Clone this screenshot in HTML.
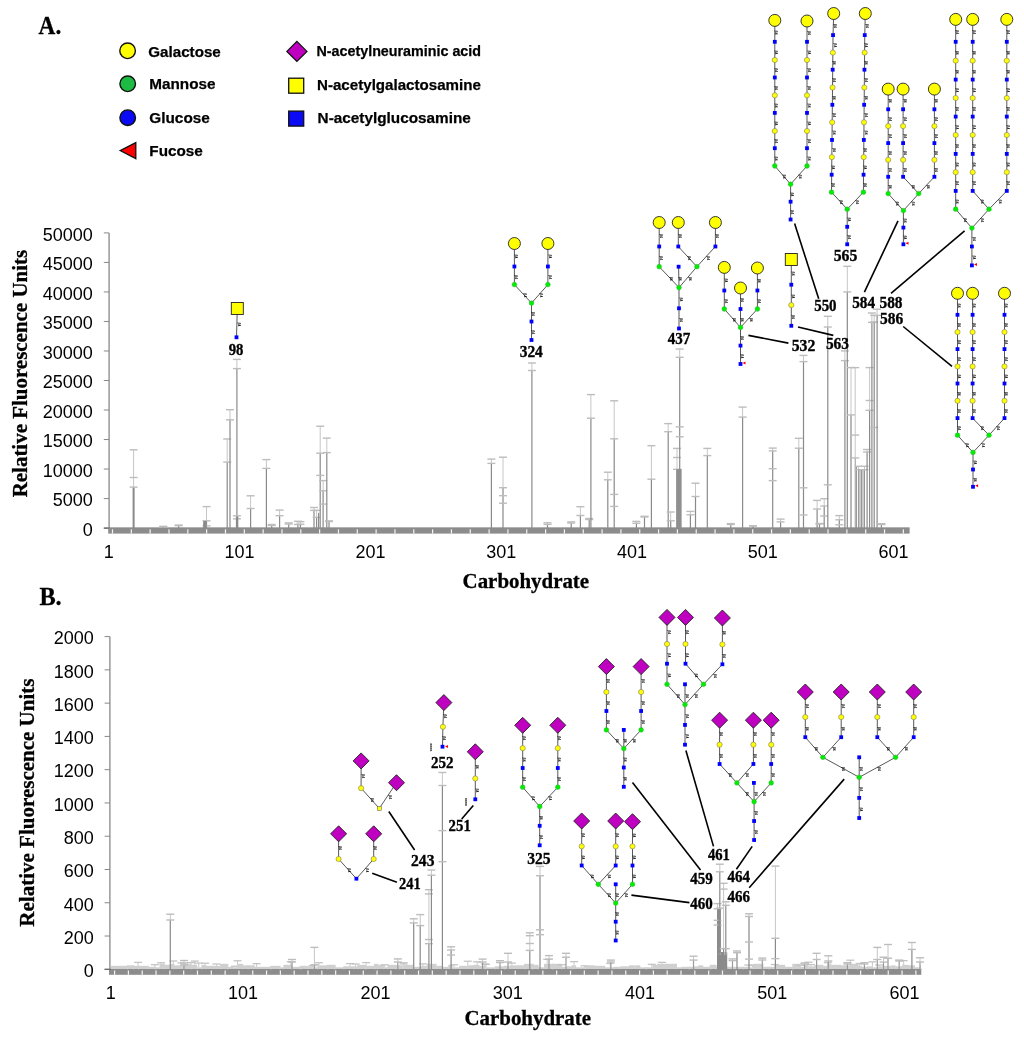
<!DOCTYPE html>
<html><head><meta charset="utf-8"><style>
html,body{margin:0;padding:0;background:#fff;}
body{width:1024px;height:1037px;overflow:hidden;}
svg{display:block;will-change:transform;}
</style></head><body>
<svg width="1024" height="1037" viewBox="0 0 1024 1037">
<rect width="1024" height="1037" fill="#fff"/>
<text x="38.6" y="33.8" font-size="25" font-family='"Liberation Serif", serif' font-weight="bold" text-anchor="start" fill="#000" textLength="22.6" lengthAdjust="spacingAndGlyphs" stroke="#000" stroke-width="0.3">A.</text>
<text x="39.4" y="605.4" font-size="25" font-family='"Liberation Serif", serif' font-weight="bold" text-anchor="start" fill="#000" textLength="22.3" lengthAdjust="spacingAndGlyphs" stroke="#000" stroke-width="0.3">B.</text>
<circle cx="127.6" cy="50.8" r="7.8" fill="#ffff00" stroke="#111" stroke-width="1.4"/>
<circle cx="127.7" cy="83.8" r="7.8" fill="#1dbb44" stroke="#111" stroke-width="1.4"/>
<circle cx="127.7" cy="117.7" r="7.8" fill="#0a0af5" stroke="#111" stroke-width="1.4"/>
<polygon points="120.2,150.6 135.8,142.6 135.8,158.6" fill="#ff0000" stroke="#111" stroke-width="1.3"/>
<polygon points="296.9,41.4 306.9,51.4 296.9,61.4 286.9,51.4" fill="#c000c0" stroke="#111" stroke-width="1.3"/>
<rect x="288.7" y="78.2" width="15" height="15" fill="#ffff00" stroke="#111" stroke-width="1.3"/>
<rect x="288.7" y="111.1" width="15" height="15" fill="#0a0af5" stroke="#111" stroke-width="1.3"/>
<text x="148.3" y="56.6" font-size="15" font-family='"Liberation Sans", sans-serif' font-weight="bold" text-anchor="start" fill="#000" textLength="72.5" lengthAdjust="spacingAndGlyphs" stroke="#000" stroke-width="0.25">Galactose</text>
<text x="149.3" y="89" font-size="15" font-family='"Liberation Sans", sans-serif' font-weight="bold" text-anchor="start" fill="#000" textLength="66.2" lengthAdjust="spacingAndGlyphs" stroke="#000" stroke-width="0.25">Mannose</text>
<text x="149.3" y="122.5" font-size="15" font-family='"Liberation Sans", sans-serif' font-weight="bold" text-anchor="start" fill="#000" textLength="60.5" lengthAdjust="spacingAndGlyphs" stroke="#000" stroke-width="0.25">Glucose</text>
<text x="149.3" y="155.8" font-size="15" font-family='"Liberation Sans", sans-serif' font-weight="bold" text-anchor="start" fill="#000" textLength="53.5" lengthAdjust="spacingAndGlyphs" stroke="#000" stroke-width="0.25">Fucose</text>
<text x="316.5" y="56.3" font-size="15" font-family='"Liberation Sans", sans-serif' font-weight="bold" text-anchor="start" fill="#000" textLength="164.5" lengthAdjust="spacingAndGlyphs" stroke="#000" stroke-width="0.25">N-acetylneuraminic acid</text>
<text x="317" y="89.6" font-size="15" font-family='"Liberation Sans", sans-serif' font-weight="bold" text-anchor="start" fill="#000" textLength="163.9" lengthAdjust="spacingAndGlyphs" stroke="#000" stroke-width="0.25">N-acetylgalactosamine</text>
<text x="317.6" y="123" font-size="15" font-family='"Liberation Sans", sans-serif' font-weight="bold" text-anchor="start" fill="#000" textLength="153.2" lengthAdjust="spacingAndGlyphs" stroke="#000" stroke-width="0.25">N-acetylglucosamine</text>
<line x1="109.1" y1="232.9" x2="109.1" y2="528.1" stroke="#888" stroke-width="1.3"/>
<line x1="103.8" y1="232.9" x2="109.1" y2="232.9" stroke="#888" stroke-width="1"/>
<text x="92.85" y="240.7" font-size="18" font-family='"Liberation Sans", sans-serif' font-weight="normal" text-anchor="end" fill="#000">50000</text>
<line x1="103.8" y1="262.42" x2="109.1" y2="262.42" stroke="#888" stroke-width="1"/>
<text x="92.85" y="270.22" font-size="18" font-family='"Liberation Sans", sans-serif' font-weight="normal" text-anchor="end" fill="#000">45000</text>
<line x1="103.8" y1="291.94" x2="109.1" y2="291.94" stroke="#888" stroke-width="1"/>
<text x="92.85" y="299.74" font-size="18" font-family='"Liberation Sans", sans-serif' font-weight="normal" text-anchor="end" fill="#000">40000</text>
<line x1="103.8" y1="321.46" x2="109.1" y2="321.46" stroke="#888" stroke-width="1"/>
<text x="92.85" y="329.26" font-size="18" font-family='"Liberation Sans", sans-serif' font-weight="normal" text-anchor="end" fill="#000">35000</text>
<line x1="103.8" y1="350.98" x2="109.1" y2="350.98" stroke="#888" stroke-width="1"/>
<text x="92.85" y="358.78" font-size="18" font-family='"Liberation Sans", sans-serif' font-weight="normal" text-anchor="end" fill="#000">30000</text>
<line x1="103.8" y1="380.5" x2="109.1" y2="380.5" stroke="#888" stroke-width="1"/>
<text x="92.85" y="388.3" font-size="18" font-family='"Liberation Sans", sans-serif' font-weight="normal" text-anchor="end" fill="#000">25000</text>
<line x1="103.8" y1="410.02" x2="109.1" y2="410.02" stroke="#888" stroke-width="1"/>
<text x="92.85" y="417.82" font-size="18" font-family='"Liberation Sans", sans-serif' font-weight="normal" text-anchor="end" fill="#000">20000</text>
<line x1="103.8" y1="439.54" x2="109.1" y2="439.54" stroke="#888" stroke-width="1"/>
<text x="92.85" y="447.34" font-size="18" font-family='"Liberation Sans", sans-serif' font-weight="normal" text-anchor="end" fill="#000">15000</text>
<line x1="103.8" y1="469.06" x2="109.1" y2="469.06" stroke="#888" stroke-width="1"/>
<text x="92.85" y="476.86" font-size="18" font-family='"Liberation Sans", sans-serif' font-weight="normal" text-anchor="end" fill="#000">10000</text>
<line x1="103.8" y1="498.58" x2="109.1" y2="498.58" stroke="#888" stroke-width="1"/>
<text x="92.85" y="506.38" font-size="18" font-family='"Liberation Sans", sans-serif' font-weight="normal" text-anchor="end" fill="#000">5000</text>
<line x1="103.8" y1="528.1" x2="109.1" y2="528.1" stroke="#888" stroke-width="1"/>
<text x="92.85" y="535.9" font-size="18" font-family='"Liberation Sans", sans-serif' font-weight="normal" text-anchor="end" fill="#000">0</text>
<line x1="103.8" y1="528.1" x2="909.6" y2="528.1" stroke="#666" stroke-width="1.2"/>
<rect x="108.2" y="528.6" width="801.4" height="5" fill="#8c8c8c"/>
<rect x="111.9" y="529.3" width="1.2" height="4.3" fill="#f4f4f4"/>
<rect x="130.73" y="529.3" width="1.2" height="4.3" fill="#f4f4f4"/>
<rect x="149.56" y="529.3" width="1.2" height="4.3" fill="#f4f4f4"/>
<rect x="168.39" y="529.3" width="1.2" height="4.3" fill="#f4f4f4"/>
<rect x="187.22" y="529.3" width="1.2" height="4.3" fill="#f4f4f4"/>
<rect x="206.05" y="529.3" width="1.2" height="4.3" fill="#f4f4f4"/>
<rect x="224.88" y="529.3" width="1.2" height="4.3" fill="#f4f4f4"/>
<rect x="243.71" y="529.3" width="1.2" height="4.3" fill="#f4f4f4"/>
<rect x="262.54" y="529.3" width="1.2" height="4.3" fill="#f4f4f4"/>
<rect x="281.37" y="529.3" width="1.2" height="4.3" fill="#f4f4f4"/>
<rect x="300.2" y="529.3" width="1.2" height="4.3" fill="#f4f4f4"/>
<rect x="319.03" y="529.3" width="1.2" height="4.3" fill="#f4f4f4"/>
<rect x="337.86" y="529.3" width="1.2" height="4.3" fill="#f4f4f4"/>
<rect x="356.69" y="529.3" width="1.2" height="4.3" fill="#f4f4f4"/>
<rect x="375.52" y="529.3" width="1.2" height="4.3" fill="#f4f4f4"/>
<rect x="394.35" y="529.3" width="1.2" height="4.3" fill="#f4f4f4"/>
<rect x="413.18" y="529.3" width="1.2" height="4.3" fill="#f4f4f4"/>
<rect x="432.01" y="529.3" width="1.2" height="4.3" fill="#f4f4f4"/>
<rect x="450.84" y="529.3" width="1.2" height="4.3" fill="#f4f4f4"/>
<rect x="469.67" y="529.3" width="1.2" height="4.3" fill="#f4f4f4"/>
<rect x="488.5" y="529.3" width="1.2" height="4.3" fill="#f4f4f4"/>
<rect x="507.33" y="529.3" width="1.2" height="4.3" fill="#f4f4f4"/>
<rect x="526.16" y="529.3" width="1.2" height="4.3" fill="#f4f4f4"/>
<rect x="544.99" y="529.3" width="1.2" height="4.3" fill="#f4f4f4"/>
<rect x="563.82" y="529.3" width="1.2" height="4.3" fill="#f4f4f4"/>
<rect x="582.65" y="529.3" width="1.2" height="4.3" fill="#f4f4f4"/>
<rect x="601.48" y="529.3" width="1.2" height="4.3" fill="#f4f4f4"/>
<rect x="620.31" y="529.3" width="1.2" height="4.3" fill="#f4f4f4"/>
<rect x="639.14" y="529.3" width="1.2" height="4.3" fill="#f4f4f4"/>
<rect x="657.97" y="529.3" width="1.2" height="4.3" fill="#f4f4f4"/>
<rect x="676.8" y="529.3" width="1.2" height="4.3" fill="#f4f4f4"/>
<rect x="695.63" y="529.3" width="1.2" height="4.3" fill="#f4f4f4"/>
<rect x="714.46" y="529.3" width="1.2" height="4.3" fill="#f4f4f4"/>
<rect x="733.29" y="529.3" width="1.2" height="4.3" fill="#f4f4f4"/>
<rect x="752.12" y="529.3" width="1.2" height="4.3" fill="#f4f4f4"/>
<rect x="770.95" y="529.3" width="1.2" height="4.3" fill="#f4f4f4"/>
<rect x="789.78" y="529.3" width="1.2" height="4.3" fill="#f4f4f4"/>
<rect x="808.61" y="529.3" width="1.2" height="4.3" fill="#f4f4f4"/>
<rect x="827.44" y="529.3" width="1.2" height="4.3" fill="#f4f4f4"/>
<rect x="846.27" y="529.3" width="1.2" height="4.3" fill="#f4f4f4"/>
<rect x="865.1" y="529.3" width="1.2" height="4.3" fill="#f4f4f4"/>
<rect x="883.93" y="529.3" width="1.2" height="4.3" fill="#f4f4f4"/>
<rect x="902.76" y="529.3" width="1.2" height="4.3" fill="#f4f4f4"/>
<text x="108.8" y="557.6" font-size="18" font-family='"Liberation Sans", sans-serif' font-weight="normal" text-anchor="middle" fill="#000">1</text>
<text x="239.6" y="557.6" font-size="18" font-family='"Liberation Sans", sans-serif' font-weight="normal" text-anchor="middle" fill="#000">101</text>
<text x="370.4" y="557.6" font-size="18" font-family='"Liberation Sans", sans-serif' font-weight="normal" text-anchor="middle" fill="#000">201</text>
<text x="501.2" y="557.6" font-size="18" font-family='"Liberation Sans", sans-serif' font-weight="normal" text-anchor="middle" fill="#000">301</text>
<text x="632" y="557.6" font-size="18" font-family='"Liberation Sans", sans-serif' font-weight="normal" text-anchor="middle" fill="#000">401</text>
<text x="762.8" y="557.6" font-size="18" font-family='"Liberation Sans", sans-serif' font-weight="normal" text-anchor="middle" fill="#000">501</text>
<text x="893.6" y="557.6" font-size="18" font-family='"Liberation Sans", sans-serif' font-weight="normal" text-anchor="middle" fill="#000">601</text>
<text transform="translate(27,373.6) rotate(-90)" font-size="21" font-family='"Liberation Serif", serif' font-weight="bold" text-anchor="middle" textLength="247.5" lengthAdjust="spacingAndGlyphs" stroke="#000" stroke-width="0.3">Relative Fluorescence Units</text>
<text x="462.6" y="587.9" font-size="21" font-family='"Liberation Serif", serif' font-weight="bold" text-anchor="start" fill="#000" textLength="126.5" lengthAdjust="spacingAndGlyphs" stroke="#000" stroke-width="0.3">Carbohydrate</text>
<line x1="109.9" y1="636.6" x2="109.9" y2="969.3" stroke="#888" stroke-width="1.3"/>
<line x1="104.6" y1="636.6" x2="109.9" y2="636.6" stroke="#888" stroke-width="1"/>
<text x="93.75" y="644.4" font-size="18" font-family='"Liberation Sans", sans-serif' font-weight="normal" text-anchor="end" fill="#000">2000</text>
<line x1="104.6" y1="669.87" x2="109.9" y2="669.87" stroke="#888" stroke-width="1"/>
<text x="93.75" y="677.67" font-size="18" font-family='"Liberation Sans", sans-serif' font-weight="normal" text-anchor="end" fill="#000">1800</text>
<line x1="104.6" y1="703.14" x2="109.9" y2="703.14" stroke="#888" stroke-width="1"/>
<text x="93.75" y="710.94" font-size="18" font-family='"Liberation Sans", sans-serif' font-weight="normal" text-anchor="end" fill="#000">1600</text>
<line x1="104.6" y1="736.41" x2="109.9" y2="736.41" stroke="#888" stroke-width="1"/>
<text x="93.75" y="744.21" font-size="18" font-family='"Liberation Sans", sans-serif' font-weight="normal" text-anchor="end" fill="#000">1400</text>
<line x1="104.6" y1="769.68" x2="109.9" y2="769.68" stroke="#888" stroke-width="1"/>
<text x="93.75" y="777.48" font-size="18" font-family='"Liberation Sans", sans-serif' font-weight="normal" text-anchor="end" fill="#000">1200</text>
<line x1="104.6" y1="802.95" x2="109.9" y2="802.95" stroke="#888" stroke-width="1"/>
<text x="93.75" y="810.75" font-size="18" font-family='"Liberation Sans", sans-serif' font-weight="normal" text-anchor="end" fill="#000">1000</text>
<line x1="104.6" y1="836.22" x2="109.9" y2="836.22" stroke="#888" stroke-width="1"/>
<text x="93.75" y="844.02" font-size="18" font-family='"Liberation Sans", sans-serif' font-weight="normal" text-anchor="end" fill="#000">800</text>
<line x1="104.6" y1="869.49" x2="109.9" y2="869.49" stroke="#888" stroke-width="1"/>
<text x="93.75" y="877.29" font-size="18" font-family='"Liberation Sans", sans-serif' font-weight="normal" text-anchor="end" fill="#000">600</text>
<line x1="104.6" y1="902.76" x2="109.9" y2="902.76" stroke="#888" stroke-width="1"/>
<text x="93.75" y="910.56" font-size="18" font-family='"Liberation Sans", sans-serif' font-weight="normal" text-anchor="end" fill="#000">400</text>
<line x1="104.6" y1="936.03" x2="109.9" y2="936.03" stroke="#888" stroke-width="1"/>
<text x="93.75" y="943.83" font-size="18" font-family='"Liberation Sans", sans-serif' font-weight="normal" text-anchor="end" fill="#000">200</text>
<line x1="104.6" y1="969.3" x2="109.9" y2="969.3" stroke="#888" stroke-width="1"/>
<text x="93.75" y="977.1" font-size="18" font-family='"Liberation Sans", sans-serif' font-weight="normal" text-anchor="end" fill="#000">0</text>
<line x1="104.6" y1="969.3" x2="921.3" y2="969.3" stroke="#666" stroke-width="1.2"/>
<rect x="109" y="969.8" width="812.3" height="5" fill="#8c8c8c"/>
<rect x="114" y="970.5" width="1.2" height="4.3" fill="#f4f4f4"/>
<rect x="127.81" y="970.5" width="1.2" height="4.3" fill="#f4f4f4"/>
<rect x="141.63" y="970.5" width="1.2" height="4.3" fill="#f4f4f4"/>
<rect x="155.44" y="970.5" width="1.2" height="4.3" fill="#f4f4f4"/>
<rect x="169.26" y="970.5" width="1.2" height="4.3" fill="#f4f4f4"/>
<rect x="183.07" y="970.5" width="1.2" height="4.3" fill="#f4f4f4"/>
<rect x="196.89" y="970.5" width="1.2" height="4.3" fill="#f4f4f4"/>
<rect x="210.7" y="970.5" width="1.2" height="4.3" fill="#f4f4f4"/>
<rect x="224.52" y="970.5" width="1.2" height="4.3" fill="#f4f4f4"/>
<rect x="238.33" y="970.5" width="1.2" height="4.3" fill="#f4f4f4"/>
<rect x="252.15" y="970.5" width="1.2" height="4.3" fill="#f4f4f4"/>
<rect x="265.96" y="970.5" width="1.2" height="4.3" fill="#f4f4f4"/>
<rect x="279.78" y="970.5" width="1.2" height="4.3" fill="#f4f4f4"/>
<rect x="293.59" y="970.5" width="1.2" height="4.3" fill="#f4f4f4"/>
<rect x="307.41" y="970.5" width="1.2" height="4.3" fill="#f4f4f4"/>
<rect x="321.22" y="970.5" width="1.2" height="4.3" fill="#f4f4f4"/>
<rect x="335.04" y="970.5" width="1.2" height="4.3" fill="#f4f4f4"/>
<rect x="348.85" y="970.5" width="1.2" height="4.3" fill="#f4f4f4"/>
<rect x="362.67" y="970.5" width="1.2" height="4.3" fill="#f4f4f4"/>
<rect x="376.48" y="970.5" width="1.2" height="4.3" fill="#f4f4f4"/>
<rect x="390.3" y="970.5" width="1.2" height="4.3" fill="#f4f4f4"/>
<rect x="404.11" y="970.5" width="1.2" height="4.3" fill="#f4f4f4"/>
<rect x="417.93" y="970.5" width="1.2" height="4.3" fill="#f4f4f4"/>
<rect x="431.74" y="970.5" width="1.2" height="4.3" fill="#f4f4f4"/>
<rect x="445.56" y="970.5" width="1.2" height="4.3" fill="#f4f4f4"/>
<rect x="459.37" y="970.5" width="1.2" height="4.3" fill="#f4f4f4"/>
<rect x="473.19" y="970.5" width="1.2" height="4.3" fill="#f4f4f4"/>
<rect x="487" y="970.5" width="1.2" height="4.3" fill="#f4f4f4"/>
<rect x="500.82" y="970.5" width="1.2" height="4.3" fill="#f4f4f4"/>
<rect x="514.63" y="970.5" width="1.2" height="4.3" fill="#f4f4f4"/>
<rect x="528.45" y="970.5" width="1.2" height="4.3" fill="#f4f4f4"/>
<rect x="542.27" y="970.5" width="1.2" height="4.3" fill="#f4f4f4"/>
<rect x="556.08" y="970.5" width="1.2" height="4.3" fill="#f4f4f4"/>
<rect x="569.9" y="970.5" width="1.2" height="4.3" fill="#f4f4f4"/>
<rect x="583.71" y="970.5" width="1.2" height="4.3" fill="#f4f4f4"/>
<rect x="597.53" y="970.5" width="1.2" height="4.3" fill="#f4f4f4"/>
<rect x="611.34" y="970.5" width="1.2" height="4.3" fill="#f4f4f4"/>
<rect x="625.16" y="970.5" width="1.2" height="4.3" fill="#f4f4f4"/>
<rect x="638.97" y="970.5" width="1.2" height="4.3" fill="#f4f4f4"/>
<rect x="652.79" y="970.5" width="1.2" height="4.3" fill="#f4f4f4"/>
<rect x="666.6" y="970.5" width="1.2" height="4.3" fill="#f4f4f4"/>
<rect x="680.42" y="970.5" width="1.2" height="4.3" fill="#f4f4f4"/>
<rect x="694.23" y="970.5" width="1.2" height="4.3" fill="#f4f4f4"/>
<rect x="708.05" y="970.5" width="1.2" height="4.3" fill="#f4f4f4"/>
<rect x="721.86" y="970.5" width="1.2" height="4.3" fill="#f4f4f4"/>
<rect x="735.68" y="970.5" width="1.2" height="4.3" fill="#f4f4f4"/>
<rect x="749.49" y="970.5" width="1.2" height="4.3" fill="#f4f4f4"/>
<rect x="763.31" y="970.5" width="1.2" height="4.3" fill="#f4f4f4"/>
<rect x="777.12" y="970.5" width="1.2" height="4.3" fill="#f4f4f4"/>
<rect x="790.94" y="970.5" width="1.2" height="4.3" fill="#f4f4f4"/>
<rect x="804.75" y="970.5" width="1.2" height="4.3" fill="#f4f4f4"/>
<rect x="818.57" y="970.5" width="1.2" height="4.3" fill="#f4f4f4"/>
<rect x="832.38" y="970.5" width="1.2" height="4.3" fill="#f4f4f4"/>
<rect x="846.2" y="970.5" width="1.2" height="4.3" fill="#f4f4f4"/>
<rect x="860.01" y="970.5" width="1.2" height="4.3" fill="#f4f4f4"/>
<rect x="873.83" y="970.5" width="1.2" height="4.3" fill="#f4f4f4"/>
<rect x="887.64" y="970.5" width="1.2" height="4.3" fill="#f4f4f4"/>
<rect x="901.46" y="970.5" width="1.2" height="4.3" fill="#f4f4f4"/>
<rect x="915.27" y="970.5" width="1.2" height="4.3" fill="#f4f4f4"/>
<text x="110.8" y="999" font-size="18" font-family='"Liberation Sans", sans-serif' font-weight="normal" text-anchor="middle" fill="#000">1</text>
<text x="243.1" y="999" font-size="18" font-family='"Liberation Sans", sans-serif' font-weight="normal" text-anchor="middle" fill="#000">101</text>
<text x="375.4" y="999" font-size="18" font-family='"Liberation Sans", sans-serif' font-weight="normal" text-anchor="middle" fill="#000">201</text>
<text x="507.7" y="999" font-size="18" font-family='"Liberation Sans", sans-serif' font-weight="normal" text-anchor="middle" fill="#000">301</text>
<text x="640" y="999" font-size="18" font-family='"Liberation Sans", sans-serif' font-weight="normal" text-anchor="middle" fill="#000">401</text>
<text x="772.3" y="999" font-size="18" font-family='"Liberation Sans", sans-serif' font-weight="normal" text-anchor="middle" fill="#000">501</text>
<text x="904.6" y="999" font-size="18" font-family='"Liberation Sans", sans-serif' font-weight="normal" text-anchor="middle" fill="#000">601</text>
<text transform="translate(33.6,802.6) rotate(-90)" font-size="21" font-family='"Liberation Serif", serif' font-weight="bold" text-anchor="middle" textLength="248.2" lengthAdjust="spacingAndGlyphs" stroke="#000" stroke-width="0.3">Relative Fluorescence Units</text>
<text x="464.5" y="1025.1" font-size="21" font-family='"Liberation Serif", serif' font-weight="bold" text-anchor="start" fill="#000" textLength="126.5" lengthAdjust="spacingAndGlyphs" stroke="#000" stroke-width="0.3">Carbohydrate</text>
<line x1="133.6" y1="449.8" x2="133.6" y2="487.1" stroke="#c6c6c6" stroke-width="1"/>
<rect x="132.6" y="487.1" width="2" height="41" fill="#8a8a8a"/>
<line x1="129.6" y1="449.8" x2="137.6" y2="449.8" stroke="#bdbdbd" stroke-width="1.4"/>
<line x1="129.6" y1="477.5" x2="137.6" y2="477.5" stroke="#bdbdbd" stroke-width="1.4"/>
<line x1="129.6" y1="487.1" x2="137.6" y2="487.1" stroke="#bdbdbd" stroke-width="1.4"/>
<line x1="163.3" y1="526.3" x2="163.3" y2="526.8" stroke="#c6c6c6" stroke-width="1"/>
<rect x="162.7" y="526.8" width="1.2" height="1.3" fill="#8a8a8a"/>
<line x1="159.3" y1="526.3" x2="167.3" y2="526.3" stroke="#bdbdbd" stroke-width="1.4"/>
<line x1="159.3" y1="526.8" x2="167.3" y2="526.8" stroke="#bdbdbd" stroke-width="1.4"/>
<line x1="178.7" y1="525.1" x2="178.7" y2="525.6" stroke="#c6c6c6" stroke-width="1"/>
<rect x="178.1" y="525.6" width="1.2" height="2.5" fill="#8a8a8a"/>
<line x1="174.7" y1="525.1" x2="182.7" y2="525.1" stroke="#bdbdbd" stroke-width="1.4"/>
<line x1="174.7" y1="525.6" x2="182.7" y2="525.6" stroke="#bdbdbd" stroke-width="1.4"/>
<rect x="203.4" y="523.5" width="1.2" height="4.6" fill="#8a8a8a"/>
<line x1="206.5" y1="506.6" x2="206.5" y2="520.8" stroke="#c6c6c6" stroke-width="1"/>
<rect x="205.9" y="520.8" width="1.2" height="7.3" fill="#8a8a8a"/>
<line x1="202.5" y1="506.6" x2="210.5" y2="506.6" stroke="#bdbdbd" stroke-width="1.4"/>
<line x1="202.5" y1="525.9" x2="210.5" y2="525.9" stroke="#bdbdbd" stroke-width="1.4"/>
<line x1="202.5" y1="520.8" x2="210.5" y2="520.8" stroke="#bdbdbd" stroke-width="1.4"/>
<line x1="227.2" y1="439" x2="227.2" y2="462.1" stroke="#c6c6c6" stroke-width="1"/>
<rect x="226.6" y="462.1" width="1.2" height="66" fill="#8a8a8a"/>
<line x1="223.2" y1="439" x2="231.2" y2="439" stroke="#bdbdbd" stroke-width="1.4"/>
<line x1="223.2" y1="462.1" x2="231.2" y2="462.1" stroke="#bdbdbd" stroke-width="1.4"/>
<line x1="230" y1="409.7" x2="230" y2="419.8" stroke="#c6c6c6" stroke-width="1"/>
<rect x="229.4" y="419.8" width="1.2" height="108.3" fill="#8a8a8a"/>
<line x1="226" y1="409.7" x2="234" y2="409.7" stroke="#bdbdbd" stroke-width="1.4"/>
<line x1="226" y1="419.8" x2="234" y2="419.8" stroke="#bdbdbd" stroke-width="1.4"/>
<line x1="236.9" y1="359.4" x2="236.9" y2="368.6" stroke="#c6c6c6" stroke-width="1"/>
<rect x="236.3" y="368.6" width="1.2" height="159.5" fill="#8a8a8a"/>
<line x1="232.9" y1="359.4" x2="240.9" y2="359.4" stroke="#bdbdbd" stroke-width="1.4"/>
<line x1="232.9" y1="515.8" x2="240.9" y2="515.8" stroke="#bdbdbd" stroke-width="1.4"/>
<line x1="232.9" y1="518.9" x2="240.9" y2="518.9" stroke="#bdbdbd" stroke-width="1.4"/>
<line x1="232.9" y1="368.6" x2="240.9" y2="368.6" stroke="#bdbdbd" stroke-width="1.4"/>
<line x1="250.6" y1="495.8" x2="250.6" y2="508.5" stroke="#c6c6c6" stroke-width="1"/>
<rect x="250" y="508.5" width="1.2" height="19.6" fill="#8a8a8a"/>
<line x1="246.6" y1="495.8" x2="254.6" y2="495.8" stroke="#bdbdbd" stroke-width="1.4"/>
<line x1="246.6" y1="508.5" x2="254.6" y2="508.5" stroke="#bdbdbd" stroke-width="1.4"/>
<line x1="266.4" y1="459.6" x2="266.4" y2="468.4" stroke="#c6c6c6" stroke-width="1"/>
<rect x="265.8" y="468.4" width="1.2" height="59.7" fill="#8a8a8a"/>
<line x1="262.4" y1="459.6" x2="270.4" y2="459.6" stroke="#bdbdbd" stroke-width="1.4"/>
<line x1="262.4" y1="468.4" x2="270.4" y2="468.4" stroke="#bdbdbd" stroke-width="1.4"/>
<line x1="271.7" y1="524.5" x2="271.7" y2="525.5" stroke="#c6c6c6" stroke-width="1"/>
<rect x="271.1" y="525.5" width="1.2" height="2.6" fill="#8a8a8a"/>
<line x1="267.7" y1="524.5" x2="275.7" y2="524.5" stroke="#bdbdbd" stroke-width="1.4"/>
<line x1="267.7" y1="525.5" x2="275.7" y2="525.5" stroke="#bdbdbd" stroke-width="1.4"/>
<line x1="279.6" y1="510.1" x2="279.6" y2="515.7" stroke="#c6c6c6" stroke-width="1"/>
<rect x="279" y="515.7" width="1.2" height="12.4" fill="#8a8a8a"/>
<line x1="275.6" y1="510.1" x2="283.6" y2="510.1" stroke="#bdbdbd" stroke-width="1.4"/>
<line x1="275.6" y1="515.7" x2="283.6" y2="515.7" stroke="#bdbdbd" stroke-width="1.4"/>
<line x1="288.7" y1="522.9" x2="288.7" y2="524" stroke="#c6c6c6" stroke-width="1"/>
<rect x="288.1" y="524" width="1.2" height="4.1" fill="#8a8a8a"/>
<line x1="284.7" y1="522.9" x2="292.7" y2="522.9" stroke="#bdbdbd" stroke-width="1.4"/>
<line x1="284.7" y1="524" x2="292.7" y2="524" stroke="#bdbdbd" stroke-width="1.4"/>
<line x1="297.9" y1="521.3" x2="297.9" y2="524.5" stroke="#c6c6c6" stroke-width="1"/>
<rect x="297.3" y="524.5" width="1.2" height="3.6" fill="#8a8a8a"/>
<line x1="293.9" y1="521.3" x2="301.9" y2="521.3" stroke="#bdbdbd" stroke-width="1.4"/>
<line x1="293.9" y1="524.5" x2="301.9" y2="524.5" stroke="#bdbdbd" stroke-width="1.4"/>
<line x1="300.4" y1="521.7" x2="300.4" y2="524.3" stroke="#c6c6c6" stroke-width="1"/>
<rect x="299.8" y="524.3" width="1.2" height="3.8" fill="#8a8a8a"/>
<line x1="296.4" y1="521.7" x2="304.4" y2="521.7" stroke="#bdbdbd" stroke-width="1.4"/>
<line x1="296.4" y1="524.3" x2="304.4" y2="524.3" stroke="#bdbdbd" stroke-width="1.4"/>
<line x1="314" y1="507.5" x2="314" y2="510.4" stroke="#c6c6c6" stroke-width="1"/>
<rect x="313.4" y="510.4" width="1.2" height="17.7" fill="#8a8a8a"/>
<line x1="310" y1="507.5" x2="318" y2="507.5" stroke="#bdbdbd" stroke-width="1.4"/>
<line x1="310" y1="510.4" x2="318" y2="510.4" stroke="#bdbdbd" stroke-width="1.4"/>
<line x1="316.6" y1="510.4" x2="316.6" y2="517.4" stroke="#c6c6c6" stroke-width="1"/>
<rect x="316" y="517.4" width="1.2" height="10.7" fill="#8a8a8a"/>
<line x1="312.6" y1="510.4" x2="320.6" y2="510.4" stroke="#bdbdbd" stroke-width="1.4"/>
<line x1="312.6" y1="517.4" x2="320.6" y2="517.4" stroke="#bdbdbd" stroke-width="1.4"/>
<rect x="318" y="512.8" width="1.2" height="15.3" fill="#8a8a8a"/>
<line x1="320.2" y1="426.2" x2="320.2" y2="453.2" stroke="#c6c6c6" stroke-width="1"/>
<rect x="319.6" y="453.2" width="1.2" height="74.9" fill="#8a8a8a"/>
<line x1="316.2" y1="426.2" x2="324.2" y2="426.2" stroke="#bdbdbd" stroke-width="1.4"/>
<line x1="316.2" y1="475.4" x2="324.2" y2="475.4" stroke="#bdbdbd" stroke-width="1.4"/>
<line x1="316.2" y1="453.2" x2="324.2" y2="453.2" stroke="#bdbdbd" stroke-width="1.4"/>
<line x1="323.1" y1="480.6" x2="323.1" y2="490.8" stroke="#c6c6c6" stroke-width="1"/>
<rect x="322.5" y="490.8" width="1.2" height="37.3" fill="#8a8a8a"/>
<line x1="319.1" y1="480.6" x2="327.1" y2="480.6" stroke="#bdbdbd" stroke-width="1.4"/>
<line x1="319.1" y1="504.1" x2="327.1" y2="504.1" stroke="#bdbdbd" stroke-width="1.4"/>
<line x1="319.1" y1="490.8" x2="327.1" y2="490.8" stroke="#bdbdbd" stroke-width="1.4"/>
<line x1="326.8" y1="438.1" x2="326.8" y2="452.6" stroke="#c6c6c6" stroke-width="1"/>
<rect x="326.2" y="452.6" width="1.2" height="75.5" fill="#8a8a8a"/>
<line x1="322.8" y1="438.1" x2="330.8" y2="438.1" stroke="#bdbdbd" stroke-width="1.4"/>
<line x1="322.8" y1="452.6" x2="330.8" y2="452.6" stroke="#bdbdbd" stroke-width="1.4"/>
<line x1="329" y1="520.9" x2="329" y2="521.5" stroke="#c6c6c6" stroke-width="1"/>
<rect x="328.4" y="521.5" width="1.2" height="6.6" fill="#8a8a8a"/>
<line x1="325" y1="520.9" x2="333" y2="520.9" stroke="#bdbdbd" stroke-width="1.4"/>
<line x1="325" y1="521.5" x2="333" y2="521.5" stroke="#bdbdbd" stroke-width="1.4"/>
<line x1="491.4" y1="459.1" x2="491.4" y2="463.4" stroke="#c6c6c6" stroke-width="1"/>
<rect x="490.8" y="463.4" width="1.2" height="64.7" fill="#8a8a8a"/>
<line x1="487.4" y1="459.1" x2="495.4" y2="459.1" stroke="#bdbdbd" stroke-width="1.4"/>
<line x1="487.4" y1="463.4" x2="495.4" y2="463.4" stroke="#bdbdbd" stroke-width="1.4"/>
<line x1="503" y1="457.2" x2="503" y2="487.7" stroke="#c6c6c6" stroke-width="1"/>
<rect x="502.4" y="487.7" width="1.2" height="40.4" fill="#8a8a8a"/>
<line x1="499" y1="457.2" x2="507" y2="457.2" stroke="#bdbdbd" stroke-width="1.4"/>
<line x1="499" y1="495.7" x2="507" y2="495.7" stroke="#bdbdbd" stroke-width="1.4"/>
<line x1="499" y1="503.2" x2="507" y2="503.2" stroke="#bdbdbd" stroke-width="1.4"/>
<line x1="499" y1="487.7" x2="507" y2="487.7" stroke="#bdbdbd" stroke-width="1.4"/>
<line x1="531.9" y1="363" x2="531.9" y2="370.5" stroke="#c6c6c6" stroke-width="1"/>
<rect x="531.3" y="370.5" width="1.2" height="157.6" fill="#8a8a8a"/>
<line x1="527.9" y1="363" x2="535.9" y2="363" stroke="#bdbdbd" stroke-width="1.4"/>
<line x1="527.9" y1="370.5" x2="535.9" y2="370.5" stroke="#bdbdbd" stroke-width="1.4"/>
<line x1="547.5" y1="522.8" x2="547.5" y2="524.4" stroke="#c6c6c6" stroke-width="1"/>
<rect x="546.9" y="524.4" width="1.2" height="3.7" fill="#8a8a8a"/>
<line x1="543.5" y1="522.8" x2="551.5" y2="522.8" stroke="#bdbdbd" stroke-width="1.4"/>
<line x1="543.5" y1="524.4" x2="551.5" y2="524.4" stroke="#bdbdbd" stroke-width="1.4"/>
<line x1="571.2" y1="521.9" x2="571.2" y2="523" stroke="#c6c6c6" stroke-width="1"/>
<rect x="570.6" y="523" width="1.2" height="5.1" fill="#8a8a8a"/>
<line x1="567.2" y1="521.9" x2="575.2" y2="521.9" stroke="#bdbdbd" stroke-width="1.4"/>
<line x1="567.2" y1="523" x2="575.2" y2="523" stroke="#bdbdbd" stroke-width="1.4"/>
<line x1="580.4" y1="506.7" x2="580.4" y2="515.5" stroke="#c6c6c6" stroke-width="1"/>
<rect x="579.8" y="515.5" width="1.2" height="12.6" fill="#8a8a8a"/>
<line x1="576.4" y1="506.7" x2="584.4" y2="506.7" stroke="#bdbdbd" stroke-width="1.4"/>
<line x1="576.4" y1="515.5" x2="584.4" y2="515.5" stroke="#bdbdbd" stroke-width="1.4"/>
<line x1="589.2" y1="518.5" x2="589.2" y2="519.5" stroke="#c6c6c6" stroke-width="1"/>
<rect x="588.6" y="519.5" width="1.2" height="8.6" fill="#8a8a8a"/>
<line x1="585.2" y1="518.5" x2="593.2" y2="518.5" stroke="#bdbdbd" stroke-width="1.4"/>
<line x1="585.2" y1="519.5" x2="593.2" y2="519.5" stroke="#bdbdbd" stroke-width="1.4"/>
<line x1="590.9" y1="394.6" x2="590.9" y2="418.2" stroke="#c6c6c6" stroke-width="1"/>
<rect x="590.3" y="418.2" width="1.2" height="109.9" fill="#8a8a8a"/>
<line x1="586.9" y1="394.6" x2="594.9" y2="394.6" stroke="#bdbdbd" stroke-width="1.4"/>
<line x1="586.9" y1="418.2" x2="594.9" y2="418.2" stroke="#bdbdbd" stroke-width="1.4"/>
<line x1="607.8" y1="472.2" x2="607.8" y2="479.8" stroke="#c6c6c6" stroke-width="1"/>
<rect x="607.2" y="479.8" width="1.2" height="48.3" fill="#8a8a8a"/>
<line x1="603.8" y1="472.2" x2="611.8" y2="472.2" stroke="#bdbdbd" stroke-width="1.4"/>
<line x1="603.8" y1="479.8" x2="611.8" y2="479.8" stroke="#bdbdbd" stroke-width="1.4"/>
<line x1="614.2" y1="400.8" x2="614.2" y2="438.8" stroke="#c6c6c6" stroke-width="1"/>
<rect x="613.6" y="438.8" width="1.2" height="89.3" fill="#8a8a8a"/>
<line x1="610.2" y1="400.8" x2="618.2" y2="400.8" stroke="#bdbdbd" stroke-width="1.4"/>
<line x1="610.2" y1="494.4" x2="618.2" y2="494.4" stroke="#bdbdbd" stroke-width="1.4"/>
<line x1="610.2" y1="506.4" x2="618.2" y2="506.4" stroke="#bdbdbd" stroke-width="1.4"/>
<line x1="610.2" y1="438.8" x2="618.2" y2="438.8" stroke="#bdbdbd" stroke-width="1.4"/>
<line x1="636.4" y1="521.4" x2="636.4" y2="523.3" stroke="#c6c6c6" stroke-width="1"/>
<rect x="635.8" y="523.3" width="1.2" height="4.8" fill="#8a8a8a"/>
<line x1="632.4" y1="521.4" x2="640.4" y2="521.4" stroke="#bdbdbd" stroke-width="1.4"/>
<line x1="632.4" y1="523.3" x2="640.4" y2="523.3" stroke="#bdbdbd" stroke-width="1.4"/>
<line x1="644.5" y1="516.3" x2="644.5" y2="517" stroke="#c6c6c6" stroke-width="1"/>
<rect x="643.9" y="517" width="1.2" height="11.1" fill="#8a8a8a"/>
<line x1="640.5" y1="516.3" x2="648.5" y2="516.3" stroke="#bdbdbd" stroke-width="1.4"/>
<line x1="640.5" y1="517" x2="648.5" y2="517" stroke="#bdbdbd" stroke-width="1.4"/>
<line x1="651.4" y1="445.7" x2="651.4" y2="479.2" stroke="#c6c6c6" stroke-width="1"/>
<rect x="650.8" y="479.2" width="1.2" height="48.9" fill="#8a8a8a"/>
<line x1="647.4" y1="445.7" x2="655.4" y2="445.7" stroke="#bdbdbd" stroke-width="1.4"/>
<line x1="647.4" y1="479.2" x2="655.4" y2="479.2" stroke="#bdbdbd" stroke-width="1.4"/>
<line x1="668.2" y1="423.6" x2="668.2" y2="431.7" stroke="#c6c6c6" stroke-width="1"/>
<rect x="667.6" y="431.7" width="1.2" height="96.4" fill="#8a8a8a"/>
<line x1="664.2" y1="423.6" x2="672.2" y2="423.6" stroke="#bdbdbd" stroke-width="1.4"/>
<line x1="664.2" y1="431.7" x2="672.2" y2="431.7" stroke="#bdbdbd" stroke-width="1.4"/>
<line x1="670.7" y1="512" x2="670.7" y2="520.8" stroke="#c6c6c6" stroke-width="1"/>
<rect x="670.1" y="520.8" width="1.2" height="7.3" fill="#8a8a8a"/>
<line x1="666.7" y1="512" x2="674.7" y2="512" stroke="#bdbdbd" stroke-width="1.4"/>
<line x1="666.7" y1="520.8" x2="674.7" y2="520.8" stroke="#bdbdbd" stroke-width="1.4"/>
<line x1="677" y1="448.4" x2="677" y2="469.3" stroke="#c6c6c6" stroke-width="1"/>
<rect x="676.4" y="469.3" width="1.2" height="58.8" fill="#8a8a8a"/>
<line x1="673" y1="448.4" x2="681" y2="448.4" stroke="#bdbdbd" stroke-width="1.4"/>
<line x1="673" y1="457.5" x2="681" y2="457.5" stroke="#bdbdbd" stroke-width="1.4"/>
<line x1="673" y1="469.3" x2="681" y2="469.3" stroke="#bdbdbd" stroke-width="1.4"/>
<rect x="677.7" y="469" width="1.2" height="59.1" fill="#8a8a8a"/>
<line x1="679.7" y1="349" x2="679.7" y2="357.3" stroke="#c6c6c6" stroke-width="1"/>
<rect x="679.1" y="357.3" width="1.2" height="170.8" fill="#8a8a8a"/>
<line x1="675.7" y1="349" x2="683.7" y2="349" stroke="#bdbdbd" stroke-width="1.4"/>
<line x1="675.7" y1="426.8" x2="683.7" y2="426.8" stroke="#bdbdbd" stroke-width="1.4"/>
<line x1="675.7" y1="436.8" x2="683.7" y2="436.8" stroke="#bdbdbd" stroke-width="1.4"/>
<line x1="675.7" y1="357.3" x2="683.7" y2="357.3" stroke="#bdbdbd" stroke-width="1.4"/>
<rect x="680.4" y="469" width="1.2" height="59.1" fill="#8a8a8a"/>
<line x1="690.4" y1="511.4" x2="690.4" y2="514.8" stroke="#c6c6c6" stroke-width="1"/>
<rect x="689.8" y="514.8" width="1.2" height="13.3" fill="#8a8a8a"/>
<line x1="686.4" y1="511.4" x2="694.4" y2="511.4" stroke="#bdbdbd" stroke-width="1.4"/>
<line x1="686.4" y1="514.8" x2="694.4" y2="514.8" stroke="#bdbdbd" stroke-width="1.4"/>
<line x1="695.5" y1="483.2" x2="695.5" y2="496.5" stroke="#c6c6c6" stroke-width="1"/>
<rect x="694.9" y="496.5" width="1.2" height="31.6" fill="#8a8a8a"/>
<line x1="691.5" y1="483.2" x2="699.5" y2="483.2" stroke="#bdbdbd" stroke-width="1.4"/>
<line x1="691.5" y1="496.5" x2="699.5" y2="496.5" stroke="#bdbdbd" stroke-width="1.4"/>
<line x1="707.3" y1="448.4" x2="707.3" y2="455.6" stroke="#c6c6c6" stroke-width="1"/>
<rect x="706.7" y="455.6" width="1.2" height="72.5" fill="#8a8a8a"/>
<line x1="703.3" y1="448.4" x2="711.3" y2="448.4" stroke="#bdbdbd" stroke-width="1.4"/>
<line x1="703.3" y1="455.6" x2="711.3" y2="455.6" stroke="#bdbdbd" stroke-width="1.4"/>
<line x1="730.8" y1="523.6" x2="730.8" y2="524.5" stroke="#c6c6c6" stroke-width="1"/>
<rect x="730.2" y="524.5" width="1.2" height="3.6" fill="#8a8a8a"/>
<line x1="726.8" y1="523.6" x2="734.8" y2="523.6" stroke="#bdbdbd" stroke-width="1.4"/>
<line x1="726.8" y1="524.5" x2="734.8" y2="524.5" stroke="#bdbdbd" stroke-width="1.4"/>
<line x1="742.6" y1="407.1" x2="742.6" y2="417.1" stroke="#c6c6c6" stroke-width="1"/>
<rect x="742" y="417.1" width="1.2" height="111" fill="#8a8a8a"/>
<line x1="738.6" y1="407.1" x2="746.6" y2="407.1" stroke="#bdbdbd" stroke-width="1.4"/>
<line x1="738.6" y1="417.1" x2="746.6" y2="417.1" stroke="#bdbdbd" stroke-width="1.4"/>
<line x1="753" y1="525.7" x2="753" y2="526" stroke="#c6c6c6" stroke-width="1"/>
<rect x="752.4" y="526" width="1.2" height="2.1" fill="#8a8a8a"/>
<line x1="749" y1="525.7" x2="757" y2="525.7" stroke="#bdbdbd" stroke-width="1.4"/>
<line x1="749" y1="526" x2="757" y2="526" stroke="#bdbdbd" stroke-width="1.4"/>
<line x1="772.7" y1="448.1" x2="772.7" y2="450.9" stroke="#c6c6c6" stroke-width="1"/>
<rect x="772.1" y="450.9" width="1.2" height="77.2" fill="#8a8a8a"/>
<line x1="768.7" y1="448.1" x2="776.7" y2="448.1" stroke="#bdbdbd" stroke-width="1.4"/>
<line x1="768.7" y1="468.7" x2="776.7" y2="468.7" stroke="#bdbdbd" stroke-width="1.4"/>
<line x1="768.7" y1="480.6" x2="776.7" y2="480.6" stroke="#bdbdbd" stroke-width="1.4"/>
<line x1="768.7" y1="450.9" x2="776.7" y2="450.9" stroke="#bdbdbd" stroke-width="1.4"/>
<line x1="780.6" y1="519.1" x2="780.6" y2="521.9" stroke="#c6c6c6" stroke-width="1"/>
<rect x="780" y="521.9" width="1.2" height="6.2" fill="#8a8a8a"/>
<line x1="776.6" y1="519.1" x2="784.6" y2="519.1" stroke="#bdbdbd" stroke-width="1.4"/>
<line x1="776.6" y1="521.9" x2="784.6" y2="521.9" stroke="#bdbdbd" stroke-width="1.4"/>
<line x1="798.8" y1="438.3" x2="798.8" y2="448.2" stroke="#c6c6c6" stroke-width="1"/>
<rect x="798.2" y="448.2" width="1.2" height="79.9" fill="#8a8a8a"/>
<line x1="794.8" y1="438.3" x2="802.8" y2="438.3" stroke="#bdbdbd" stroke-width="1.4"/>
<line x1="794.8" y1="448.2" x2="802.8" y2="448.2" stroke="#bdbdbd" stroke-width="1.4"/>
<line x1="803.5" y1="355.4" x2="803.5" y2="361.6" stroke="#c6c6c6" stroke-width="1"/>
<rect x="802.9" y="361.6" width="1.2" height="166.5" fill="#8a8a8a"/>
<line x1="799.5" y1="355.4" x2="807.5" y2="355.4" stroke="#bdbdbd" stroke-width="1.4"/>
<line x1="799.5" y1="487.8" x2="807.5" y2="487.8" stroke="#bdbdbd" stroke-width="1.4"/>
<line x1="799.5" y1="515" x2="807.5" y2="515" stroke="#bdbdbd" stroke-width="1.4"/>
<line x1="799.5" y1="361.6" x2="807.5" y2="361.6" stroke="#bdbdbd" stroke-width="1.4"/>
<line x1="817.1" y1="500.4" x2="817.1" y2="509" stroke="#c6c6c6" stroke-width="1"/>
<rect x="816.5" y="509" width="1.2" height="19.1" fill="#8a8a8a"/>
<line x1="813.1" y1="500.4" x2="821.1" y2="500.4" stroke="#bdbdbd" stroke-width="1.4"/>
<line x1="813.1" y1="509" x2="821.1" y2="509" stroke="#bdbdbd" stroke-width="1.4"/>
<line x1="819.5" y1="523.5" x2="819.5" y2="524" stroke="#c6c6c6" stroke-width="1"/>
<rect x="818.9" y="524" width="1.2" height="4.1" fill="#8a8a8a"/>
<line x1="815.5" y1="523.5" x2="823.5" y2="523.5" stroke="#bdbdbd" stroke-width="1.4"/>
<line x1="815.5" y1="524" x2="823.5" y2="524" stroke="#bdbdbd" stroke-width="1.4"/>
<line x1="824.2" y1="498.7" x2="824.2" y2="506" stroke="#c6c6c6" stroke-width="1"/>
<rect x="823.6" y="506" width="1.2" height="22.1" fill="#8a8a8a"/>
<line x1="820.2" y1="498.7" x2="828.2" y2="498.7" stroke="#bdbdbd" stroke-width="1.4"/>
<line x1="820.2" y1="516" x2="828.2" y2="516" stroke="#bdbdbd" stroke-width="1.4"/>
<line x1="820.2" y1="506" x2="828.2" y2="506" stroke="#bdbdbd" stroke-width="1.4"/>
<line x1="827.8" y1="316.3" x2="827.8" y2="327" stroke="#c6c6c6" stroke-width="1"/>
<rect x="827.2" y="327" width="1.2" height="201.1" fill="#8a8a8a"/>
<line x1="823.8" y1="316.3" x2="831.8" y2="316.3" stroke="#bdbdbd" stroke-width="1.4"/>
<line x1="823.8" y1="484.8" x2="831.8" y2="484.8" stroke="#bdbdbd" stroke-width="1.4"/>
<line x1="823.8" y1="327" x2="831.8" y2="327" stroke="#bdbdbd" stroke-width="1.4"/>
<line x1="839.3" y1="515.6" x2="839.3" y2="519.8" stroke="#c6c6c6" stroke-width="1"/>
<rect x="838.7" y="519.8" width="1.2" height="8.3" fill="#8a8a8a"/>
<line x1="835.3" y1="515.6" x2="843.3" y2="515.6" stroke="#bdbdbd" stroke-width="1.4"/>
<line x1="835.3" y1="524.8" x2="843.3" y2="524.8" stroke="#bdbdbd" stroke-width="1.4"/>
<line x1="835.3" y1="519.8" x2="843.3" y2="519.8" stroke="#bdbdbd" stroke-width="1.4"/>
<line x1="844.9" y1="350.9" x2="844.9" y2="360.6" stroke="#c6c6c6" stroke-width="1"/>
<rect x="844.3" y="360.6" width="1.2" height="167.5" fill="#8a8a8a"/>
<line x1="840.9" y1="350.9" x2="848.9" y2="350.9" stroke="#bdbdbd" stroke-width="1.4"/>
<line x1="840.9" y1="360.6" x2="848.9" y2="360.6" stroke="#bdbdbd" stroke-width="1.4"/>
<line x1="847.3" y1="266.3" x2="847.3" y2="291.9" stroke="#c6c6c6" stroke-width="1"/>
<rect x="846.7" y="291.9" width="1.2" height="236.2" fill="#8a8a8a"/>
<line x1="843.3" y1="266.3" x2="851.3" y2="266.3" stroke="#bdbdbd" stroke-width="1.4"/>
<line x1="843.3" y1="291.9" x2="851.3" y2="291.9" stroke="#bdbdbd" stroke-width="1.4"/>
<line x1="851" y1="367.6" x2="851" y2="414.9" stroke="#c6c6c6" stroke-width="1"/>
<rect x="850.4" y="414.9" width="1.2" height="113.2" fill="#8a8a8a"/>
<line x1="847" y1="367.6" x2="855" y2="367.6" stroke="#bdbdbd" stroke-width="1.4"/>
<line x1="847" y1="414.9" x2="855" y2="414.9" stroke="#bdbdbd" stroke-width="1.4"/>
<line x1="855.2" y1="367.6" x2="855.2" y2="457.9" stroke="#c6c6c6" stroke-width="1"/>
<rect x="854.75" y="457.9" width="0.9" height="70.2" fill="#8a8a8a"/>
<line x1="851.2" y1="367.6" x2="859.2" y2="367.6" stroke="#bdbdbd" stroke-width="1.4"/>
<line x1="851.2" y1="435.1" x2="859.2" y2="435.1" stroke="#bdbdbd" stroke-width="1.4"/>
<line x1="851.2" y1="457.9" x2="859.2" y2="457.9" stroke="#bdbdbd" stroke-width="1.4"/>
<rect x="856.15" y="466" width="0.9" height="62.1" fill="#8a8a8a"/>
<line x1="858.6" y1="466.3" x2="858.6" y2="469.7" stroke="#c6c6c6" stroke-width="1"/>
<rect x="858.15" y="469.7" width="0.9" height="58.4" fill="#8a8a8a"/>
<line x1="854.6" y1="466.3" x2="862.6" y2="466.3" stroke="#bdbdbd" stroke-width="1.4"/>
<line x1="854.6" y1="469.7" x2="862.6" y2="469.7" stroke="#bdbdbd" stroke-width="1.4"/>
<rect x="859.55" y="469.7" width="0.9" height="58.4" fill="#8a8a8a"/>
<rect x="861.05" y="469.7" width="0.9" height="58.4" fill="#8a8a8a"/>
<rect x="862.55" y="469.7" width="0.9" height="58.4" fill="#8a8a8a"/>
<line x1="864.5" y1="466.3" x2="864.5" y2="469.7" stroke="#c6c6c6" stroke-width="1"/>
<rect x="864.05" y="469.7" width="0.9" height="58.4" fill="#8a8a8a"/>
<line x1="860.5" y1="466.3" x2="868.5" y2="466.3" stroke="#bdbdbd" stroke-width="1.4"/>
<line x1="860.5" y1="469.7" x2="868.5" y2="469.7" stroke="#bdbdbd" stroke-width="1.4"/>
<line x1="867.1" y1="449.5" x2="867.1" y2="452" stroke="#c6c6c6" stroke-width="1"/>
<rect x="866.5" y="452" width="1.2" height="76.1" fill="#8a8a8a"/>
<line x1="863.1" y1="449.5" x2="871.1" y2="449.5" stroke="#bdbdbd" stroke-width="1.4"/>
<line x1="863.1" y1="452" x2="871.1" y2="452" stroke="#bdbdbd" stroke-width="1.4"/>
<line x1="869.6" y1="367.6" x2="869.6" y2="410.3" stroke="#c6c6c6" stroke-width="1"/>
<rect x="869" y="410.3" width="1.2" height="117.8" fill="#8a8a8a"/>
<line x1="865.6" y1="367.6" x2="873.6" y2="367.6" stroke="#bdbdbd" stroke-width="1.4"/>
<line x1="865.6" y1="400.5" x2="873.6" y2="400.5" stroke="#bdbdbd" stroke-width="1.4"/>
<line x1="865.6" y1="410.3" x2="873.6" y2="410.3" stroke="#bdbdbd" stroke-width="1.4"/>
<line x1="871.9" y1="313" x2="871.9" y2="322.4" stroke="#c6c6c6" stroke-width="1"/>
<rect x="871.3" y="322.4" width="1.2" height="205.7" fill="#8a8a8a"/>
<line x1="867.9" y1="313" x2="875.9" y2="313" stroke="#bdbdbd" stroke-width="1.4"/>
<line x1="867.9" y1="322.4" x2="875.9" y2="322.4" stroke="#bdbdbd" stroke-width="1.4"/>
<line x1="874.2" y1="315.4" x2="874.2" y2="322" stroke="#c6c6c6" stroke-width="1"/>
<rect x="873.6" y="322" width="1.2" height="206.1" fill="#8a8a8a"/>
<line x1="870.2" y1="315.4" x2="878.2" y2="315.4" stroke="#bdbdbd" stroke-width="1.4"/>
<line x1="870.2" y1="427.5" x2="878.2" y2="427.5" stroke="#bdbdbd" stroke-width="1.4"/>
<line x1="870.2" y1="322" x2="878.2" y2="322" stroke="#bdbdbd" stroke-width="1.4"/>
<line x1="877.1" y1="309.2" x2="877.1" y2="315.4" stroke="#c6c6c6" stroke-width="1"/>
<rect x="876.5" y="315.4" width="1.2" height="212.7" fill="#8a8a8a"/>
<line x1="873.1" y1="309.2" x2="881.1" y2="309.2" stroke="#bdbdbd" stroke-width="1.4"/>
<line x1="873.1" y1="315.4" x2="881.1" y2="315.4" stroke="#bdbdbd" stroke-width="1.4"/>
<line x1="881.4" y1="523.7" x2="881.4" y2="524.5" stroke="#c6c6c6" stroke-width="1"/>
<rect x="880.8" y="524.5" width="1.2" height="3.6" fill="#8a8a8a"/>
<line x1="877.4" y1="523.7" x2="885.4" y2="523.7" stroke="#bdbdbd" stroke-width="1.4"/>
<line x1="877.4" y1="524.5" x2="885.4" y2="524.5" stroke="#bdbdbd" stroke-width="1.4"/>
<rect x="203.2" y="521" width="3.3" height="7.1" fill="#8a8a8a"/>
<rect x="235.9" y="516.5" width="2.4" height="11.6" fill="#8a8a8a"/>
<rect x="676.3" y="469.3" width="4.7" height="58.8" fill="#8f8f8f"/>
<rect x="111" y="965.8" width="10.06" height="3.5" fill="#d0d0d0"/>
<rect x="120.62" y="965.8" width="7.55" height="3.5" fill="#d0d0d0"/>
<rect x="126.94" y="965.3" width="7.33" height="4" fill="#d0d0d0"/>
<rect x="133.08" y="965.8" width="6.12" height="3.5" fill="#d0d0d0"/>
<line x1="138.04" y1="962.37" x2="138.04" y2="965.8" stroke="#c8c8c8" stroke-width="1"/>
<line x1="134.04" y1="962.37" x2="142.04" y2="962.37" stroke="#c4c4c4" stroke-width="1.3"/>
<rect x="138.03" y="965.8" width="10.75" height="3.5" fill="#d0d0d0"/>
<rect x="147.96" y="966.8" width="8.36" height="2.5" fill="#d0d0d0"/>
<rect x="154.75" y="967.3" width="5.33" height="2" fill="#d0d0d0"/>
<line x1="154.91" y1="964.68" x2="154.91" y2="967.3" stroke="#c8c8c8" stroke-width="1"/>
<line x1="150.91" y1="964.68" x2="158.91" y2="964.68" stroke="#c4c4c4" stroke-width="1.3"/>
<rect x="159.49" y="963.8" width="5.37" height="5.5" fill="#d0d0d0"/>
<line x1="161.07" y1="962.78" x2="161.07" y2="963.8" stroke="#c8c8c8" stroke-width="1"/>
<line x1="157.07" y1="962.78" x2="165.07" y2="962.78" stroke="#c4c4c4" stroke-width="1.3"/>
<rect x="163.87" y="964.8" width="5.95" height="4.5" fill="#d0d0d0"/>
<rect x="169.81" y="963.8" width="4.58" height="5.5" fill="#d0d0d0"/>
<line x1="173.29" y1="961" x2="173.29" y2="963.8" stroke="#c8c8c8" stroke-width="1"/>
<line x1="169.29" y1="961" x2="177.29" y2="961" stroke="#c4c4c4" stroke-width="1.3"/>
<rect x="173.51" y="965.3" width="9.36" height="4" fill="#d0d0d0"/>
<line x1="181.43" y1="962.95" x2="181.43" y2="965.3" stroke="#c8c8c8" stroke-width="1"/>
<line x1="177.43" y1="962.95" x2="185.43" y2="962.95" stroke="#c4c4c4" stroke-width="1.3"/>
<rect x="182.79" y="963.8" width="8.79" height="5.5" fill="#d0d0d0"/>
<line x1="190.95" y1="962.62" x2="190.95" y2="963.8" stroke="#c8c8c8" stroke-width="1"/>
<line x1="186.95" y1="962.62" x2="194.95" y2="962.62" stroke="#c4c4c4" stroke-width="1.3"/>
<rect x="190.49" y="964.8" width="6.78" height="4.5" fill="#d0d0d0"/>
<line x1="194.76" y1="961.08" x2="194.76" y2="964.8" stroke="#c8c8c8" stroke-width="1"/>
<line x1="190.76" y1="961.08" x2="198.76" y2="961.08" stroke="#c4c4c4" stroke-width="1.3"/>
<rect x="196.28" y="967.3" width="6.18" height="2" fill="#d0d0d0"/>
<line x1="198.81" y1="963.07" x2="198.81" y2="967.3" stroke="#c8c8c8" stroke-width="1"/>
<line x1="194.81" y1="963.07" x2="202.81" y2="963.07" stroke="#c4c4c4" stroke-width="1.3"/>
<rect x="201.39" y="964.8" width="4.71" height="4.5" fill="#d0d0d0"/>
<line x1="205.14" y1="963.18" x2="205.14" y2="964.8" stroke="#c8c8c8" stroke-width="1"/>
<line x1="201.14" y1="963.18" x2="209.14" y2="963.18" stroke="#c4c4c4" stroke-width="1.3"/>
<rect x="205.68" y="965.8" width="7.56" height="3.5" fill="#d0d0d0"/>
<rect x="212.9" y="965.8" width="8.51" height="3.5" fill="#d0d0d0"/>
<line x1="216.47" y1="964.05" x2="216.47" y2="965.8" stroke="#c8c8c8" stroke-width="1"/>
<line x1="212.47" y1="964.05" x2="220.47" y2="964.05" stroke="#c4c4c4" stroke-width="1.3"/>
<rect x="220.16" y="963.8" width="8.15" height="5.5" fill="#d0d0d0"/>
<rect x="226.71" y="966.8" width="6.76" height="2.5" fill="#d0d0d0"/>
<rect x="232.99" y="967.3" width="4.29" height="2" fill="#d0d0d0"/>
<line x1="234.88" y1="966.27" x2="234.88" y2="967.3" stroke="#c8c8c8" stroke-width="1"/>
<line x1="230.88" y1="966.27" x2="238.88" y2="966.27" stroke="#c4c4c4" stroke-width="1.3"/>
<rect x="236.95" y="963.8" width="6.07" height="5.5" fill="#d0d0d0"/>
<line x1="237.49" y1="960.76" x2="237.49" y2="963.8" stroke="#c8c8c8" stroke-width="1"/>
<line x1="233.49" y1="960.76" x2="241.49" y2="960.76" stroke="#c4c4c4" stroke-width="1.3"/>
<rect x="242.1" y="965.3" width="6.58" height="4" fill="#d0d0d0"/>
<rect x="247.53" y="965.3" width="7.39" height="4" fill="#d0d0d0"/>
<rect x="254.72" y="966.8" width="8.39" height="2.5" fill="#d0d0d0"/>
<line x1="256.64" y1="963.66" x2="256.64" y2="966.8" stroke="#c8c8c8" stroke-width="1"/>
<line x1="252.64" y1="963.66" x2="260.64" y2="963.66" stroke="#c4c4c4" stroke-width="1.3"/>
<rect x="262.65" y="966.8" width="9.18" height="2.5" fill="#d0d0d0"/>
<rect x="270.35" y="965.8" width="10.18" height="3.5" fill="#d0d0d0"/>
<rect x="279.35" y="967.3" width="4.76" height="2" fill="#d0d0d0"/>
<rect x="283.4" y="964.8" width="8.93" height="4.5" fill="#d0d0d0"/>
<line x1="290.76" y1="961.71" x2="290.76" y2="964.8" stroke="#c8c8c8" stroke-width="1"/>
<line x1="286.76" y1="961.71" x2="294.76" y2="961.71" stroke="#c4c4c4" stroke-width="1.3"/>
<rect x="291.07" y="966.8" width="10.5" height="2.5" fill="#d0d0d0"/>
<rect x="299.74" y="965.8" width="7.92" height="3.5" fill="#d0d0d0"/>
<rect x="307.05" y="966.3" width="5.49" height="3" fill="#d0d0d0"/>
<rect x="312.26" y="967.3" width="5.88" height="2" fill="#d0d0d0"/>
<line x1="312.62" y1="965.68" x2="312.62" y2="967.3" stroke="#c8c8c8" stroke-width="1"/>
<line x1="308.62" y1="965.68" x2="316.62" y2="965.68" stroke="#c4c4c4" stroke-width="1.3"/>
<rect x="317.4" y="965.3" width="10.81" height="4" fill="#d0d0d0"/>
<line x1="318.9" y1="962.72" x2="318.9" y2="965.3" stroke="#c8c8c8" stroke-width="1"/>
<line x1="314.9" y1="962.72" x2="322.9" y2="962.72" stroke="#c4c4c4" stroke-width="1.3"/>
<rect x="326.77" y="964.8" width="8.84" height="4.5" fill="#d0d0d0"/>
<rect x="334.09" y="967.3" width="10.47" height="2" fill="#d0d0d0"/>
<rect x="343.21" y="966.3" width="10.74" height="3" fill="#d0d0d0"/>
<line x1="350.04" y1="963.61" x2="350.04" y2="966.3" stroke="#c8c8c8" stroke-width="1"/>
<line x1="346.04" y1="963.61" x2="354.04" y2="963.61" stroke="#c4c4c4" stroke-width="1.3"/>
<rect x="353.37" y="966.3" width="4.96" height="3" fill="#d0d0d0"/>
<line x1="355.61" y1="964.01" x2="355.61" y2="966.3" stroke="#c8c8c8" stroke-width="1"/>
<line x1="351.61" y1="964.01" x2="359.61" y2="964.01" stroke="#c4c4c4" stroke-width="1.3"/>
<rect x="357.38" y="964.8" width="9.16" height="4.5" fill="#d0d0d0"/>
<line x1="366.2" y1="962.6" x2="366.2" y2="964.8" stroke="#c8c8c8" stroke-width="1"/>
<line x1="362.2" y1="962.6" x2="370.2" y2="962.6" stroke="#c4c4c4" stroke-width="1.3"/>
<rect x="364.86" y="965.8" width="10.31" height="3.5" fill="#d0d0d0"/>
<rect x="373.96" y="963.8" width="4.21" height="5.5" fill="#d0d0d0"/>
<rect x="377.35" y="964.8" width="6.68" height="4.5" fill="#d0d0d0"/>
<rect x="383.5" y="967.3" width="4.63" height="2" fill="#d0d0d0"/>
<line x1="384.69" y1="964.84" x2="384.69" y2="967.3" stroke="#c8c8c8" stroke-width="1"/>
<line x1="380.69" y1="964.84" x2="388.69" y2="964.84" stroke="#c4c4c4" stroke-width="1.3"/>
<rect x="387.51" y="964.8" width="8.86" height="4.5" fill="#d0d0d0"/>
<rect x="395.42" y="965.3" width="4.59" height="4" fill="#d0d0d0"/>
<rect x="399.12" y="965.3" width="4.61" height="4" fill="#d0d0d0"/>
<line x1="403.53" y1="963.9" x2="403.53" y2="965.3" stroke="#c8c8c8" stroke-width="1"/>
<line x1="399.53" y1="963.9" x2="407.53" y2="963.9" stroke="#c4c4c4" stroke-width="1.3"/>
<rect x="403.53" y="964.8" width="10.44" height="4.5" fill="#d0d0d0"/>
<line x1="403.65" y1="962.75" x2="403.65" y2="964.8" stroke="#c8c8c8" stroke-width="1"/>
<line x1="399.65" y1="962.75" x2="407.65" y2="962.75" stroke="#c4c4c4" stroke-width="1.3"/>
<rect x="413.3" y="966.8" width="7.63" height="2.5" fill="#d0d0d0"/>
<rect x="419.92" y="965.8" width="7.49" height="3.5" fill="#d0d0d0"/>
<line x1="422.95" y1="963.92" x2="422.95" y2="965.8" stroke="#c8c8c8" stroke-width="1"/>
<line x1="418.95" y1="963.92" x2="426.95" y2="963.92" stroke="#c4c4c4" stroke-width="1.3"/>
<rect x="426.86" y="963.8" width="9.64" height="5.5" fill="#d0d0d0"/>
<rect x="436.28" y="965.8" width="5.54" height="3.5" fill="#d0d0d0"/>
<rect x="440.94" y="966.8" width="7.48" height="2.5" fill="#d0d0d0"/>
<rect x="448.19" y="964.8" width="4.45" height="4.5" fill="#d0d0d0"/>
<rect x="452.48" y="967.3" width="7.15" height="2" fill="#d0d0d0"/>
<line x1="454.01" y1="964.85" x2="454.01" y2="967.3" stroke="#c8c8c8" stroke-width="1"/>
<line x1="450.01" y1="964.85" x2="458.01" y2="964.85" stroke="#c4c4c4" stroke-width="1.3"/>
<rect x="459.1" y="965.8" width="8.71" height="3.5" fill="#d0d0d0"/>
<rect x="467.53" y="965.3" width="7.17" height="4" fill="#d0d0d0"/>
<line x1="467.75" y1="961.25" x2="467.75" y2="965.3" stroke="#c8c8c8" stroke-width="1"/>
<line x1="463.75" y1="961.25" x2="471.75" y2="961.25" stroke="#c4c4c4" stroke-width="1.3"/>
<rect x="473.32" y="964.8" width="5.97" height="4.5" fill="#d0d0d0"/>
<line x1="477.19" y1="961.83" x2="477.19" y2="964.8" stroke="#c8c8c8" stroke-width="1"/>
<line x1="473.19" y1="961.83" x2="481.19" y2="961.83" stroke="#c4c4c4" stroke-width="1.3"/>
<rect x="478.86" y="965.8" width="7.18" height="3.5" fill="#d0d0d0"/>
<line x1="484.82" y1="963.97" x2="484.82" y2="965.8" stroke="#c8c8c8" stroke-width="1"/>
<line x1="480.82" y1="963.97" x2="488.82" y2="963.97" stroke="#c4c4c4" stroke-width="1.3"/>
<rect x="484.81" y="967.3" width="10.89" height="2" fill="#d0d0d0"/>
<line x1="485.99" y1="964.43" x2="485.99" y2="967.3" stroke="#c8c8c8" stroke-width="1"/>
<line x1="481.99" y1="964.43" x2="489.99" y2="964.43" stroke="#c4c4c4" stroke-width="1.3"/>
<rect x="494.91" y="966.3" width="10.71" height="3" fill="#d0d0d0"/>
<rect x="503.91" y="965.8" width="5.79" height="3.5" fill="#d0d0d0"/>
<rect x="509.41" y="965.3" width="9" height="4" fill="#d0d0d0"/>
<line x1="511.87" y1="963.09" x2="511.87" y2="965.3" stroke="#c8c8c8" stroke-width="1"/>
<line x1="507.87" y1="963.09" x2="515.87" y2="963.09" stroke="#c4c4c4" stroke-width="1.3"/>
<rect x="517.87" y="965.3" width="7.5" height="4" fill="#d0d0d0"/>
<rect x="524.11" y="963.8" width="9.54" height="5.5" fill="#d0d0d0"/>
<rect x="531.91" y="964.8" width="6.72" height="4.5" fill="#d0d0d0"/>
<rect x="537.55" y="967.3" width="6.64" height="2" fill="#d0d0d0"/>
<rect x="544.03" y="963.8" width="9.74" height="5.5" fill="#d0d0d0"/>
<line x1="547.2" y1="959.36" x2="547.2" y2="963.8" stroke="#c8c8c8" stroke-width="1"/>
<line x1="543.2" y1="959.36" x2="551.2" y2="959.36" stroke="#c4c4c4" stroke-width="1.3"/>
<rect x="552.01" y="963.8" width="9.73" height="5.5" fill="#d0d0d0"/>
<rect x="561.19" y="966.8" width="5.7" height="2.5" fill="#d0d0d0"/>
<line x1="561.69" y1="964.72" x2="561.69" y2="966.8" stroke="#c8c8c8" stroke-width="1"/>
<line x1="557.69" y1="964.72" x2="565.69" y2="964.72" stroke="#c4c4c4" stroke-width="1.3"/>
<rect x="566.86" y="966.3" width="5.83" height="3" fill="#d0d0d0"/>
<rect x="571.54" y="965.3" width="4.58" height="4" fill="#d0d0d0"/>
<line x1="574.06" y1="961.61" x2="574.06" y2="965.3" stroke="#c8c8c8" stroke-width="1"/>
<line x1="570.06" y1="961.61" x2="578.06" y2="961.61" stroke="#c4c4c4" stroke-width="1.3"/>
<rect x="575.65" y="967.3" width="5.53" height="2" fill="#d0d0d0"/>
<rect x="580.55" y="967.3" width="5.21" height="2" fill="#d0d0d0"/>
<line x1="584.65" y1="965.81" x2="584.65" y2="967.3" stroke="#c8c8c8" stroke-width="1"/>
<line x1="580.65" y1="965.81" x2="588.65" y2="965.81" stroke="#c4c4c4" stroke-width="1.3"/>
<rect x="584.87" y="965.3" width="10.3" height="4" fill="#d0d0d0"/>
<rect x="594.51" y="965.8" width="10.62" height="3.5" fill="#d0d0d0"/>
<rect x="605.02" y="967.3" width="9.3" height="2" fill="#d0d0d0"/>
<line x1="610.22" y1="963.39" x2="610.22" y2="967.3" stroke="#c8c8c8" stroke-width="1"/>
<line x1="606.22" y1="963.39" x2="614.22" y2="963.39" stroke="#c4c4c4" stroke-width="1.3"/>
<rect x="613.51" y="966.8" width="7.66" height="2.5" fill="#d0d0d0"/>
<rect x="620.5" y="966.3" width="8.7" height="3" fill="#d0d0d0"/>
<rect x="628.97" y="965.3" width="5.46" height="4" fill="#d0d0d0"/>
<rect x="634.39" y="965.3" width="5.91" height="4" fill="#d0d0d0"/>
<rect x="639.61" y="967.3" width="7.52" height="2" fill="#d0d0d0"/>
<rect x="645.67" y="967.3" width="7.61" height="2" fill="#d0d0d0"/>
<line x1="651.77" y1="964.33" x2="651.77" y2="967.3" stroke="#c8c8c8" stroke-width="1"/>
<line x1="647.77" y1="964.33" x2="655.77" y2="964.33" stroke="#c4c4c4" stroke-width="1.3"/>
<rect x="652.5" y="964.8" width="5.17" height="4.5" fill="#d0d0d0"/>
<rect x="657.11" y="963.8" width="10.46" height="5.5" fill="#d0d0d0"/>
<line x1="662.06" y1="962.36" x2="662.06" y2="963.8" stroke="#c8c8c8" stroke-width="1"/>
<line x1="658.06" y1="962.36" x2="666.06" y2="962.36" stroke="#c4c4c4" stroke-width="1.3"/>
<rect x="666.39" y="963.8" width="10.55" height="5.5" fill="#d0d0d0"/>
<rect x="675.94" y="967.3" width="5.34" height="2" fill="#d0d0d0"/>
<rect x="681.2" y="966.8" width="8.91" height="2.5" fill="#d0d0d0"/>
<rect x="688.4" y="966.8" width="5.59" height="2.5" fill="#d0d0d0"/>
<rect x="693.23" y="966.3" width="5.71" height="3" fill="#d0d0d0"/>
<rect x="698.37" y="965.3" width="4.86" height="4" fill="#d0d0d0"/>
<rect x="702.5" y="966.8" width="8.91" height="2.5" fill="#d0d0d0"/>
<rect x="709.67" y="964.8" width="6.89" height="4.5" fill="#d0d0d0"/>
<rect x="715.4" y="966.8" width="10.05" height="2.5" fill="#d0d0d0"/>
<rect x="723.88" y="966.8" width="9.96" height="2.5" fill="#d0d0d0"/>
<rect x="733.55" y="966.8" width="10.4" height="2.5" fill="#d0d0d0"/>
<rect x="742.6" y="966.8" width="6.21" height="2.5" fill="#d0d0d0"/>
<line x1="748.33" y1="965.04" x2="748.33" y2="966.8" stroke="#c8c8c8" stroke-width="1"/>
<line x1="744.33" y1="965.04" x2="752.33" y2="965.04" stroke="#c4c4c4" stroke-width="1.3"/>
<rect x="748.81" y="967.3" width="4.94" height="2" fill="#d0d0d0"/>
<line x1="752.4" y1="965.39" x2="752.4" y2="967.3" stroke="#c8c8c8" stroke-width="1"/>
<line x1="748.4" y1="965.39" x2="756.4" y2="965.39" stroke="#c4c4c4" stroke-width="1.3"/>
<rect x="752.85" y="963.8" width="10.59" height="5.5" fill="#d0d0d0"/>
<rect x="762.82" y="966.8" width="6.82" height="2.5" fill="#d0d0d0"/>
<rect x="768.3" y="966.8" width="7.99" height="2.5" fill="#d0d0d0"/>
<line x1="774.86" y1="964.54" x2="774.86" y2="966.8" stroke="#c8c8c8" stroke-width="1"/>
<line x1="770.86" y1="964.54" x2="778.86" y2="964.54" stroke="#c4c4c4" stroke-width="1.3"/>
<rect x="775.81" y="964.8" width="9.31" height="4.5" fill="#d0d0d0"/>
<rect x="784.54" y="966.8" width="9.62" height="2.5" fill="#d0d0d0"/>
<rect x="792.28" y="963.8" width="7.86" height="5.5" fill="#d0d0d0"/>
<rect x="799.46" y="966.8" width="5.33" height="2.5" fill="#d0d0d0"/>
<line x1="800.38" y1="965.25" x2="800.38" y2="966.8" stroke="#c8c8c8" stroke-width="1"/>
<line x1="796.38" y1="965.25" x2="804.38" y2="965.25" stroke="#c4c4c4" stroke-width="1.3"/>
<rect x="804.03" y="964.8" width="4.67" height="4.5" fill="#d0d0d0"/>
<line x1="808.47" y1="962.18" x2="808.47" y2="964.8" stroke="#c8c8c8" stroke-width="1"/>
<line x1="804.47" y1="962.18" x2="812.47" y2="962.18" stroke="#c4c4c4" stroke-width="1.3"/>
<rect x="808.47" y="966.3" width="6.74" height="3" fill="#d0d0d0"/>
<line x1="810.86" y1="964.56" x2="810.86" y2="966.3" stroke="#c8c8c8" stroke-width="1"/>
<line x1="806.86" y1="964.56" x2="814.86" y2="964.56" stroke="#c4c4c4" stroke-width="1.3"/>
<rect x="814.36" y="964.8" width="8.91" height="4.5" fill="#d0d0d0"/>
<rect x="821.81" y="965.8" width="6.52" height="3.5" fill="#d0d0d0"/>
<line x1="827.82" y1="962.68" x2="827.82" y2="965.8" stroke="#c8c8c8" stroke-width="1"/>
<line x1="823.82" y1="962.68" x2="831.82" y2="962.68" stroke="#c4c4c4" stroke-width="1.3"/>
<rect x="827.15" y="963.8" width="4.11" height="5.5" fill="#d0d0d0"/>
<rect x="831.1" y="964.8" width="10.13" height="4.5" fill="#d0d0d0"/>
<rect x="841.1" y="965.3" width="8.2" height="4" fill="#d0d0d0"/>
<rect x="849.27" y="963.8" width="9.34" height="5.5" fill="#d0d0d0"/>
<line x1="850.36" y1="960.2" x2="850.36" y2="963.8" stroke="#c8c8c8" stroke-width="1"/>
<line x1="846.36" y1="960.2" x2="854.36" y2="960.2" stroke="#c4c4c4" stroke-width="1.3"/>
<rect x="857.04" y="965.8" width="4.93" height="3.5" fill="#d0d0d0"/>
<line x1="859.7" y1="963.51" x2="859.7" y2="965.8" stroke="#c8c8c8" stroke-width="1"/>
<line x1="855.7" y1="963.51" x2="863.7" y2="963.51" stroke="#c4c4c4" stroke-width="1.3"/>
<rect x="861.41" y="966.8" width="6.84" height="2.5" fill="#d0d0d0"/>
<rect x="866.98" y="966.3" width="6.11" height="3" fill="#d0d0d0"/>
<line x1="872.41" y1="961.83" x2="872.41" y2="966.3" stroke="#c8c8c8" stroke-width="1"/>
<line x1="868.41" y1="961.83" x2="876.41" y2="961.83" stroke="#c4c4c4" stroke-width="1.3"/>
<rect x="872.97" y="967.3" width="5.62" height="2" fill="#d0d0d0"/>
<rect x="878.22" y="966.3" width="5.51" height="3" fill="#d0d0d0"/>
<line x1="879.23" y1="965.03" x2="879.23" y2="966.3" stroke="#c8c8c8" stroke-width="1"/>
<line x1="875.23" y1="965.03" x2="883.23" y2="965.03" stroke="#c4c4c4" stroke-width="1.3"/>
<rect x="883.2" y="965.8" width="8.5" height="3.5" fill="#d0d0d0"/>
<rect x="891.29" y="965.3" width="4.16" height="4" fill="#d0d0d0"/>
<rect x="895.23" y="966.3" width="7.11" height="3" fill="#d0d0d0"/>
<rect x="902" y="964.8" width="6.63" height="4.5" fill="#d0d0d0"/>
<line x1="903.66" y1="960.63" x2="903.66" y2="964.8" stroke="#c8c8c8" stroke-width="1"/>
<line x1="899.66" y1="960.63" x2="907.66" y2="960.63" stroke="#c4c4c4" stroke-width="1.3"/>
<rect x="908.03" y="965.3" width="6.91" height="4" fill="#d0d0d0"/>
<rect x="914.73" y="967.3" width="6.27" height="2" fill="#d0d0d0"/>
<rect x="919.84" y="965.3" width="1.16" height="4" fill="#d0d0d0"/>
<rect x="717" y="908.8" width="4" height="60.5" fill="#939393"/>
<rect x="717" y="952.5" width="10.2" height="16.8" fill="#8a8a8a"/>
<rect x="717" y="952.5" width="10.2" height="2.6" fill="#bdbdbd"/>
<line x1="170.3" y1="914.2" x2="170.3" y2="920" stroke="#c6c6c6" stroke-width="1"/>
<rect x="169.7" y="920" width="1.2" height="49.3" fill="#8a8a8a"/>
<line x1="166.3" y1="914.2" x2="174.3" y2="914.2" stroke="#bdbdbd" stroke-width="1.4"/>
<line x1="166.3" y1="920" x2="174.3" y2="920" stroke="#bdbdbd" stroke-width="1.4"/>
<line x1="184" y1="960.5" x2="184" y2="965" stroke="#c6c6c6" stroke-width="1"/>
<rect x="183.4" y="965" width="1.2" height="4.3" fill="#999"/>
<line x1="180" y1="960.5" x2="188" y2="960.5" stroke="#bdbdbd" stroke-width="1.4"/>
<line x1="180" y1="963" x2="188" y2="963" stroke="#bdbdbd" stroke-width="1.4"/>
<line x1="180" y1="965" x2="188" y2="965" stroke="#bdbdbd" stroke-width="1.4"/>
<line x1="292" y1="959.5" x2="292" y2="962" stroke="#c6c6c6" stroke-width="1"/>
<rect x="291.4" y="962" width="1.2" height="7.3" fill="#999"/>
<line x1="288" y1="959.5" x2="296" y2="959.5" stroke="#bdbdbd" stroke-width="1.4"/>
<line x1="288" y1="962" x2="296" y2="962" stroke="#bdbdbd" stroke-width="1.4"/>
<line x1="314.4" y1="947.4" x2="314.4" y2="964.8" stroke="#c6c6c6" stroke-width="1"/>
<rect x="313.8" y="964.8" width="1.2" height="4.5" fill="#999"/>
<line x1="310.4" y1="947.4" x2="318.4" y2="947.4" stroke="#bdbdbd" stroke-width="1.4"/>
<line x1="310.4" y1="964.8" x2="318.4" y2="964.8" stroke="#bdbdbd" stroke-width="1.4"/>
<line x1="397.8" y1="958.9" x2="397.8" y2="962" stroke="#c6c6c6" stroke-width="1"/>
<rect x="397.2" y="962" width="1.2" height="7.3" fill="#999"/>
<line x1="393.8" y1="958.9" x2="401.8" y2="958.9" stroke="#bdbdbd" stroke-width="1.4"/>
<line x1="393.8" y1="962" x2="401.8" y2="962" stroke="#bdbdbd" stroke-width="1.4"/>
<line x1="413.7" y1="918.8" x2="413.7" y2="922.9" stroke="#c6c6c6" stroke-width="1"/>
<rect x="413.1" y="922.9" width="1.2" height="46.4" fill="#8a8a8a"/>
<line x1="409.7" y1="918.8" x2="417.7" y2="918.8" stroke="#bdbdbd" stroke-width="1.4"/>
<line x1="409.7" y1="922.9" x2="417.7" y2="922.9" stroke="#bdbdbd" stroke-width="1.4"/>
<line x1="420.2" y1="914.6" x2="420.2" y2="925.6" stroke="#c6c6c6" stroke-width="1"/>
<rect x="419.6" y="925.6" width="1.2" height="43.7" fill="#8a8a8a"/>
<line x1="416.2" y1="914.6" x2="424.2" y2="914.6" stroke="#bdbdbd" stroke-width="1.4"/>
<line x1="416.2" y1="925.6" x2="424.2" y2="925.6" stroke="#bdbdbd" stroke-width="1.4"/>
<line x1="428.9" y1="889.7" x2="428.9" y2="943.7" stroke="#c6c6c6" stroke-width="1"/>
<rect x="428.3" y="943.7" width="1.2" height="25.6" fill="#8a8a8a"/>
<line x1="424.9" y1="889.7" x2="432.9" y2="889.7" stroke="#bdbdbd" stroke-width="1.4"/>
<line x1="424.9" y1="893.9" x2="432.9" y2="893.9" stroke="#bdbdbd" stroke-width="1.4"/>
<line x1="424.9" y1="939.5" x2="432.9" y2="939.5" stroke="#bdbdbd" stroke-width="1.4"/>
<line x1="424.9" y1="943.7" x2="432.9" y2="943.7" stroke="#bdbdbd" stroke-width="1.4"/>
<line x1="431.4" y1="870" x2="431.4" y2="875.2" stroke="#c6c6c6" stroke-width="1"/>
<rect x="430.8" y="875.2" width="1.2" height="94.1" fill="#8a8a8a"/>
<line x1="427.4" y1="870" x2="435.4" y2="870" stroke="#bdbdbd" stroke-width="1.4"/>
<line x1="427.4" y1="875.2" x2="435.4" y2="875.2" stroke="#bdbdbd" stroke-width="1.4"/>
<line x1="442.4" y1="772.5" x2="442.4" y2="785.5" stroke="#c6c6c6" stroke-width="1"/>
<rect x="441.8" y="785.5" width="1.2" height="183.8" fill="#8a8a8a"/>
<line x1="438.4" y1="772.5" x2="446.4" y2="772.5" stroke="#bdbdbd" stroke-width="1.4"/>
<line x1="438.4" y1="830.6" x2="446.4" y2="830.6" stroke="#bdbdbd" stroke-width="1.4"/>
<line x1="438.4" y1="861.7" x2="446.4" y2="861.7" stroke="#bdbdbd" stroke-width="1.4"/>
<line x1="438.4" y1="785.5" x2="446.4" y2="785.5" stroke="#bdbdbd" stroke-width="1.4"/>
<line x1="451.1" y1="946.8" x2="451.1" y2="950" stroke="#c6c6c6" stroke-width="1"/>
<rect x="450.5" y="950" width="1.2" height="19.3" fill="#8a8a8a"/>
<line x1="447.1" y1="946.8" x2="455.1" y2="946.8" stroke="#bdbdbd" stroke-width="1.4"/>
<line x1="447.1" y1="955" x2="455.1" y2="955" stroke="#bdbdbd" stroke-width="1.4"/>
<line x1="447.1" y1="950" x2="455.1" y2="950" stroke="#bdbdbd" stroke-width="1.4"/>
<line x1="482.6" y1="959.1" x2="482.6" y2="962" stroke="#c6c6c6" stroke-width="1"/>
<rect x="482" y="962" width="1.2" height="7.3" fill="#999"/>
<line x1="478.6" y1="959.1" x2="486.6" y2="959.1" stroke="#bdbdbd" stroke-width="1.4"/>
<line x1="478.6" y1="962" x2="486.6" y2="962" stroke="#bdbdbd" stroke-width="1.4"/>
<line x1="500" y1="960.7" x2="500" y2="962.5" stroke="#c6c6c6" stroke-width="1"/>
<rect x="499.4" y="962.5" width="1.2" height="6.8" fill="#999"/>
<line x1="496" y1="960.7" x2="504" y2="960.7" stroke="#bdbdbd" stroke-width="1.4"/>
<line x1="496" y1="962.5" x2="504" y2="962.5" stroke="#bdbdbd" stroke-width="1.4"/>
<line x1="508" y1="953.3" x2="508" y2="962" stroke="#c6c6c6" stroke-width="1"/>
<rect x="507.4" y="962" width="1.2" height="7.3" fill="#999"/>
<line x1="504" y1="953.3" x2="512" y2="953.3" stroke="#bdbdbd" stroke-width="1.4"/>
<line x1="504" y1="962" x2="512" y2="962" stroke="#bdbdbd" stroke-width="1.4"/>
<line x1="529.8" y1="932.8" x2="529.8" y2="950.4" stroke="#c6c6c6" stroke-width="1"/>
<rect x="529.2" y="950.4" width="1.2" height="18.9" fill="#8a8a8a"/>
<line x1="525.8" y1="932.8" x2="533.8" y2="932.8" stroke="#bdbdbd" stroke-width="1.4"/>
<line x1="525.8" y1="935.7" x2="533.8" y2="935.7" stroke="#bdbdbd" stroke-width="1.4"/>
<line x1="525.8" y1="943.5" x2="533.8" y2="943.5" stroke="#bdbdbd" stroke-width="1.4"/>
<line x1="525.8" y1="950.4" x2="533.8" y2="950.4" stroke="#bdbdbd" stroke-width="1.4"/>
<line x1="540" y1="866.4" x2="540" y2="875.7" stroke="#c6c6c6" stroke-width="1"/>
<rect x="539.4" y="875.7" width="1.2" height="93.6" fill="#8a8a8a"/>
<line x1="536" y1="866.4" x2="544" y2="866.4" stroke="#bdbdbd" stroke-width="1.4"/>
<line x1="536" y1="929.8" x2="544" y2="929.8" stroke="#bdbdbd" stroke-width="1.4"/>
<line x1="536" y1="934.7" x2="544" y2="934.7" stroke="#bdbdbd" stroke-width="1.4"/>
<line x1="536" y1="875.7" x2="544" y2="875.7" stroke="#bdbdbd" stroke-width="1.4"/>
<line x1="549" y1="955.6" x2="549" y2="959.1" stroke="#c6c6c6" stroke-width="1"/>
<rect x="548.4" y="959.1" width="1.2" height="10.2" fill="#999"/>
<line x1="545" y1="955.6" x2="553" y2="955.6" stroke="#bdbdbd" stroke-width="1.4"/>
<line x1="545" y1="959.1" x2="553" y2="959.1" stroke="#bdbdbd" stroke-width="1.4"/>
<line x1="566" y1="953.3" x2="566" y2="957.2" stroke="#c6c6c6" stroke-width="1"/>
<rect x="565.4" y="957.2" width="1.2" height="12.1" fill="#999"/>
<line x1="562" y1="953.3" x2="570" y2="953.3" stroke="#bdbdbd" stroke-width="1.4"/>
<line x1="562" y1="957.2" x2="570" y2="957.2" stroke="#bdbdbd" stroke-width="1.4"/>
<line x1="610.9" y1="960.1" x2="610.9" y2="962" stroke="#c6c6c6" stroke-width="1"/>
<rect x="610.3" y="962" width="1.2" height="7.3" fill="#999"/>
<line x1="606.9" y1="960.1" x2="614.9" y2="960.1" stroke="#bdbdbd" stroke-width="1.4"/>
<line x1="606.9" y1="962" x2="614.9" y2="962" stroke="#bdbdbd" stroke-width="1.4"/>
<line x1="693.5" y1="956.2" x2="693.5" y2="960.1" stroke="#c6c6c6" stroke-width="1"/>
<rect x="692.9" y="960.1" width="1.2" height="9.2" fill="#999"/>
<line x1="689.5" y1="956.2" x2="697.5" y2="956.2" stroke="#bdbdbd" stroke-width="1.4"/>
<line x1="689.5" y1="960.1" x2="697.5" y2="960.1" stroke="#bdbdbd" stroke-width="1.4"/>
<line x1="717.6" y1="903.6" x2="717.6" y2="908.8" stroke="#c6c6c6" stroke-width="1"/>
<rect x="717" y="908.8" width="1.2" height="60.5" fill="#8a8a8a"/>
<line x1="713.6" y1="903.6" x2="721.6" y2="903.6" stroke="#bdbdbd" stroke-width="1.4"/>
<line x1="713.6" y1="920.3" x2="721.6" y2="920.3" stroke="#bdbdbd" stroke-width="1.4"/>
<line x1="713.6" y1="925" x2="721.6" y2="925" stroke="#bdbdbd" stroke-width="1.4"/>
<line x1="713.6" y1="908.8" x2="721.6" y2="908.8" stroke="#bdbdbd" stroke-width="1.4"/>
<rect x="718.3" y="908.8" width="1.2" height="60.5" fill="#8a8a8a"/>
<line x1="719.8" y1="864.2" x2="719.8" y2="871.8" stroke="#c6c6c6" stroke-width="1"/>
<rect x="719.2" y="871.8" width="1.2" height="97.5" fill="#8a8a8a"/>
<line x1="715.8" y1="864.2" x2="723.8" y2="864.2" stroke="#bdbdbd" stroke-width="1.4"/>
<line x1="715.8" y1="908.2" x2="723.8" y2="908.2" stroke="#bdbdbd" stroke-width="1.4"/>
<line x1="715.8" y1="871.8" x2="723.8" y2="871.8" stroke="#bdbdbd" stroke-width="1.4"/>
<rect x="720.7" y="952" width="1.2" height="17.3" fill="#8a8a8a"/>
<rect x="722" y="952" width="1.2" height="17.3" fill="#8a8a8a"/>
<line x1="723.6" y1="883.3" x2="723.6" y2="948.6" stroke="#c6c6c6" stroke-width="1"/>
<rect x="723" y="948.6" width="1.2" height="20.7" fill="#8a8a8a"/>
<line x1="719.6" y1="883.3" x2="727.6" y2="883.3" stroke="#bdbdbd" stroke-width="1.4"/>
<line x1="719.6" y1="889.1" x2="727.6" y2="889.1" stroke="#bdbdbd" stroke-width="1.4"/>
<line x1="719.6" y1="948.6" x2="727.6" y2="948.6" stroke="#bdbdbd" stroke-width="1.4"/>
<line x1="725.8" y1="901.8" x2="725.8" y2="905.3" stroke="#c6c6c6" stroke-width="1"/>
<rect x="725.2" y="905.3" width="1.2" height="64" fill="#8a8a8a"/>
<line x1="721.8" y1="901.8" x2="729.8" y2="901.8" stroke="#bdbdbd" stroke-width="1.4"/>
<line x1="721.8" y1="948.6" x2="729.8" y2="948.6" stroke="#bdbdbd" stroke-width="1.4"/>
<line x1="721.8" y1="905.3" x2="729.8" y2="905.3" stroke="#bdbdbd" stroke-width="1.4"/>
<line x1="732.5" y1="958.9" x2="732.5" y2="960.6" stroke="#c6c6c6" stroke-width="1"/>
<rect x="731.9" y="960.6" width="1.2" height="8.7" fill="#999"/>
<line x1="728.5" y1="958.9" x2="736.5" y2="958.9" stroke="#bdbdbd" stroke-width="1.4"/>
<line x1="728.5" y1="960.6" x2="736.5" y2="960.6" stroke="#bdbdbd" stroke-width="1.4"/>
<line x1="737" y1="951" x2="737" y2="952.7" stroke="#c6c6c6" stroke-width="1"/>
<rect x="736.4" y="952.7" width="1.2" height="16.6" fill="#8a8a8a"/>
<line x1="733" y1="951" x2="741" y2="951" stroke="#bdbdbd" stroke-width="1.4"/>
<line x1="733" y1="952.7" x2="741" y2="952.7" stroke="#bdbdbd" stroke-width="1.4"/>
<line x1="749" y1="913.8" x2="749" y2="916.5" stroke="#c6c6c6" stroke-width="1"/>
<rect x="748.4" y="916.5" width="1.2" height="52.8" fill="#8a8a8a"/>
<line x1="745" y1="913.8" x2="753" y2="913.8" stroke="#bdbdbd" stroke-width="1.4"/>
<line x1="745" y1="942" x2="753" y2="942" stroke="#bdbdbd" stroke-width="1.4"/>
<line x1="745" y1="959.1" x2="753" y2="959.1" stroke="#bdbdbd" stroke-width="1.4"/>
<line x1="745" y1="916.5" x2="753" y2="916.5" stroke="#bdbdbd" stroke-width="1.4"/>
<line x1="762.3" y1="958.1" x2="762.3" y2="960" stroke="#c6c6c6" stroke-width="1"/>
<rect x="761.7" y="960" width="1.2" height="9.3" fill="#999"/>
<line x1="758.3" y1="958.1" x2="766.3" y2="958.1" stroke="#bdbdbd" stroke-width="1.4"/>
<line x1="758.3" y1="960" x2="766.3" y2="960" stroke="#bdbdbd" stroke-width="1.4"/>
<line x1="775.4" y1="866.1" x2="775.4" y2="938.3" stroke="#c6c6c6" stroke-width="1"/>
<rect x="774.8" y="938.3" width="1.2" height="31" fill="#8a8a8a"/>
<line x1="771.4" y1="866.1" x2="779.4" y2="866.1" stroke="#bdbdbd" stroke-width="1.4"/>
<line x1="771.4" y1="958.6" x2="779.4" y2="958.6" stroke="#bdbdbd" stroke-width="1.4"/>
<line x1="771.4" y1="938.3" x2="779.4" y2="938.3" stroke="#bdbdbd" stroke-width="1.4"/>
<line x1="804.5" y1="963" x2="804.5" y2="964" stroke="#c6c6c6" stroke-width="1"/>
<rect x="803.9" y="964" width="1.2" height="5.3" fill="#999"/>
<line x1="800.5" y1="963" x2="808.5" y2="963" stroke="#bdbdbd" stroke-width="1.4"/>
<line x1="800.5" y1="964" x2="808.5" y2="964" stroke="#bdbdbd" stroke-width="1.4"/>
<line x1="816.6" y1="953.3" x2="816.6" y2="959.5" stroke="#c6c6c6" stroke-width="1"/>
<rect x="816" y="959.5" width="1.2" height="9.8" fill="#999"/>
<line x1="812.6" y1="953.3" x2="820.6" y2="953.3" stroke="#bdbdbd" stroke-width="1.4"/>
<line x1="812.6" y1="959.5" x2="820.6" y2="959.5" stroke="#bdbdbd" stroke-width="1.4"/>
<line x1="828.3" y1="955.8" x2="828.3" y2="961" stroke="#c6c6c6" stroke-width="1"/>
<rect x="827.7" y="961" width="1.2" height="8.3" fill="#999"/>
<line x1="824.3" y1="955.8" x2="832.3" y2="955.8" stroke="#bdbdbd" stroke-width="1.4"/>
<line x1="824.3" y1="961" x2="832.3" y2="961" stroke="#bdbdbd" stroke-width="1.4"/>
<line x1="847.4" y1="962.7" x2="847.4" y2="964" stroke="#c6c6c6" stroke-width="1"/>
<rect x="846.8" y="964" width="1.2" height="5.3" fill="#999"/>
<line x1="843.4" y1="962.7" x2="851.4" y2="962.7" stroke="#bdbdbd" stroke-width="1.4"/>
<line x1="843.4" y1="964" x2="851.4" y2="964" stroke="#bdbdbd" stroke-width="1.4"/>
<line x1="864.4" y1="962.7" x2="864.4" y2="964" stroke="#c6c6c6" stroke-width="1"/>
<rect x="863.8" y="964" width="1.2" height="5.3" fill="#999"/>
<line x1="860.4" y1="962.7" x2="868.4" y2="962.7" stroke="#bdbdbd" stroke-width="1.4"/>
<line x1="860.4" y1="964" x2="868.4" y2="964" stroke="#bdbdbd" stroke-width="1.4"/>
<line x1="877.3" y1="947.4" x2="877.3" y2="959.5" stroke="#c6c6c6" stroke-width="1"/>
<rect x="876.7" y="959.5" width="1.2" height="9.8" fill="#999"/>
<line x1="873.3" y1="947.4" x2="881.3" y2="947.4" stroke="#bdbdbd" stroke-width="1.4"/>
<line x1="873.3" y1="959.5" x2="881.3" y2="959.5" stroke="#bdbdbd" stroke-width="1.4"/>
<line x1="883.5" y1="957.2" x2="883.5" y2="962.1" stroke="#c6c6c6" stroke-width="1"/>
<rect x="882.9" y="962.1" width="1.2" height="7.2" fill="#999"/>
<line x1="879.5" y1="957.2" x2="887.5" y2="957.2" stroke="#bdbdbd" stroke-width="1.4"/>
<line x1="879.5" y1="962.1" x2="887.5" y2="962.1" stroke="#bdbdbd" stroke-width="1.4"/>
<line x1="888" y1="944.5" x2="888" y2="958.2" stroke="#c6c6c6" stroke-width="1"/>
<rect x="887.4" y="958.2" width="1.2" height="11.1" fill="#999"/>
<line x1="884" y1="944.5" x2="892" y2="944.5" stroke="#bdbdbd" stroke-width="1.4"/>
<line x1="884" y1="958.2" x2="892" y2="958.2" stroke="#bdbdbd" stroke-width="1.4"/>
<line x1="899.2" y1="960.1" x2="899.2" y2="961" stroke="#c6c6c6" stroke-width="1"/>
<rect x="898.6" y="961" width="1.2" height="8.3" fill="#999"/>
<line x1="895.2" y1="960.1" x2="903.2" y2="960.1" stroke="#bdbdbd" stroke-width="1.4"/>
<line x1="895.2" y1="961" x2="903.2" y2="961" stroke="#bdbdbd" stroke-width="1.4"/>
<line x1="911.9" y1="942.5" x2="911.9" y2="949.4" stroke="#c6c6c6" stroke-width="1"/>
<rect x="911.3" y="949.4" width="1.2" height="19.9" fill="#8a8a8a"/>
<line x1="907.9" y1="942.5" x2="915.9" y2="942.5" stroke="#bdbdbd" stroke-width="1.4"/>
<line x1="907.9" y1="949.4" x2="915.9" y2="949.4" stroke="#bdbdbd" stroke-width="1.4"/>
<line x1="920" y1="957.8" x2="920" y2="962" stroke="#c6c6c6" stroke-width="1"/>
<rect x="919.4" y="962" width="1.2" height="7.3" fill="#999"/>
<line x1="916" y1="957.8" x2="924" y2="957.8" stroke="#bdbdbd" stroke-width="1.4"/>
<line x1="916" y1="962" x2="924" y2="962" stroke="#bdbdbd" stroke-width="1.4"/>
<line x1="237.3" y1="308.5" x2="236.5" y2="337.3" stroke="#3a3a3a" stroke-width="0.85"/>
<text transform="translate(237.5,324.4) rotate(90)" font-size="4.4" font-family='"Liberation Sans", sans-serif' font-weight="bold" fill="#111" text-anchor="middle" textLength="4" lengthAdjust="spacingAndGlyphs">&#946;4</text>
<rect x="231.3" y="302.5" width="12" height="12" fill="#ffff00" stroke="#222" stroke-width="0.9"/>
<rect x="234.6" y="335.4" width="3.8" height="3.8" fill="#0000ff"/>
<line x1="514.4" y1="243.5" x2="514.4" y2="266.5" stroke="#3a3a3a" stroke-width="0.85"/>
<line x1="514.4" y1="266.5" x2="514.4" y2="284.6" stroke="#3a3a3a" stroke-width="0.85"/>
<line x1="547.9" y1="243.5" x2="547.9" y2="266.5" stroke="#3a3a3a" stroke-width="0.85"/>
<line x1="547.9" y1="266.5" x2="547.9" y2="284.6" stroke="#3a3a3a" stroke-width="0.85"/>
<line x1="531.5" y1="303.1" x2="531.5" y2="321.5" stroke="#3a3a3a" stroke-width="0.85"/>
<line x1="531.5" y1="321.5" x2="531.5" y2="340" stroke="#3a3a3a" stroke-width="0.85"/>
<line x1="514.4" y1="284.6" x2="531.5" y2="303.1" stroke="#3a3a3a" stroke-width="0.85"/>
<line x1="547.9" y1="284.6" x2="531.5" y2="303.1" stroke="#3a3a3a" stroke-width="0.85"/>
<text transform="translate(515,256.5) rotate(90)" font-size="4.4" font-family='"Liberation Sans", sans-serif' font-weight="bold" fill="#111" text-anchor="middle" textLength="4" lengthAdjust="spacingAndGlyphs">&#946;4</text>
<text transform="translate(515,277.05) rotate(90)" font-size="4.4" font-family='"Liberation Sans", sans-serif' font-weight="bold" fill="#111" text-anchor="middle" textLength="4" lengthAdjust="spacingAndGlyphs">&#946;4</text>
<text transform="translate(548.5,256.5) rotate(90)" font-size="4.4" font-family='"Liberation Sans", sans-serif' font-weight="bold" fill="#111" text-anchor="middle" textLength="4" lengthAdjust="spacingAndGlyphs">&#946;4</text>
<text transform="translate(548.5,277.05) rotate(90)" font-size="4.4" font-family='"Liberation Sans", sans-serif' font-weight="bold" fill="#111" text-anchor="middle" textLength="4" lengthAdjust="spacingAndGlyphs">&#946;4</text>
<text transform="translate(532.1,313.8) rotate(90)" font-size="4.4" font-family='"Liberation Sans", sans-serif' font-weight="bold" fill="#111" text-anchor="middle" textLength="4" lengthAdjust="spacingAndGlyphs">&#946;4</text>
<text transform="translate(532.1,332.25) rotate(90)" font-size="4.4" font-family='"Liberation Sans", sans-serif' font-weight="bold" fill="#111" text-anchor="middle" textLength="4" lengthAdjust="spacingAndGlyphs">&#946;4</text>
<text transform="translate(523.55,295.35) rotate(90)" font-size="4.4" font-family='"Liberation Sans", sans-serif' font-weight="bold" fill="#111" text-anchor="middle" textLength="4" lengthAdjust="spacingAndGlyphs">&#946;4</text>
<text transform="translate(540.3,295.35) rotate(90)" font-size="4.4" font-family='"Liberation Sans", sans-serif' font-weight="bold" fill="#111" text-anchor="middle" textLength="4" lengthAdjust="spacingAndGlyphs">&#946;4</text>
<circle cx="514.4" cy="243.5" r="6" fill="#ffff00" stroke="#222" stroke-width="0.9"/>
<rect x="512.5" y="264.6" width="3.8" height="3.8" fill="#0000ff"/>
<circle cx="514.4" cy="284.6" r="2.4" fill="#00ee00" stroke="#3a3" stroke-width="0.4"/>
<circle cx="547.9" cy="243.5" r="6" fill="#ffff00" stroke="#222" stroke-width="0.9"/>
<rect x="546" y="264.6" width="3.8" height="3.8" fill="#0000ff"/>
<circle cx="547.9" cy="284.6" r="2.4" fill="#00ee00" stroke="#3a3" stroke-width="0.4"/>
<circle cx="531.5" cy="303.1" r="2.4" fill="#00ee00" stroke="#3a3" stroke-width="0.4"/>
<rect x="529.6" y="319.6" width="3.8" height="3.8" fill="#0000ff"/>
<rect x="529.6" y="338.1" width="3.8" height="3.8" fill="#0000ff"/>
<line x1="659.2" y1="222.5" x2="659.2" y2="246.5" stroke="#3a3a3a" stroke-width="0.85"/>
<line x1="659.2" y1="246.5" x2="659.2" y2="266.7" stroke="#3a3a3a" stroke-width="0.85"/>
<line x1="678.3" y1="222.5" x2="678.3" y2="246.5" stroke="#3a3a3a" stroke-width="0.85"/>
<line x1="715.4" y1="222.5" x2="715.4" y2="246.5" stroke="#3a3a3a" stroke-width="0.85"/>
<line x1="679" y1="287.6" x2="679" y2="308.3" stroke="#3a3a3a" stroke-width="0.85"/>
<line x1="679" y1="308.3" x2="679" y2="328.5" stroke="#3a3a3a" stroke-width="0.85"/>
<line x1="678.3" y1="246.5" x2="696.9" y2="266.7" stroke="#3a3a3a" stroke-width="0.85"/>
<line x1="715.4" y1="246.5" x2="696.9" y2="266.7" stroke="#3a3a3a" stroke-width="0.85"/>
<line x1="659.2" y1="266.7" x2="679" y2="287.6" stroke="#3a3a3a" stroke-width="0.85"/>
<line x1="696.9" y1="266.7" x2="679" y2="287.6" stroke="#3a3a3a" stroke-width="0.85"/>
<line x1="678.6" y1="266.7" x2="679" y2="287.6" stroke="#3a3a3a" stroke-width="0.85"/>
<text transform="translate(659.8,236) rotate(90)" font-size="4.4" font-family='"Liberation Sans", sans-serif' font-weight="bold" fill="#111" text-anchor="middle" textLength="4" lengthAdjust="spacingAndGlyphs">&#946;4</text>
<text transform="translate(659.8,258.1) rotate(90)" font-size="4.4" font-family='"Liberation Sans", sans-serif' font-weight="bold" fill="#111" text-anchor="middle" textLength="4" lengthAdjust="spacingAndGlyphs">&#946;4</text>
<text transform="translate(678.9,236) rotate(90)" font-size="4.4" font-family='"Liberation Sans", sans-serif' font-weight="bold" fill="#111" text-anchor="middle" textLength="4" lengthAdjust="spacingAndGlyphs">&#946;4</text>
<text transform="translate(716,236) rotate(90)" font-size="4.4" font-family='"Liberation Sans", sans-serif' font-weight="bold" fill="#111" text-anchor="middle" textLength="4" lengthAdjust="spacingAndGlyphs">&#946;4</text>
<text transform="translate(679.6,299.45) rotate(90)" font-size="4.4" font-family='"Liberation Sans", sans-serif' font-weight="bold" fill="#111" text-anchor="middle" textLength="4" lengthAdjust="spacingAndGlyphs">&#946;4</text>
<text transform="translate(679.6,319.9) rotate(90)" font-size="4.4" font-family='"Liberation Sans", sans-serif' font-weight="bold" fill="#111" text-anchor="middle" textLength="4" lengthAdjust="spacingAndGlyphs">&#946;4</text>
<text transform="translate(688.2,258.1) rotate(90)" font-size="4.4" font-family='"Liberation Sans", sans-serif' font-weight="bold" fill="#111" text-anchor="middle" textLength="4" lengthAdjust="spacingAndGlyphs">&#946;4</text>
<text transform="translate(706.75,258.1) rotate(90)" font-size="4.4" font-family='"Liberation Sans", sans-serif' font-weight="bold" fill="#111" text-anchor="middle" textLength="4" lengthAdjust="spacingAndGlyphs">&#946;4</text>
<text transform="translate(669.7,278.65) rotate(90)" font-size="4.4" font-family='"Liberation Sans", sans-serif' font-weight="bold" fill="#111" text-anchor="middle" textLength="4" lengthAdjust="spacingAndGlyphs">&#946;4</text>
<text transform="translate(688.55,278.65) rotate(90)" font-size="4.4" font-family='"Liberation Sans", sans-serif' font-weight="bold" fill="#111" text-anchor="middle" textLength="4" lengthAdjust="spacingAndGlyphs">&#946;4</text>
<text transform="translate(679.4,278.65) rotate(90)" font-size="4.4" font-family='"Liberation Sans", sans-serif' font-weight="bold" fill="#111" text-anchor="middle" textLength="4" lengthAdjust="spacingAndGlyphs">&#946;4</text>
<circle cx="659.2" cy="222.5" r="6" fill="#ffff00" stroke="#222" stroke-width="0.9"/>
<rect x="657.3" y="244.6" width="3.8" height="3.8" fill="#0000ff"/>
<circle cx="659.2" cy="266.7" r="2.4" fill="#00ee00" stroke="#3a3" stroke-width="0.4"/>
<circle cx="678.3" cy="222.5" r="6" fill="#ffff00" stroke="#222" stroke-width="0.9"/>
<rect x="676.4" y="244.6" width="3.8" height="3.8" fill="#0000ff"/>
<circle cx="715.4" cy="222.5" r="6" fill="#ffff00" stroke="#222" stroke-width="0.9"/>
<rect x="713.5" y="244.6" width="3.8" height="3.8" fill="#0000ff"/>
<circle cx="696.9" cy="266.7" r="2.4" fill="#00ee00" stroke="#3a3" stroke-width="0.4"/>
<rect x="676.7" y="264.8" width="3.8" height="3.8" fill="#0000ff"/>
<circle cx="679" cy="287.6" r="2.4" fill="#00ee00" stroke="#3a3" stroke-width="0.4"/>
<rect x="677.1" y="306.4" width="3.8" height="3.8" fill="#0000ff"/>
<rect x="677.1" y="326.6" width="3.8" height="3.8" fill="#0000ff"/>
<line x1="724.3" y1="267.4" x2="724.3" y2="290.5" stroke="#3a3a3a" stroke-width="0.85"/>
<line x1="724.3" y1="290.5" x2="724.3" y2="309" stroke="#3a3a3a" stroke-width="0.85"/>
<line x1="757.4" y1="268" x2="757.4" y2="290.5" stroke="#3a3a3a" stroke-width="0.85"/>
<line x1="757.4" y1="290.5" x2="757.4" y2="309" stroke="#3a3a3a" stroke-width="0.85"/>
<line x1="740.5" y1="288" x2="740.5" y2="309" stroke="#3a3a3a" stroke-width="0.85"/>
<line x1="740.5" y1="327.4" x2="740.5" y2="345.6" stroke="#3a3a3a" stroke-width="0.85"/>
<line x1="740.5" y1="345.6" x2="740.5" y2="364" stroke="#3a3a3a" stroke-width="0.85"/>
<line x1="724.3" y1="309" x2="740.5" y2="327.4" stroke="#3a3a3a" stroke-width="0.85"/>
<line x1="757.4" y1="309" x2="740.5" y2="327.4" stroke="#3a3a3a" stroke-width="0.85"/>
<line x1="740.5" y1="309" x2="740.5" y2="327.4" stroke="#3a3a3a" stroke-width="0.85"/>
<text transform="translate(724.9,280.45) rotate(90)" font-size="4.4" font-family='"Liberation Sans", sans-serif' font-weight="bold" fill="#111" text-anchor="middle" textLength="4" lengthAdjust="spacingAndGlyphs">&#946;4</text>
<text transform="translate(724.9,301.25) rotate(90)" font-size="4.4" font-family='"Liberation Sans", sans-serif' font-weight="bold" fill="#111" text-anchor="middle" textLength="4" lengthAdjust="spacingAndGlyphs">&#946;4</text>
<text transform="translate(758,280.75) rotate(90)" font-size="4.4" font-family='"Liberation Sans", sans-serif' font-weight="bold" fill="#111" text-anchor="middle" textLength="4" lengthAdjust="spacingAndGlyphs">&#946;4</text>
<text transform="translate(758,301.25) rotate(90)" font-size="4.4" font-family='"Liberation Sans", sans-serif' font-weight="bold" fill="#111" text-anchor="middle" textLength="4" lengthAdjust="spacingAndGlyphs">&#946;4</text>
<text transform="translate(741.1,300) rotate(90)" font-size="4.4" font-family='"Liberation Sans", sans-serif' font-weight="bold" fill="#111" text-anchor="middle" textLength="4" lengthAdjust="spacingAndGlyphs">&#946;4</text>
<text transform="translate(741.1,338) rotate(90)" font-size="4.4" font-family='"Liberation Sans", sans-serif' font-weight="bold" fill="#111" text-anchor="middle" textLength="4" lengthAdjust="spacingAndGlyphs">&#946;4</text>
<text transform="translate(741.1,356.3) rotate(90)" font-size="4.4" font-family='"Liberation Sans", sans-serif' font-weight="bold" fill="#111" text-anchor="middle" textLength="4" lengthAdjust="spacingAndGlyphs">&#946;4</text>
<text transform="translate(733,319.7) rotate(90)" font-size="4.4" font-family='"Liberation Sans", sans-serif' font-weight="bold" fill="#111" text-anchor="middle" textLength="4" lengthAdjust="spacingAndGlyphs">&#946;4</text>
<text transform="translate(749.55,319.7) rotate(90)" font-size="4.4" font-family='"Liberation Sans", sans-serif' font-weight="bold" fill="#111" text-anchor="middle" textLength="4" lengthAdjust="spacingAndGlyphs">&#946;4</text>
<text transform="translate(741.1,319.7) rotate(90)" font-size="4.4" font-family='"Liberation Sans", sans-serif' font-weight="bold" fill="#111" text-anchor="middle" textLength="4" lengthAdjust="spacingAndGlyphs">&#946;4</text>
<circle cx="724.3" cy="267.4" r="6" fill="#ffff00" stroke="#222" stroke-width="0.9"/>
<rect x="722.4" y="288.6" width="3.8" height="3.8" fill="#0000ff"/>
<circle cx="724.3" cy="309" r="2.4" fill="#00ee00" stroke="#3a3" stroke-width="0.4"/>
<circle cx="757.4" cy="268" r="6" fill="#ffff00" stroke="#222" stroke-width="0.9"/>
<rect x="755.5" y="288.6" width="3.8" height="3.8" fill="#0000ff"/>
<circle cx="757.4" cy="309" r="2.4" fill="#00ee00" stroke="#3a3" stroke-width="0.4"/>
<circle cx="740.5" cy="288" r="6" fill="#ffff00" stroke="#222" stroke-width="0.9"/>
<rect x="738.6" y="307.1" width="3.8" height="3.8" fill="#0000ff"/>
<circle cx="740.5" cy="327.4" r="2.4" fill="#00ee00" stroke="#3a3" stroke-width="0.4"/>
<rect x="738.6" y="343.7" width="3.8" height="3.8" fill="#0000ff"/>
<rect x="738.6" y="362.1" width="3.8" height="3.8" fill="#0000ff"/>
<polygon points="742.5,363 745.5,361.5 745.5,364.5" fill="#ff0000"/>
<line x1="791.3" y1="259.5" x2="791.3" y2="284.7" stroke="#3a3a3a" stroke-width="0.85"/>
<line x1="791.3" y1="284.7" x2="791.3" y2="305.1" stroke="#3a3a3a" stroke-width="0.85"/>
<line x1="791.3" y1="305.1" x2="791.3" y2="325.8" stroke="#3a3a3a" stroke-width="0.85"/>
<text transform="translate(791.9,273.6) rotate(90)" font-size="4.4" font-family='"Liberation Sans", sans-serif' font-weight="bold" fill="#111" text-anchor="middle" textLength="4" lengthAdjust="spacingAndGlyphs">&#946;4</text>
<text transform="translate(791.9,296.4) rotate(90)" font-size="4.4" font-family='"Liberation Sans", sans-serif' font-weight="bold" fill="#111" text-anchor="middle" textLength="4" lengthAdjust="spacingAndGlyphs">&#946;4</text>
<text transform="translate(791.9,316.95) rotate(90)" font-size="4.4" font-family='"Liberation Sans", sans-serif' font-weight="bold" fill="#111" text-anchor="middle" textLength="4" lengthAdjust="spacingAndGlyphs">&#946;4</text>
<rect x="785.3" y="253.5" width="12" height="12" fill="#ffff00" stroke="#222" stroke-width="0.9"/>
<rect x="789.4" y="282.8" width="3.8" height="3.8" fill="#0000ff"/>
<circle cx="791.3" cy="305.1" r="2.6" fill="#ffff00" stroke="#666" stroke-width="0.5"/>
<rect x="789.4" y="323.9" width="3.8" height="3.8" fill="#0000ff"/>
<line x1="774.8" y1="20.4" x2="774.8" y2="41.8" stroke="#3a3a3a" stroke-width="0.85"/>
<line x1="774.8" y1="41.8" x2="774.8" y2="60" stroke="#3a3a3a" stroke-width="0.85"/>
<line x1="774.8" y1="60" x2="774.8" y2="77.5" stroke="#3a3a3a" stroke-width="0.85"/>
<line x1="774.8" y1="77.5" x2="774.8" y2="95.3" stroke="#3a3a3a" stroke-width="0.85"/>
<line x1="774.8" y1="95.3" x2="774.8" y2="112.9" stroke="#3a3a3a" stroke-width="0.85"/>
<line x1="774.8" y1="112.9" x2="774.8" y2="131" stroke="#3a3a3a" stroke-width="0.85"/>
<line x1="774.8" y1="131" x2="774.8" y2="148.2" stroke="#3a3a3a" stroke-width="0.85"/>
<line x1="774.8" y1="148.2" x2="774.8" y2="166" stroke="#3a3a3a" stroke-width="0.85"/>
<line x1="807" y1="21" x2="807" y2="41.8" stroke="#3a3a3a" stroke-width="0.85"/>
<line x1="807" y1="41.8" x2="807" y2="60" stroke="#3a3a3a" stroke-width="0.85"/>
<line x1="807" y1="60" x2="807" y2="77.5" stroke="#3a3a3a" stroke-width="0.85"/>
<line x1="807" y1="77.5" x2="807" y2="95.3" stroke="#3a3a3a" stroke-width="0.85"/>
<line x1="807" y1="95.3" x2="807" y2="112.9" stroke="#3a3a3a" stroke-width="0.85"/>
<line x1="807" y1="112.9" x2="807" y2="131" stroke="#3a3a3a" stroke-width="0.85"/>
<line x1="807" y1="131" x2="807" y2="148.2" stroke="#3a3a3a" stroke-width="0.85"/>
<line x1="807" y1="148.2" x2="807" y2="166" stroke="#3a3a3a" stroke-width="0.85"/>
<line x1="790.6" y1="184.2" x2="790.6" y2="201.7" stroke="#3a3a3a" stroke-width="0.85"/>
<line x1="790.6" y1="201.7" x2="790.6" y2="219.5" stroke="#3a3a3a" stroke-width="0.85"/>
<line x1="774.8" y1="166" x2="790.6" y2="184.2" stroke="#3a3a3a" stroke-width="0.85"/>
<line x1="807" y1="166" x2="790.6" y2="184.2" stroke="#3a3a3a" stroke-width="0.85"/>
<text transform="translate(775.4,32.6) rotate(90)" font-size="4.4" font-family='"Liberation Sans", sans-serif' font-weight="bold" fill="#111" text-anchor="middle" textLength="4" lengthAdjust="spacingAndGlyphs">&#946;4</text>
<text transform="translate(775.4,52.4) rotate(90)" font-size="4.4" font-family='"Liberation Sans", sans-serif' font-weight="bold" fill="#111" text-anchor="middle" textLength="4" lengthAdjust="spacingAndGlyphs">&#946;4</text>
<text transform="translate(775.4,70.25) rotate(90)" font-size="4.4" font-family='"Liberation Sans", sans-serif' font-weight="bold" fill="#111" text-anchor="middle" textLength="4" lengthAdjust="spacingAndGlyphs">&#946;4</text>
<text transform="translate(775.4,87.9) rotate(90)" font-size="4.4" font-family='"Liberation Sans", sans-serif' font-weight="bold" fill="#111" text-anchor="middle" textLength="4" lengthAdjust="spacingAndGlyphs">&#946;4</text>
<text transform="translate(775.4,105.6) rotate(90)" font-size="4.4" font-family='"Liberation Sans", sans-serif' font-weight="bold" fill="#111" text-anchor="middle" textLength="4" lengthAdjust="spacingAndGlyphs">&#946;4</text>
<text transform="translate(775.4,123.45) rotate(90)" font-size="4.4" font-family='"Liberation Sans", sans-serif' font-weight="bold" fill="#111" text-anchor="middle" textLength="4" lengthAdjust="spacingAndGlyphs">&#946;4</text>
<text transform="translate(775.4,141.1) rotate(90)" font-size="4.4" font-family='"Liberation Sans", sans-serif' font-weight="bold" fill="#111" text-anchor="middle" textLength="4" lengthAdjust="spacingAndGlyphs">&#946;4</text>
<text transform="translate(775.4,158.6) rotate(90)" font-size="4.4" font-family='"Liberation Sans", sans-serif' font-weight="bold" fill="#111" text-anchor="middle" textLength="4" lengthAdjust="spacingAndGlyphs">&#946;4</text>
<text transform="translate(807.6,32.9) rotate(90)" font-size="4.4" font-family='"Liberation Sans", sans-serif' font-weight="bold" fill="#111" text-anchor="middle" textLength="4" lengthAdjust="spacingAndGlyphs">&#946;4</text>
<text transform="translate(807.6,52.4) rotate(90)" font-size="4.4" font-family='"Liberation Sans", sans-serif' font-weight="bold" fill="#111" text-anchor="middle" textLength="4" lengthAdjust="spacingAndGlyphs">&#946;4</text>
<text transform="translate(807.6,70.25) rotate(90)" font-size="4.4" font-family='"Liberation Sans", sans-serif' font-weight="bold" fill="#111" text-anchor="middle" textLength="4" lengthAdjust="spacingAndGlyphs">&#946;4</text>
<text transform="translate(807.6,87.9) rotate(90)" font-size="4.4" font-family='"Liberation Sans", sans-serif' font-weight="bold" fill="#111" text-anchor="middle" textLength="4" lengthAdjust="spacingAndGlyphs">&#946;4</text>
<text transform="translate(807.6,105.6) rotate(90)" font-size="4.4" font-family='"Liberation Sans", sans-serif' font-weight="bold" fill="#111" text-anchor="middle" textLength="4" lengthAdjust="spacingAndGlyphs">&#946;4</text>
<text transform="translate(807.6,123.45) rotate(90)" font-size="4.4" font-family='"Liberation Sans", sans-serif' font-weight="bold" fill="#111" text-anchor="middle" textLength="4" lengthAdjust="spacingAndGlyphs">&#946;4</text>
<text transform="translate(807.6,141.1) rotate(90)" font-size="4.4" font-family='"Liberation Sans", sans-serif' font-weight="bold" fill="#111" text-anchor="middle" textLength="4" lengthAdjust="spacingAndGlyphs">&#946;4</text>
<text transform="translate(807.6,158.6) rotate(90)" font-size="4.4" font-family='"Liberation Sans", sans-serif' font-weight="bold" fill="#111" text-anchor="middle" textLength="4" lengthAdjust="spacingAndGlyphs">&#946;4</text>
<text transform="translate(791.2,194.45) rotate(90)" font-size="4.4" font-family='"Liberation Sans", sans-serif' font-weight="bold" fill="#111" text-anchor="middle" textLength="4" lengthAdjust="spacingAndGlyphs">&#946;4</text>
<text transform="translate(791.2,212.1) rotate(90)" font-size="4.4" font-family='"Liberation Sans", sans-serif' font-weight="bold" fill="#111" text-anchor="middle" textLength="4" lengthAdjust="spacingAndGlyphs">&#946;4</text>
<text transform="translate(783.3,176.6) rotate(90)" font-size="4.4" font-family='"Liberation Sans", sans-serif' font-weight="bold" fill="#111" text-anchor="middle" textLength="4" lengthAdjust="spacingAndGlyphs">&#946;4</text>
<text transform="translate(799.4,176.6) rotate(90)" font-size="4.4" font-family='"Liberation Sans", sans-serif' font-weight="bold" fill="#111" text-anchor="middle" textLength="4" lengthAdjust="spacingAndGlyphs">&#946;4</text>
<circle cx="774.8" cy="20.4" r="6" fill="#ffff00" stroke="#222" stroke-width="0.9"/>
<rect x="772.9" y="39.9" width="3.8" height="3.8" fill="#0000ff"/>
<circle cx="774.8" cy="60" r="2.6" fill="#ffff00" stroke="#666" stroke-width="0.5"/>
<rect x="772.9" y="75.6" width="3.8" height="3.8" fill="#0000ff"/>
<circle cx="774.8" cy="95.3" r="2.6" fill="#ffff00" stroke="#666" stroke-width="0.5"/>
<rect x="772.9" y="111" width="3.8" height="3.8" fill="#0000ff"/>
<circle cx="774.8" cy="131" r="2.6" fill="#ffff00" stroke="#666" stroke-width="0.5"/>
<rect x="772.9" y="146.3" width="3.8" height="3.8" fill="#0000ff"/>
<circle cx="774.8" cy="166" r="2.4" fill="#00ee00" stroke="#3a3" stroke-width="0.4"/>
<circle cx="807" cy="21" r="6" fill="#ffff00" stroke="#222" stroke-width="0.9"/>
<rect x="805.1" y="39.9" width="3.8" height="3.8" fill="#0000ff"/>
<circle cx="807" cy="60" r="2.6" fill="#ffff00" stroke="#666" stroke-width="0.5"/>
<rect x="805.1" y="75.6" width="3.8" height="3.8" fill="#0000ff"/>
<circle cx="807" cy="95.3" r="2.6" fill="#ffff00" stroke="#666" stroke-width="0.5"/>
<rect x="805.1" y="111" width="3.8" height="3.8" fill="#0000ff"/>
<circle cx="807" cy="131" r="2.6" fill="#ffff00" stroke="#666" stroke-width="0.5"/>
<rect x="805.1" y="146.3" width="3.8" height="3.8" fill="#0000ff"/>
<circle cx="807" cy="166" r="2.4" fill="#00ee00" stroke="#3a3" stroke-width="0.4"/>
<circle cx="790.6" cy="184.2" r="2.4" fill="#00ee00" stroke="#3a3" stroke-width="0.4"/>
<rect x="788.7" y="199.8" width="3.8" height="3.8" fill="#0000ff"/>
<rect x="788.7" y="217.6" width="3.8" height="3.8" fill="#0000ff"/>
<line x1="833.7" y1="13.5" x2="833.03" y2="35.1" stroke="#3a3a3a" stroke-width="0.85"/>
<line x1="833.03" y1="35.1" x2="832.86" y2="52.6" stroke="#3a3a3a" stroke-width="0.85"/>
<line x1="832.86" y1="52.6" x2="832.69" y2="69.7" stroke="#3a3a3a" stroke-width="0.85"/>
<line x1="832.69" y1="69.7" x2="832.52" y2="87.5" stroke="#3a3a3a" stroke-width="0.85"/>
<line x1="832.52" y1="87.5" x2="832.35" y2="104.8" stroke="#3a3a3a" stroke-width="0.85"/>
<line x1="832.35" y1="104.8" x2="832.18" y2="122.3" stroke="#3a3a3a" stroke-width="0.85"/>
<line x1="832.18" y1="122.3" x2="832.01" y2="139.9" stroke="#3a3a3a" stroke-width="0.85"/>
<line x1="832.01" y1="139.9" x2="831.84" y2="157.1" stroke="#3a3a3a" stroke-width="0.85"/>
<line x1="831.84" y1="157.1" x2="831.67" y2="174.7" stroke="#3a3a3a" stroke-width="0.85"/>
<line x1="831.67" y1="174.7" x2="831.5" y2="192.2" stroke="#3a3a3a" stroke-width="0.85"/>
<line x1="865.3" y1="13.5" x2="864.75" y2="35.1" stroke="#3a3a3a" stroke-width="0.85"/>
<line x1="864.75" y1="35.1" x2="864.6" y2="52.6" stroke="#3a3a3a" stroke-width="0.85"/>
<line x1="864.6" y1="52.6" x2="864.45" y2="69.7" stroke="#3a3a3a" stroke-width="0.85"/>
<line x1="864.45" y1="69.7" x2="864.3" y2="87.5" stroke="#3a3a3a" stroke-width="0.85"/>
<line x1="864.3" y1="87.5" x2="864.15" y2="104.8" stroke="#3a3a3a" stroke-width="0.85"/>
<line x1="864.15" y1="104.8" x2="864" y2="122.3" stroke="#3a3a3a" stroke-width="0.85"/>
<line x1="864" y1="122.3" x2="863.85" y2="139.9" stroke="#3a3a3a" stroke-width="0.85"/>
<line x1="863.85" y1="139.9" x2="863.7" y2="157.1" stroke="#3a3a3a" stroke-width="0.85"/>
<line x1="863.7" y1="157.1" x2="863.55" y2="174.7" stroke="#3a3a3a" stroke-width="0.85"/>
<line x1="863.55" y1="174.7" x2="863.4" y2="192.2" stroke="#3a3a3a" stroke-width="0.85"/>
<line x1="847.2" y1="209.2" x2="847.2" y2="226.8" stroke="#3a3a3a" stroke-width="0.85"/>
<line x1="847.2" y1="226.8" x2="847.2" y2="244.3" stroke="#3a3a3a" stroke-width="0.85"/>
<line x1="831.5" y1="192.2" x2="847.2" y2="209.2" stroke="#3a3a3a" stroke-width="0.85"/>
<line x1="863.4" y1="192.2" x2="847.2" y2="209.2" stroke="#3a3a3a" stroke-width="0.85"/>
<text transform="translate(833.97,25.8) rotate(90)" font-size="4.4" font-family='"Liberation Sans", sans-serif' font-weight="bold" fill="#111" text-anchor="middle" textLength="4" lengthAdjust="spacingAndGlyphs">&#946;4</text>
<text transform="translate(833.55,45.35) rotate(90)" font-size="4.4" font-family='"Liberation Sans", sans-serif' font-weight="bold" fill="#111" text-anchor="middle" textLength="4" lengthAdjust="spacingAndGlyphs">&#946;4</text>
<text transform="translate(833.38,62.65) rotate(90)" font-size="4.4" font-family='"Liberation Sans", sans-serif' font-weight="bold" fill="#111" text-anchor="middle" textLength="4" lengthAdjust="spacingAndGlyphs">&#946;4</text>
<text transform="translate(833.21,80.1) rotate(90)" font-size="4.4" font-family='"Liberation Sans", sans-serif' font-weight="bold" fill="#111" text-anchor="middle" textLength="4" lengthAdjust="spacingAndGlyphs">&#946;4</text>
<text transform="translate(833.04,97.65) rotate(90)" font-size="4.4" font-family='"Liberation Sans", sans-serif' font-weight="bold" fill="#111" text-anchor="middle" textLength="4" lengthAdjust="spacingAndGlyphs">&#946;4</text>
<text transform="translate(832.87,115.05) rotate(90)" font-size="4.4" font-family='"Liberation Sans", sans-serif' font-weight="bold" fill="#111" text-anchor="middle" textLength="4" lengthAdjust="spacingAndGlyphs">&#946;4</text>
<text transform="translate(832.7,132.6) rotate(90)" font-size="4.4" font-family='"Liberation Sans", sans-serif' font-weight="bold" fill="#111" text-anchor="middle" textLength="4" lengthAdjust="spacingAndGlyphs">&#946;4</text>
<text transform="translate(832.52,150) rotate(90)" font-size="4.4" font-family='"Liberation Sans", sans-serif' font-weight="bold" fill="#111" text-anchor="middle" textLength="4" lengthAdjust="spacingAndGlyphs">&#946;4</text>
<text transform="translate(832.36,167.4) rotate(90)" font-size="4.4" font-family='"Liberation Sans", sans-serif' font-weight="bold" fill="#111" text-anchor="middle" textLength="4" lengthAdjust="spacingAndGlyphs">&#946;4</text>
<text transform="translate(832.19,184.95) rotate(90)" font-size="4.4" font-family='"Liberation Sans", sans-serif' font-weight="bold" fill="#111" text-anchor="middle" textLength="4" lengthAdjust="spacingAndGlyphs">&#946;4</text>
<text transform="translate(865.62,25.8) rotate(90)" font-size="4.4" font-family='"Liberation Sans", sans-serif' font-weight="bold" fill="#111" text-anchor="middle" textLength="4" lengthAdjust="spacingAndGlyphs">&#946;4</text>
<text transform="translate(865.27,45.35) rotate(90)" font-size="4.4" font-family='"Liberation Sans", sans-serif' font-weight="bold" fill="#111" text-anchor="middle" textLength="4" lengthAdjust="spacingAndGlyphs">&#946;4</text>
<text transform="translate(865.12,62.65) rotate(90)" font-size="4.4" font-family='"Liberation Sans", sans-serif' font-weight="bold" fill="#111" text-anchor="middle" textLength="4" lengthAdjust="spacingAndGlyphs">&#946;4</text>
<text transform="translate(864.98,80.1) rotate(90)" font-size="4.4" font-family='"Liberation Sans", sans-serif' font-weight="bold" fill="#111" text-anchor="middle" textLength="4" lengthAdjust="spacingAndGlyphs">&#946;4</text>
<text transform="translate(864.82,97.65) rotate(90)" font-size="4.4" font-family='"Liberation Sans", sans-serif' font-weight="bold" fill="#111" text-anchor="middle" textLength="4" lengthAdjust="spacingAndGlyphs">&#946;4</text>
<text transform="translate(864.68,115.05) rotate(90)" font-size="4.4" font-family='"Liberation Sans", sans-serif' font-weight="bold" fill="#111" text-anchor="middle" textLength="4" lengthAdjust="spacingAndGlyphs">&#946;4</text>
<text transform="translate(864.52,132.6) rotate(90)" font-size="4.4" font-family='"Liberation Sans", sans-serif' font-weight="bold" fill="#111" text-anchor="middle" textLength="4" lengthAdjust="spacingAndGlyphs">&#946;4</text>
<text transform="translate(864.38,150) rotate(90)" font-size="4.4" font-family='"Liberation Sans", sans-serif' font-weight="bold" fill="#111" text-anchor="middle" textLength="4" lengthAdjust="spacingAndGlyphs">&#946;4</text>
<text transform="translate(864.23,167.4) rotate(90)" font-size="4.4" font-family='"Liberation Sans", sans-serif' font-weight="bold" fill="#111" text-anchor="middle" textLength="4" lengthAdjust="spacingAndGlyphs">&#946;4</text>
<text transform="translate(864.07,184.95) rotate(90)" font-size="4.4" font-family='"Liberation Sans", sans-serif' font-weight="bold" fill="#111" text-anchor="middle" textLength="4" lengthAdjust="spacingAndGlyphs">&#946;4</text>
<text transform="translate(847.8,219.5) rotate(90)" font-size="4.4" font-family='"Liberation Sans", sans-serif' font-weight="bold" fill="#111" text-anchor="middle" textLength="4" lengthAdjust="spacingAndGlyphs">&#946;4</text>
<text transform="translate(847.8,237.05) rotate(90)" font-size="4.4" font-family='"Liberation Sans", sans-serif' font-weight="bold" fill="#111" text-anchor="middle" textLength="4" lengthAdjust="spacingAndGlyphs">&#946;4</text>
<text transform="translate(839.95,202.2) rotate(90)" font-size="4.4" font-family='"Liberation Sans", sans-serif' font-weight="bold" fill="#111" text-anchor="middle" textLength="4" lengthAdjust="spacingAndGlyphs">&#946;4</text>
<text transform="translate(855.9,202.2) rotate(90)" font-size="4.4" font-family='"Liberation Sans", sans-serif' font-weight="bold" fill="#111" text-anchor="middle" textLength="4" lengthAdjust="spacingAndGlyphs">&#946;4</text>
<circle cx="833.7" cy="13.5" r="6" fill="#ffff00" stroke="#222" stroke-width="0.9"/>
<rect x="831.13" y="33.2" width="3.8" height="3.8" fill="#0000ff"/>
<circle cx="832.86" cy="52.6" r="2.6" fill="#ffff00" stroke="#666" stroke-width="0.5"/>
<rect x="830.79" y="67.8" width="3.8" height="3.8" fill="#0000ff"/>
<circle cx="832.52" cy="87.5" r="2.6" fill="#ffff00" stroke="#666" stroke-width="0.5"/>
<rect x="830.45" y="102.9" width="3.8" height="3.8" fill="#0000ff"/>
<circle cx="832.18" cy="122.3" r="2.6" fill="#ffff00" stroke="#666" stroke-width="0.5"/>
<rect x="830.11" y="138" width="3.8" height="3.8" fill="#0000ff"/>
<circle cx="831.84" cy="157.1" r="2.6" fill="#ffff00" stroke="#666" stroke-width="0.5"/>
<rect x="829.77" y="172.8" width="3.8" height="3.8" fill="#0000ff"/>
<circle cx="831.5" cy="192.2" r="2.4" fill="#00ee00" stroke="#3a3" stroke-width="0.4"/>
<circle cx="865.3" cy="13.5" r="6" fill="#ffff00" stroke="#222" stroke-width="0.9"/>
<rect x="862.85" y="33.2" width="3.8" height="3.8" fill="#0000ff"/>
<circle cx="864.6" cy="52.6" r="2.6" fill="#ffff00" stroke="#666" stroke-width="0.5"/>
<rect x="862.55" y="67.8" width="3.8" height="3.8" fill="#0000ff"/>
<circle cx="864.3" cy="87.5" r="2.6" fill="#ffff00" stroke="#666" stroke-width="0.5"/>
<rect x="862.25" y="102.9" width="3.8" height="3.8" fill="#0000ff"/>
<circle cx="864" cy="122.3" r="2.6" fill="#ffff00" stroke="#666" stroke-width="0.5"/>
<rect x="861.95" y="138" width="3.8" height="3.8" fill="#0000ff"/>
<circle cx="863.7" cy="157.1" r="2.6" fill="#ffff00" stroke="#666" stroke-width="0.5"/>
<rect x="861.65" y="172.8" width="3.8" height="3.8" fill="#0000ff"/>
<circle cx="863.4" cy="192.2" r="2.4" fill="#00ee00" stroke="#3a3" stroke-width="0.4"/>
<circle cx="847.2" cy="209.2" r="2.4" fill="#00ee00" stroke="#3a3" stroke-width="0.4"/>
<rect x="845.3" y="224.9" width="3.8" height="3.8" fill="#0000ff"/>
<rect x="845.3" y="242.4" width="3.8" height="3.8" fill="#0000ff"/>
<line x1="888.2" y1="89.1" x2="888.2" y2="109.3" stroke="#3a3a3a" stroke-width="0.85"/>
<line x1="888.2" y1="109.3" x2="888.2" y2="126.1" stroke="#3a3a3a" stroke-width="0.85"/>
<line x1="888.2" y1="126.1" x2="888.2" y2="143.1" stroke="#3a3a3a" stroke-width="0.85"/>
<line x1="888.2" y1="143.1" x2="888.2" y2="159.8" stroke="#3a3a3a" stroke-width="0.85"/>
<line x1="888.2" y1="159.8" x2="888.2" y2="176.8" stroke="#3a3a3a" stroke-width="0.85"/>
<line x1="888.2" y1="176.8" x2="888.2" y2="193.6" stroke="#3a3a3a" stroke-width="0.85"/>
<line x1="903.1" y1="89.1" x2="903.1" y2="109.3" stroke="#3a3a3a" stroke-width="0.85"/>
<line x1="903.1" y1="109.3" x2="903.1" y2="126.1" stroke="#3a3a3a" stroke-width="0.85"/>
<line x1="903.1" y1="126.1" x2="903.1" y2="143.1" stroke="#3a3a3a" stroke-width="0.85"/>
<line x1="903.1" y1="143.1" x2="903.1" y2="159.8" stroke="#3a3a3a" stroke-width="0.85"/>
<line x1="903.1" y1="159.8" x2="903.1" y2="176.8" stroke="#3a3a3a" stroke-width="0.85"/>
<line x1="934.4" y1="89.1" x2="934.4" y2="109.3" stroke="#3a3a3a" stroke-width="0.85"/>
<line x1="934.4" y1="109.3" x2="934.4" y2="126.1" stroke="#3a3a3a" stroke-width="0.85"/>
<line x1="934.4" y1="126.1" x2="934.4" y2="143.1" stroke="#3a3a3a" stroke-width="0.85"/>
<line x1="934.4" y1="143.1" x2="934.4" y2="159.8" stroke="#3a3a3a" stroke-width="0.85"/>
<line x1="934.4" y1="159.8" x2="934.4" y2="176.8" stroke="#3a3a3a" stroke-width="0.85"/>
<line x1="903.4" y1="210.6" x2="903.4" y2="227.6" stroke="#3a3a3a" stroke-width="0.85"/>
<line x1="903.4" y1="227.6" x2="903.4" y2="244.3" stroke="#3a3a3a" stroke-width="0.85"/>
<line x1="903.1" y1="176.8" x2="918.7" y2="193.6" stroke="#3a3a3a" stroke-width="0.85"/>
<line x1="934.4" y1="176.8" x2="918.7" y2="193.6" stroke="#3a3a3a" stroke-width="0.85"/>
<line x1="888.2" y1="193.6" x2="903.4" y2="210.6" stroke="#3a3a3a" stroke-width="0.85"/>
<line x1="918.7" y1="193.6" x2="903.4" y2="210.6" stroke="#3a3a3a" stroke-width="0.85"/>
<text transform="translate(888.8,100.7) rotate(90)" font-size="4.4" font-family='"Liberation Sans", sans-serif' font-weight="bold" fill="#111" text-anchor="middle" textLength="4" lengthAdjust="spacingAndGlyphs">&#946;4</text>
<text transform="translate(888.8,119.2) rotate(90)" font-size="4.4" font-family='"Liberation Sans", sans-serif' font-weight="bold" fill="#111" text-anchor="middle" textLength="4" lengthAdjust="spacingAndGlyphs">&#946;4</text>
<text transform="translate(888.8,136.1) rotate(90)" font-size="4.4" font-family='"Liberation Sans", sans-serif' font-weight="bold" fill="#111" text-anchor="middle" textLength="4" lengthAdjust="spacingAndGlyphs">&#946;4</text>
<text transform="translate(888.8,152.95) rotate(90)" font-size="4.4" font-family='"Liberation Sans", sans-serif' font-weight="bold" fill="#111" text-anchor="middle" textLength="4" lengthAdjust="spacingAndGlyphs">&#946;4</text>
<text transform="translate(888.8,169.8) rotate(90)" font-size="4.4" font-family='"Liberation Sans", sans-serif' font-weight="bold" fill="#111" text-anchor="middle" textLength="4" lengthAdjust="spacingAndGlyphs">&#946;4</text>
<text transform="translate(888.8,186.7) rotate(90)" font-size="4.4" font-family='"Liberation Sans", sans-serif' font-weight="bold" fill="#111" text-anchor="middle" textLength="4" lengthAdjust="spacingAndGlyphs">&#946;4</text>
<text transform="translate(903.7,100.7) rotate(90)" font-size="4.4" font-family='"Liberation Sans", sans-serif' font-weight="bold" fill="#111" text-anchor="middle" textLength="4" lengthAdjust="spacingAndGlyphs">&#946;4</text>
<text transform="translate(903.7,119.2) rotate(90)" font-size="4.4" font-family='"Liberation Sans", sans-serif' font-weight="bold" fill="#111" text-anchor="middle" textLength="4" lengthAdjust="spacingAndGlyphs">&#946;4</text>
<text transform="translate(903.7,136.1) rotate(90)" font-size="4.4" font-family='"Liberation Sans", sans-serif' font-weight="bold" fill="#111" text-anchor="middle" textLength="4" lengthAdjust="spacingAndGlyphs">&#946;4</text>
<text transform="translate(903.7,152.95) rotate(90)" font-size="4.4" font-family='"Liberation Sans", sans-serif' font-weight="bold" fill="#111" text-anchor="middle" textLength="4" lengthAdjust="spacingAndGlyphs">&#946;4</text>
<text transform="translate(903.7,169.8) rotate(90)" font-size="4.4" font-family='"Liberation Sans", sans-serif' font-weight="bold" fill="#111" text-anchor="middle" textLength="4" lengthAdjust="spacingAndGlyphs">&#946;4</text>
<text transform="translate(935,100.7) rotate(90)" font-size="4.4" font-family='"Liberation Sans", sans-serif' font-weight="bold" fill="#111" text-anchor="middle" textLength="4" lengthAdjust="spacingAndGlyphs">&#946;4</text>
<text transform="translate(935,119.2) rotate(90)" font-size="4.4" font-family='"Liberation Sans", sans-serif' font-weight="bold" fill="#111" text-anchor="middle" textLength="4" lengthAdjust="spacingAndGlyphs">&#946;4</text>
<text transform="translate(935,136.1) rotate(90)" font-size="4.4" font-family='"Liberation Sans", sans-serif' font-weight="bold" fill="#111" text-anchor="middle" textLength="4" lengthAdjust="spacingAndGlyphs">&#946;4</text>
<text transform="translate(935,152.95) rotate(90)" font-size="4.4" font-family='"Liberation Sans", sans-serif' font-weight="bold" fill="#111" text-anchor="middle" textLength="4" lengthAdjust="spacingAndGlyphs">&#946;4</text>
<text transform="translate(935,169.8) rotate(90)" font-size="4.4" font-family='"Liberation Sans", sans-serif' font-weight="bold" fill="#111" text-anchor="middle" textLength="4" lengthAdjust="spacingAndGlyphs">&#946;4</text>
<text transform="translate(904,220.6) rotate(90)" font-size="4.4" font-family='"Liberation Sans", sans-serif' font-weight="bold" fill="#111" text-anchor="middle" textLength="4" lengthAdjust="spacingAndGlyphs">&#946;4</text>
<text transform="translate(904,237.45) rotate(90)" font-size="4.4" font-family='"Liberation Sans", sans-serif' font-weight="bold" fill="#111" text-anchor="middle" textLength="4" lengthAdjust="spacingAndGlyphs">&#946;4</text>
<text transform="translate(911.5,186.7) rotate(90)" font-size="4.4" font-family='"Liberation Sans", sans-serif' font-weight="bold" fill="#111" text-anchor="middle" textLength="4" lengthAdjust="spacingAndGlyphs">&#946;4</text>
<text transform="translate(927.15,186.7) rotate(90)" font-size="4.4" font-family='"Liberation Sans", sans-serif' font-weight="bold" fill="#111" text-anchor="middle" textLength="4" lengthAdjust="spacingAndGlyphs">&#946;4</text>
<text transform="translate(896.4,203.6) rotate(90)" font-size="4.4" font-family='"Liberation Sans", sans-serif' font-weight="bold" fill="#111" text-anchor="middle" textLength="4" lengthAdjust="spacingAndGlyphs">&#946;4</text>
<text transform="translate(911.65,203.6) rotate(90)" font-size="4.4" font-family='"Liberation Sans", sans-serif' font-weight="bold" fill="#111" text-anchor="middle" textLength="4" lengthAdjust="spacingAndGlyphs">&#946;4</text>
<circle cx="888.2" cy="89.1" r="6" fill="#ffff00" stroke="#222" stroke-width="0.9"/>
<rect x="886.3" y="107.4" width="3.8" height="3.8" fill="#0000ff"/>
<circle cx="888.2" cy="126.1" r="2.6" fill="#ffff00" stroke="#666" stroke-width="0.5"/>
<rect x="886.3" y="141.2" width="3.8" height="3.8" fill="#0000ff"/>
<circle cx="888.2" cy="159.8" r="2.6" fill="#ffff00" stroke="#666" stroke-width="0.5"/>
<rect x="886.3" y="174.9" width="3.8" height="3.8" fill="#0000ff"/>
<circle cx="888.2" cy="193.6" r="2.4" fill="#00ee00" stroke="#3a3" stroke-width="0.4"/>
<circle cx="903.1" cy="89.1" r="6" fill="#ffff00" stroke="#222" stroke-width="0.9"/>
<rect x="901.2" y="107.4" width="3.8" height="3.8" fill="#0000ff"/>
<circle cx="903.1" cy="126.1" r="2.6" fill="#ffff00" stroke="#666" stroke-width="0.5"/>
<rect x="901.2" y="141.2" width="3.8" height="3.8" fill="#0000ff"/>
<circle cx="903.1" cy="159.8" r="2.6" fill="#ffff00" stroke="#666" stroke-width="0.5"/>
<rect x="901.2" y="174.9" width="3.8" height="3.8" fill="#0000ff"/>
<circle cx="934.4" cy="89.1" r="6" fill="#ffff00" stroke="#222" stroke-width="0.9"/>
<rect x="932.5" y="107.4" width="3.8" height="3.8" fill="#0000ff"/>
<circle cx="934.4" cy="126.1" r="2.6" fill="#ffff00" stroke="#666" stroke-width="0.5"/>
<rect x="932.5" y="141.2" width="3.8" height="3.8" fill="#0000ff"/>
<circle cx="934.4" cy="159.8" r="2.6" fill="#ffff00" stroke="#666" stroke-width="0.5"/>
<rect x="932.5" y="174.9" width="3.8" height="3.8" fill="#0000ff"/>
<circle cx="918.7" cy="193.6" r="2.4" fill="#00ee00" stroke="#3a3" stroke-width="0.4"/>
<circle cx="903.4" cy="210.6" r="2.4" fill="#00ee00" stroke="#3a3" stroke-width="0.4"/>
<rect x="901.5" y="225.7" width="3.8" height="3.8" fill="#0000ff"/>
<rect x="901.5" y="242.4" width="3.8" height="3.8" fill="#0000ff"/>
<polygon points="905.5,243.3 908.5,241.8 908.5,244.8" fill="#ff0000"/>
<line x1="955.7" y1="19.4" x2="955.7" y2="41.8" stroke="#3a3a3a" stroke-width="0.85"/>
<line x1="955.7" y1="41.8" x2="955.7" y2="60.7" stroke="#3a3a3a" stroke-width="0.85"/>
<line x1="955.7" y1="60.7" x2="955.7" y2="79.6" stroke="#3a3a3a" stroke-width="0.85"/>
<line x1="955.7" y1="79.6" x2="955.7" y2="98" stroke="#3a3a3a" stroke-width="0.85"/>
<line x1="955.7" y1="98" x2="955.7" y2="116.6" stroke="#3a3a3a" stroke-width="0.85"/>
<line x1="955.7" y1="116.6" x2="955.7" y2="135" stroke="#3a3a3a" stroke-width="0.85"/>
<line x1="955.7" y1="135" x2="955.7" y2="153.9" stroke="#3a3a3a" stroke-width="0.85"/>
<line x1="955.7" y1="153.9" x2="955.7" y2="172.2" stroke="#3a3a3a" stroke-width="0.85"/>
<line x1="955.7" y1="172.2" x2="955.7" y2="190.9" stroke="#3a3a3a" stroke-width="0.85"/>
<line x1="955.7" y1="190.9" x2="955.7" y2="209.2" stroke="#3a3a3a" stroke-width="0.85"/>
<line x1="972.7" y1="19.4" x2="972.7" y2="41.8" stroke="#3a3a3a" stroke-width="0.85"/>
<line x1="972.7" y1="41.8" x2="972.7" y2="60.7" stroke="#3a3a3a" stroke-width="0.85"/>
<line x1="972.7" y1="60.7" x2="972.7" y2="79.6" stroke="#3a3a3a" stroke-width="0.85"/>
<line x1="972.7" y1="79.6" x2="972.7" y2="98" stroke="#3a3a3a" stroke-width="0.85"/>
<line x1="972.7" y1="98" x2="972.7" y2="116.6" stroke="#3a3a3a" stroke-width="0.85"/>
<line x1="972.7" y1="116.6" x2="972.7" y2="135" stroke="#3a3a3a" stroke-width="0.85"/>
<line x1="972.7" y1="135" x2="972.7" y2="153.9" stroke="#3a3a3a" stroke-width="0.85"/>
<line x1="972.7" y1="153.9" x2="972.7" y2="172.2" stroke="#3a3a3a" stroke-width="0.85"/>
<line x1="972.7" y1="172.2" x2="972.7" y2="190.9" stroke="#3a3a3a" stroke-width="0.85"/>
<line x1="1006.8" y1="19.4" x2="1006.8" y2="41.8" stroke="#3a3a3a" stroke-width="0.85"/>
<line x1="1006.8" y1="41.8" x2="1006.8" y2="60.7" stroke="#3a3a3a" stroke-width="0.85"/>
<line x1="1006.8" y1="60.7" x2="1006.8" y2="79.6" stroke="#3a3a3a" stroke-width="0.85"/>
<line x1="1006.8" y1="79.6" x2="1006.8" y2="98" stroke="#3a3a3a" stroke-width="0.85"/>
<line x1="1006.8" y1="98" x2="1006.8" y2="116.6" stroke="#3a3a3a" stroke-width="0.85"/>
<line x1="1006.8" y1="116.6" x2="1006.8" y2="135" stroke="#3a3a3a" stroke-width="0.85"/>
<line x1="1006.8" y1="135" x2="1006.8" y2="153.9" stroke="#3a3a3a" stroke-width="0.85"/>
<line x1="1006.8" y1="153.9" x2="1006.8" y2="172.2" stroke="#3a3a3a" stroke-width="0.85"/>
<line x1="1006.8" y1="172.2" x2="1006.8" y2="190.9" stroke="#3a3a3a" stroke-width="0.85"/>
<line x1="971.9" y1="228.1" x2="971.9" y2="246.5" stroke="#3a3a3a" stroke-width="0.85"/>
<line x1="971.9" y1="246.5" x2="971.9" y2="265.4" stroke="#3a3a3a" stroke-width="0.85"/>
<line x1="972.7" y1="190.9" x2="989" y2="209.2" stroke="#3a3a3a" stroke-width="0.85"/>
<line x1="1006.8" y1="190.9" x2="989" y2="209.2" stroke="#3a3a3a" stroke-width="0.85"/>
<line x1="955.7" y1="209.2" x2="971.9" y2="228.1" stroke="#3a3a3a" stroke-width="0.85"/>
<line x1="989" y1="209.2" x2="971.9" y2="228.1" stroke="#3a3a3a" stroke-width="0.85"/>
<text transform="translate(956.3,32.1) rotate(90)" font-size="4.4" font-family='"Liberation Sans", sans-serif' font-weight="bold" fill="#111" text-anchor="middle" textLength="4" lengthAdjust="spacingAndGlyphs">&#946;4</text>
<text transform="translate(956.3,52.75) rotate(90)" font-size="4.4" font-family='"Liberation Sans", sans-serif' font-weight="bold" fill="#111" text-anchor="middle" textLength="4" lengthAdjust="spacingAndGlyphs">&#946;4</text>
<text transform="translate(956.3,71.65) rotate(90)" font-size="4.4" font-family='"Liberation Sans", sans-serif' font-weight="bold" fill="#111" text-anchor="middle" textLength="4" lengthAdjust="spacingAndGlyphs">&#946;4</text>
<text transform="translate(956.3,90.3) rotate(90)" font-size="4.4" font-family='"Liberation Sans", sans-serif' font-weight="bold" fill="#111" text-anchor="middle" textLength="4" lengthAdjust="spacingAndGlyphs">&#946;4</text>
<text transform="translate(956.3,108.8) rotate(90)" font-size="4.4" font-family='"Liberation Sans", sans-serif' font-weight="bold" fill="#111" text-anchor="middle" textLength="4" lengthAdjust="spacingAndGlyphs">&#946;4</text>
<text transform="translate(956.3,127.3) rotate(90)" font-size="4.4" font-family='"Liberation Sans", sans-serif' font-weight="bold" fill="#111" text-anchor="middle" textLength="4" lengthAdjust="spacingAndGlyphs">&#946;4</text>
<text transform="translate(956.3,145.95) rotate(90)" font-size="4.4" font-family='"Liberation Sans", sans-serif' font-weight="bold" fill="#111" text-anchor="middle" textLength="4" lengthAdjust="spacingAndGlyphs">&#946;4</text>
<text transform="translate(956.3,164.55) rotate(90)" font-size="4.4" font-family='"Liberation Sans", sans-serif' font-weight="bold" fill="#111" text-anchor="middle" textLength="4" lengthAdjust="spacingAndGlyphs">&#946;4</text>
<text transform="translate(956.3,183.05) rotate(90)" font-size="4.4" font-family='"Liberation Sans", sans-serif' font-weight="bold" fill="#111" text-anchor="middle" textLength="4" lengthAdjust="spacingAndGlyphs">&#946;4</text>
<text transform="translate(956.3,201.55) rotate(90)" font-size="4.4" font-family='"Liberation Sans", sans-serif' font-weight="bold" fill="#111" text-anchor="middle" textLength="4" lengthAdjust="spacingAndGlyphs">&#946;4</text>
<text transform="translate(973.3,32.1) rotate(90)" font-size="4.4" font-family='"Liberation Sans", sans-serif' font-weight="bold" fill="#111" text-anchor="middle" textLength="4" lengthAdjust="spacingAndGlyphs">&#946;4</text>
<text transform="translate(973.3,52.75) rotate(90)" font-size="4.4" font-family='"Liberation Sans", sans-serif' font-weight="bold" fill="#111" text-anchor="middle" textLength="4" lengthAdjust="spacingAndGlyphs">&#946;4</text>
<text transform="translate(973.3,71.65) rotate(90)" font-size="4.4" font-family='"Liberation Sans", sans-serif' font-weight="bold" fill="#111" text-anchor="middle" textLength="4" lengthAdjust="spacingAndGlyphs">&#946;4</text>
<text transform="translate(973.3,90.3) rotate(90)" font-size="4.4" font-family='"Liberation Sans", sans-serif' font-weight="bold" fill="#111" text-anchor="middle" textLength="4" lengthAdjust="spacingAndGlyphs">&#946;4</text>
<text transform="translate(973.3,108.8) rotate(90)" font-size="4.4" font-family='"Liberation Sans", sans-serif' font-weight="bold" fill="#111" text-anchor="middle" textLength="4" lengthAdjust="spacingAndGlyphs">&#946;4</text>
<text transform="translate(973.3,127.3) rotate(90)" font-size="4.4" font-family='"Liberation Sans", sans-serif' font-weight="bold" fill="#111" text-anchor="middle" textLength="4" lengthAdjust="spacingAndGlyphs">&#946;4</text>
<text transform="translate(973.3,145.95) rotate(90)" font-size="4.4" font-family='"Liberation Sans", sans-serif' font-weight="bold" fill="#111" text-anchor="middle" textLength="4" lengthAdjust="spacingAndGlyphs">&#946;4</text>
<text transform="translate(973.3,164.55) rotate(90)" font-size="4.4" font-family='"Liberation Sans", sans-serif' font-weight="bold" fill="#111" text-anchor="middle" textLength="4" lengthAdjust="spacingAndGlyphs">&#946;4</text>
<text transform="translate(973.3,183.05) rotate(90)" font-size="4.4" font-family='"Liberation Sans", sans-serif' font-weight="bold" fill="#111" text-anchor="middle" textLength="4" lengthAdjust="spacingAndGlyphs">&#946;4</text>
<text transform="translate(1007.4,32.1) rotate(90)" font-size="4.4" font-family='"Liberation Sans", sans-serif' font-weight="bold" fill="#111" text-anchor="middle" textLength="4" lengthAdjust="spacingAndGlyphs">&#946;4</text>
<text transform="translate(1007.4,52.75) rotate(90)" font-size="4.4" font-family='"Liberation Sans", sans-serif' font-weight="bold" fill="#111" text-anchor="middle" textLength="4" lengthAdjust="spacingAndGlyphs">&#946;4</text>
<text transform="translate(1007.4,71.65) rotate(90)" font-size="4.4" font-family='"Liberation Sans", sans-serif' font-weight="bold" fill="#111" text-anchor="middle" textLength="4" lengthAdjust="spacingAndGlyphs">&#946;4</text>
<text transform="translate(1007.4,90.3) rotate(90)" font-size="4.4" font-family='"Liberation Sans", sans-serif' font-weight="bold" fill="#111" text-anchor="middle" textLength="4" lengthAdjust="spacingAndGlyphs">&#946;4</text>
<text transform="translate(1007.4,108.8) rotate(90)" font-size="4.4" font-family='"Liberation Sans", sans-serif' font-weight="bold" fill="#111" text-anchor="middle" textLength="4" lengthAdjust="spacingAndGlyphs">&#946;4</text>
<text transform="translate(1007.4,127.3) rotate(90)" font-size="4.4" font-family='"Liberation Sans", sans-serif' font-weight="bold" fill="#111" text-anchor="middle" textLength="4" lengthAdjust="spacingAndGlyphs">&#946;4</text>
<text transform="translate(1007.4,145.95) rotate(90)" font-size="4.4" font-family='"Liberation Sans", sans-serif' font-weight="bold" fill="#111" text-anchor="middle" textLength="4" lengthAdjust="spacingAndGlyphs">&#946;4</text>
<text transform="translate(1007.4,164.55) rotate(90)" font-size="4.4" font-family='"Liberation Sans", sans-serif' font-weight="bold" fill="#111" text-anchor="middle" textLength="4" lengthAdjust="spacingAndGlyphs">&#946;4</text>
<text transform="translate(1007.4,183.05) rotate(90)" font-size="4.4" font-family='"Liberation Sans", sans-serif' font-weight="bold" fill="#111" text-anchor="middle" textLength="4" lengthAdjust="spacingAndGlyphs">&#946;4</text>
<text transform="translate(972.5,238.8) rotate(90)" font-size="4.4" font-family='"Liberation Sans", sans-serif' font-weight="bold" fill="#111" text-anchor="middle" textLength="4" lengthAdjust="spacingAndGlyphs">&#946;4</text>
<text transform="translate(972.5,257.45) rotate(90)" font-size="4.4" font-family='"Liberation Sans", sans-serif' font-weight="bold" fill="#111" text-anchor="middle" textLength="4" lengthAdjust="spacingAndGlyphs">&#946;4</text>
<text transform="translate(981.45,201.55) rotate(90)" font-size="4.4" font-family='"Liberation Sans", sans-serif' font-weight="bold" fill="#111" text-anchor="middle" textLength="4" lengthAdjust="spacingAndGlyphs">&#946;4</text>
<text transform="translate(998.5,201.55) rotate(90)" font-size="4.4" font-family='"Liberation Sans", sans-serif' font-weight="bold" fill="#111" text-anchor="middle" textLength="4" lengthAdjust="spacingAndGlyphs">&#946;4</text>
<text transform="translate(964.4,220.15) rotate(90)" font-size="4.4" font-family='"Liberation Sans", sans-serif' font-weight="bold" fill="#111" text-anchor="middle" textLength="4" lengthAdjust="spacingAndGlyphs">&#946;4</text>
<text transform="translate(981.05,220.15) rotate(90)" font-size="4.4" font-family='"Liberation Sans", sans-serif' font-weight="bold" fill="#111" text-anchor="middle" textLength="4" lengthAdjust="spacingAndGlyphs">&#946;4</text>
<circle cx="955.7" cy="19.4" r="6" fill="#ffff00" stroke="#222" stroke-width="0.9"/>
<rect x="953.8" y="39.9" width="3.8" height="3.8" fill="#0000ff"/>
<circle cx="955.7" cy="60.7" r="2.6" fill="#ffff00" stroke="#666" stroke-width="0.5"/>
<rect x="953.8" y="77.7" width="3.8" height="3.8" fill="#0000ff"/>
<circle cx="955.7" cy="98" r="2.6" fill="#ffff00" stroke="#666" stroke-width="0.5"/>
<rect x="953.8" y="114.7" width="3.8" height="3.8" fill="#0000ff"/>
<circle cx="955.7" cy="135" r="2.6" fill="#ffff00" stroke="#666" stroke-width="0.5"/>
<rect x="953.8" y="152" width="3.8" height="3.8" fill="#0000ff"/>
<circle cx="955.7" cy="172.2" r="2.6" fill="#ffff00" stroke="#666" stroke-width="0.5"/>
<rect x="953.8" y="189" width="3.8" height="3.8" fill="#0000ff"/>
<circle cx="955.7" cy="209.2" r="2.4" fill="#00ee00" stroke="#3a3" stroke-width="0.4"/>
<circle cx="972.7" cy="19.4" r="6" fill="#ffff00" stroke="#222" stroke-width="0.9"/>
<rect x="970.8" y="39.9" width="3.8" height="3.8" fill="#0000ff"/>
<circle cx="972.7" cy="60.7" r="2.6" fill="#ffff00" stroke="#666" stroke-width="0.5"/>
<rect x="970.8" y="77.7" width="3.8" height="3.8" fill="#0000ff"/>
<circle cx="972.7" cy="98" r="2.6" fill="#ffff00" stroke="#666" stroke-width="0.5"/>
<rect x="970.8" y="114.7" width="3.8" height="3.8" fill="#0000ff"/>
<circle cx="972.7" cy="135" r="2.6" fill="#ffff00" stroke="#666" stroke-width="0.5"/>
<rect x="970.8" y="152" width="3.8" height="3.8" fill="#0000ff"/>
<circle cx="972.7" cy="172.2" r="2.6" fill="#ffff00" stroke="#666" stroke-width="0.5"/>
<rect x="970.8" y="189" width="3.8" height="3.8" fill="#0000ff"/>
<circle cx="1006.8" cy="19.4" r="6" fill="#ffff00" stroke="#222" stroke-width="0.9"/>
<rect x="1004.9" y="39.9" width="3.8" height="3.8" fill="#0000ff"/>
<circle cx="1006.8" cy="60.7" r="2.6" fill="#ffff00" stroke="#666" stroke-width="0.5"/>
<rect x="1004.9" y="77.7" width="3.8" height="3.8" fill="#0000ff"/>
<circle cx="1006.8" cy="98" r="2.6" fill="#ffff00" stroke="#666" stroke-width="0.5"/>
<rect x="1004.9" y="114.7" width="3.8" height="3.8" fill="#0000ff"/>
<circle cx="1006.8" cy="135" r="2.6" fill="#ffff00" stroke="#666" stroke-width="0.5"/>
<rect x="1004.9" y="152" width="3.8" height="3.8" fill="#0000ff"/>
<circle cx="1006.8" cy="172.2" r="2.6" fill="#ffff00" stroke="#666" stroke-width="0.5"/>
<rect x="1004.9" y="189" width="3.8" height="3.8" fill="#0000ff"/>
<circle cx="989" cy="209.2" r="2.4" fill="#00ee00" stroke="#3a3" stroke-width="0.4"/>
<circle cx="971.9" cy="228.1" r="2.4" fill="#00ee00" stroke="#3a3" stroke-width="0.4"/>
<rect x="970" y="244.6" width="3.8" height="3.8" fill="#0000ff"/>
<rect x="970" y="263.5" width="3.8" height="3.8" fill="#0000ff"/>
<polygon points="974,264.4 977,262.9 977,265.9" fill="#ff0000"/>
<line x1="957.5" y1="293.3" x2="957.5" y2="314.8" stroke="#3a3a3a" stroke-width="0.85"/>
<line x1="957.5" y1="314.8" x2="957.5" y2="332.1" stroke="#3a3a3a" stroke-width="0.85"/>
<line x1="957.5" y1="332.1" x2="957.5" y2="349.1" stroke="#3a3a3a" stroke-width="0.85"/>
<line x1="957.5" y1="349.1" x2="957.5" y2="366.4" stroke="#3a3a3a" stroke-width="0.85"/>
<line x1="957.5" y1="366.4" x2="957.5" y2="383.5" stroke="#3a3a3a" stroke-width="0.85"/>
<line x1="957.5" y1="383.5" x2="957.5" y2="400.8" stroke="#3a3a3a" stroke-width="0.85"/>
<line x1="957.5" y1="400.8" x2="957.5" y2="418.1" stroke="#3a3a3a" stroke-width="0.85"/>
<line x1="957.5" y1="418.1" x2="957.5" y2="435.2" stroke="#3a3a3a" stroke-width="0.85"/>
<line x1="972.6" y1="293.3" x2="972.6" y2="314.8" stroke="#3a3a3a" stroke-width="0.85"/>
<line x1="972.6" y1="314.8" x2="972.6" y2="332.1" stroke="#3a3a3a" stroke-width="0.85"/>
<line x1="972.6" y1="332.1" x2="972.6" y2="349.1" stroke="#3a3a3a" stroke-width="0.85"/>
<line x1="972.6" y1="349.1" x2="972.6" y2="366.4" stroke="#3a3a3a" stroke-width="0.85"/>
<line x1="972.6" y1="366.4" x2="972.6" y2="383.5" stroke="#3a3a3a" stroke-width="0.85"/>
<line x1="972.6" y1="383.5" x2="972.6" y2="400.8" stroke="#3a3a3a" stroke-width="0.85"/>
<line x1="972.6" y1="400.8" x2="972.6" y2="418.1" stroke="#3a3a3a" stroke-width="0.85"/>
<line x1="1004.5" y1="293.3" x2="1004.5" y2="314.8" stroke="#3a3a3a" stroke-width="0.85"/>
<line x1="1004.5" y1="314.8" x2="1004.5" y2="332.1" stroke="#3a3a3a" stroke-width="0.85"/>
<line x1="1004.5" y1="332.1" x2="1004.5" y2="349.1" stroke="#3a3a3a" stroke-width="0.85"/>
<line x1="1004.5" y1="349.1" x2="1004.5" y2="366.4" stroke="#3a3a3a" stroke-width="0.85"/>
<line x1="1004.5" y1="366.4" x2="1004.5" y2="383.5" stroke="#3a3a3a" stroke-width="0.85"/>
<line x1="1004.5" y1="383.5" x2="1004.5" y2="400.8" stroke="#3a3a3a" stroke-width="0.85"/>
<line x1="1004.5" y1="400.8" x2="1004.5" y2="418.1" stroke="#3a3a3a" stroke-width="0.85"/>
<line x1="973" y1="452.4" x2="973" y2="469.5" stroke="#3a3a3a" stroke-width="0.85"/>
<line x1="973" y1="469.5" x2="973" y2="486.8" stroke="#3a3a3a" stroke-width="0.85"/>
<line x1="972.6" y1="418.1" x2="989" y2="435.2" stroke="#3a3a3a" stroke-width="0.85"/>
<line x1="1004.5" y1="418.1" x2="989" y2="435.2" stroke="#3a3a3a" stroke-width="0.85"/>
<line x1="957.5" y1="435.2" x2="973" y2="452.4" stroke="#3a3a3a" stroke-width="0.85"/>
<line x1="989" y1="435.2" x2="973" y2="452.4" stroke="#3a3a3a" stroke-width="0.85"/>
<text transform="translate(958.1,305.55) rotate(90)" font-size="4.4" font-family='"Liberation Sans", sans-serif' font-weight="bold" fill="#111" text-anchor="middle" textLength="4" lengthAdjust="spacingAndGlyphs">&#946;4</text>
<text transform="translate(958.1,324.95) rotate(90)" font-size="4.4" font-family='"Liberation Sans", sans-serif' font-weight="bold" fill="#111" text-anchor="middle" textLength="4" lengthAdjust="spacingAndGlyphs">&#946;4</text>
<text transform="translate(958.1,342.1) rotate(90)" font-size="4.4" font-family='"Liberation Sans", sans-serif' font-weight="bold" fill="#111" text-anchor="middle" textLength="4" lengthAdjust="spacingAndGlyphs">&#946;4</text>
<text transform="translate(958.1,359.25) rotate(90)" font-size="4.4" font-family='"Liberation Sans", sans-serif' font-weight="bold" fill="#111" text-anchor="middle" textLength="4" lengthAdjust="spacingAndGlyphs">&#946;4</text>
<text transform="translate(958.1,376.45) rotate(90)" font-size="4.4" font-family='"Liberation Sans", sans-serif' font-weight="bold" fill="#111" text-anchor="middle" textLength="4" lengthAdjust="spacingAndGlyphs">&#946;4</text>
<text transform="translate(958.1,393.65) rotate(90)" font-size="4.4" font-family='"Liberation Sans", sans-serif' font-weight="bold" fill="#111" text-anchor="middle" textLength="4" lengthAdjust="spacingAndGlyphs">&#946;4</text>
<text transform="translate(958.1,410.95) rotate(90)" font-size="4.4" font-family='"Liberation Sans", sans-serif' font-weight="bold" fill="#111" text-anchor="middle" textLength="4" lengthAdjust="spacingAndGlyphs">&#946;4</text>
<text transform="translate(958.1,428.15) rotate(90)" font-size="4.4" font-family='"Liberation Sans", sans-serif' font-weight="bold" fill="#111" text-anchor="middle" textLength="4" lengthAdjust="spacingAndGlyphs">&#946;4</text>
<text transform="translate(973.2,305.55) rotate(90)" font-size="4.4" font-family='"Liberation Sans", sans-serif' font-weight="bold" fill="#111" text-anchor="middle" textLength="4" lengthAdjust="spacingAndGlyphs">&#946;4</text>
<text transform="translate(973.2,324.95) rotate(90)" font-size="4.4" font-family='"Liberation Sans", sans-serif' font-weight="bold" fill="#111" text-anchor="middle" textLength="4" lengthAdjust="spacingAndGlyphs">&#946;4</text>
<text transform="translate(973.2,342.1) rotate(90)" font-size="4.4" font-family='"Liberation Sans", sans-serif' font-weight="bold" fill="#111" text-anchor="middle" textLength="4" lengthAdjust="spacingAndGlyphs">&#946;4</text>
<text transform="translate(973.2,359.25) rotate(90)" font-size="4.4" font-family='"Liberation Sans", sans-serif' font-weight="bold" fill="#111" text-anchor="middle" textLength="4" lengthAdjust="spacingAndGlyphs">&#946;4</text>
<text transform="translate(973.2,376.45) rotate(90)" font-size="4.4" font-family='"Liberation Sans", sans-serif' font-weight="bold" fill="#111" text-anchor="middle" textLength="4" lengthAdjust="spacingAndGlyphs">&#946;4</text>
<text transform="translate(973.2,393.65) rotate(90)" font-size="4.4" font-family='"Liberation Sans", sans-serif' font-weight="bold" fill="#111" text-anchor="middle" textLength="4" lengthAdjust="spacingAndGlyphs">&#946;4</text>
<text transform="translate(973.2,410.95) rotate(90)" font-size="4.4" font-family='"Liberation Sans", sans-serif' font-weight="bold" fill="#111" text-anchor="middle" textLength="4" lengthAdjust="spacingAndGlyphs">&#946;4</text>
<text transform="translate(1005.1,305.55) rotate(90)" font-size="4.4" font-family='"Liberation Sans", sans-serif' font-weight="bold" fill="#111" text-anchor="middle" textLength="4" lengthAdjust="spacingAndGlyphs">&#946;4</text>
<text transform="translate(1005.1,324.95) rotate(90)" font-size="4.4" font-family='"Liberation Sans", sans-serif' font-weight="bold" fill="#111" text-anchor="middle" textLength="4" lengthAdjust="spacingAndGlyphs">&#946;4</text>
<text transform="translate(1005.1,342.1) rotate(90)" font-size="4.4" font-family='"Liberation Sans", sans-serif' font-weight="bold" fill="#111" text-anchor="middle" textLength="4" lengthAdjust="spacingAndGlyphs">&#946;4</text>
<text transform="translate(1005.1,359.25) rotate(90)" font-size="4.4" font-family='"Liberation Sans", sans-serif' font-weight="bold" fill="#111" text-anchor="middle" textLength="4" lengthAdjust="spacingAndGlyphs">&#946;4</text>
<text transform="translate(1005.1,376.45) rotate(90)" font-size="4.4" font-family='"Liberation Sans", sans-serif' font-weight="bold" fill="#111" text-anchor="middle" textLength="4" lengthAdjust="spacingAndGlyphs">&#946;4</text>
<text transform="translate(1005.1,393.65) rotate(90)" font-size="4.4" font-family='"Liberation Sans", sans-serif' font-weight="bold" fill="#111" text-anchor="middle" textLength="4" lengthAdjust="spacingAndGlyphs">&#946;4</text>
<text transform="translate(1005.1,410.95) rotate(90)" font-size="4.4" font-family='"Liberation Sans", sans-serif' font-weight="bold" fill="#111" text-anchor="middle" textLength="4" lengthAdjust="spacingAndGlyphs">&#946;4</text>
<text transform="translate(973.6,462.45) rotate(90)" font-size="4.4" font-family='"Liberation Sans", sans-serif' font-weight="bold" fill="#111" text-anchor="middle" textLength="4" lengthAdjust="spacingAndGlyphs">&#946;4</text>
<text transform="translate(973.6,479.65) rotate(90)" font-size="4.4" font-family='"Liberation Sans", sans-serif' font-weight="bold" fill="#111" text-anchor="middle" textLength="4" lengthAdjust="spacingAndGlyphs">&#946;4</text>
<text transform="translate(981.4,428.15) rotate(90)" font-size="4.4" font-family='"Liberation Sans", sans-serif' font-weight="bold" fill="#111" text-anchor="middle" textLength="4" lengthAdjust="spacingAndGlyphs">&#946;4</text>
<text transform="translate(997.35,428.15) rotate(90)" font-size="4.4" font-family='"Liberation Sans", sans-serif' font-weight="bold" fill="#111" text-anchor="middle" textLength="4" lengthAdjust="spacingAndGlyphs">&#946;4</text>
<text transform="translate(965.85,445.3) rotate(90)" font-size="4.4" font-family='"Liberation Sans", sans-serif' font-weight="bold" fill="#111" text-anchor="middle" textLength="4" lengthAdjust="spacingAndGlyphs">&#946;4</text>
<text transform="translate(981.6,445.3) rotate(90)" font-size="4.4" font-family='"Liberation Sans", sans-serif' font-weight="bold" fill="#111" text-anchor="middle" textLength="4" lengthAdjust="spacingAndGlyphs">&#946;4</text>
<circle cx="957.5" cy="293.3" r="6" fill="#ffff00" stroke="#222" stroke-width="0.9"/>
<rect x="955.6" y="312.9" width="3.8" height="3.8" fill="#0000ff"/>
<circle cx="957.5" cy="332.1" r="2.6" fill="#ffff00" stroke="#666" stroke-width="0.5"/>
<rect x="955.6" y="347.2" width="3.8" height="3.8" fill="#0000ff"/>
<circle cx="957.5" cy="366.4" r="2.6" fill="#ffff00" stroke="#666" stroke-width="0.5"/>
<rect x="955.6" y="381.6" width="3.8" height="3.8" fill="#0000ff"/>
<circle cx="957.5" cy="400.8" r="2.6" fill="#ffff00" stroke="#666" stroke-width="0.5"/>
<rect x="955.6" y="416.2" width="3.8" height="3.8" fill="#0000ff"/>
<circle cx="957.5" cy="435.2" r="2.4" fill="#00ee00" stroke="#3a3" stroke-width="0.4"/>
<circle cx="972.6" cy="293.3" r="6" fill="#ffff00" stroke="#222" stroke-width="0.9"/>
<rect x="970.7" y="312.9" width="3.8" height="3.8" fill="#0000ff"/>
<circle cx="972.6" cy="332.1" r="2.6" fill="#ffff00" stroke="#666" stroke-width="0.5"/>
<rect x="970.7" y="347.2" width="3.8" height="3.8" fill="#0000ff"/>
<circle cx="972.6" cy="366.4" r="2.6" fill="#ffff00" stroke="#666" stroke-width="0.5"/>
<rect x="970.7" y="381.6" width="3.8" height="3.8" fill="#0000ff"/>
<circle cx="972.6" cy="400.8" r="2.6" fill="#ffff00" stroke="#666" stroke-width="0.5"/>
<rect x="970.7" y="416.2" width="3.8" height="3.8" fill="#0000ff"/>
<circle cx="1004.5" cy="293.3" r="6" fill="#ffff00" stroke="#222" stroke-width="0.9"/>
<rect x="1002.6" y="312.9" width="3.8" height="3.8" fill="#0000ff"/>
<circle cx="1004.5" cy="332.1" r="2.6" fill="#ffff00" stroke="#666" stroke-width="0.5"/>
<rect x="1002.6" y="347.2" width="3.8" height="3.8" fill="#0000ff"/>
<circle cx="1004.5" cy="366.4" r="2.6" fill="#ffff00" stroke="#666" stroke-width="0.5"/>
<rect x="1002.6" y="381.6" width="3.8" height="3.8" fill="#0000ff"/>
<circle cx="1004.5" cy="400.8" r="2.6" fill="#ffff00" stroke="#666" stroke-width="0.5"/>
<rect x="1002.6" y="416.2" width="3.8" height="3.8" fill="#0000ff"/>
<circle cx="989" cy="435.2" r="2.4" fill="#00ee00" stroke="#3a3" stroke-width="0.4"/>
<circle cx="973" cy="452.4" r="2.4" fill="#00ee00" stroke="#3a3" stroke-width="0.4"/>
<rect x="971.1" y="467.6" width="3.8" height="3.8" fill="#0000ff"/>
<rect x="971.1" y="484.9" width="3.8" height="3.8" fill="#0000ff"/>
<polygon points="975.1,485.8 978.1,484.3 978.1,487.3" fill="#ff0000"/>
<text x="228.7" y="355" font-size="16.5" font-family='"Liberation Serif", serif' font-weight="bold" text-anchor="start" fill="#000" textLength="14.7" lengthAdjust="spacingAndGlyphs" stroke="#000" stroke-width="0.35">98</text>
<text x="519.7" y="357.4" font-size="16.5" font-family='"Liberation Serif", serif' font-weight="bold" text-anchor="start" fill="#000" textLength="23.1" lengthAdjust="spacingAndGlyphs" stroke="#000" stroke-width="0.35">324</text>
<text x="667.7" y="344.2" font-size="16.5" font-family='"Liberation Serif", serif' font-weight="bold" text-anchor="start" fill="#000" textLength="22.5" lengthAdjust="spacingAndGlyphs" stroke="#000" stroke-width="0.35">437</text>
<text x="791.7" y="351" font-size="16.5" font-family='"Liberation Serif", serif' font-weight="bold" text-anchor="start" fill="#000" textLength="23.6" lengthAdjust="spacingAndGlyphs" stroke="#000" stroke-width="0.35">532</text>
<text x="825.9" y="348.7" font-size="16.5" font-family='"Liberation Serif", serif' font-weight="bold" text-anchor="start" fill="#000" textLength="23.1" lengthAdjust="spacingAndGlyphs" stroke="#000" stroke-width="0.35">563</text>
<text x="814.2" y="310.5" font-size="16.5" font-family='"Liberation Serif", serif' font-weight="bold" text-anchor="start" fill="#000" textLength="22.4" lengthAdjust="spacingAndGlyphs" stroke="#000" stroke-width="0.35">550</text>
<text x="833.7" y="261.1" font-size="16.5" font-family='"Liberation Serif", serif' font-weight="bold" text-anchor="start" fill="#000" textLength="23.6" lengthAdjust="spacingAndGlyphs" stroke="#000" stroke-width="0.35">565</text>
<text x="852.2" y="307.7" font-size="16.5" font-family='"Liberation Serif", serif' font-weight="bold" text-anchor="start" fill="#000" textLength="22.8" lengthAdjust="spacingAndGlyphs" stroke="#000" stroke-width="0.35">584</text>
<text x="879.5" y="307.7" font-size="16.5" font-family='"Liberation Serif", serif' font-weight="bold" text-anchor="start" fill="#000" textLength="23" lengthAdjust="spacingAndGlyphs" stroke="#000" stroke-width="0.35">588</text>
<text x="880" y="324.3" font-size="16.5" font-family='"Liberation Serif", serif' font-weight="bold" text-anchor="start" fill="#000" textLength="23.2" lengthAdjust="spacingAndGlyphs" stroke="#000" stroke-width="0.35">586</text>
<line x1="794.6" y1="223.6" x2="818.7" y2="298.8" stroke="#000" stroke-width="1.6"/>
<line x1="748.4" y1="335.4" x2="788.4" y2="343.1" stroke="#000" stroke-width="1.6"/>
<line x1="798" y1="327" x2="833.3" y2="335.4" stroke="#000" stroke-width="1.6"/>
<line x1="898" y1="220.8" x2="864.4" y2="292.2" stroke="#000" stroke-width="1.6"/>
<line x1="964.6" y1="230.8" x2="891" y2="293.3" stroke="#000" stroke-width="1.6"/>
<line x1="903.2" y1="326.5" x2="952" y2="366.4" stroke="#000" stroke-width="1.6"/>
<line x1="338.6" y1="833.8" x2="338.6" y2="859" stroke="#3a3a3a" stroke-width="0.85"/>
<line x1="338.6" y1="859" x2="356.4" y2="878.7" stroke="#3a3a3a" stroke-width="0.85"/>
<line x1="373.7" y1="833.8" x2="373.7" y2="859" stroke="#3a3a3a" stroke-width="0.85"/>
<line x1="373.7" y1="859" x2="356.4" y2="878.7" stroke="#3a3a3a" stroke-width="0.85"/>
<text transform="translate(339.2,847.9) rotate(90)" font-size="4.4" font-family='"Liberation Sans", sans-serif' font-weight="bold" fill="#111" text-anchor="middle" textLength="4" lengthAdjust="spacingAndGlyphs">&#946;4</text>
<text transform="translate(348.1,870.35) rotate(90)" font-size="4.4" font-family='"Liberation Sans", sans-serif' font-weight="bold" fill="#111" text-anchor="middle" textLength="4" lengthAdjust="spacingAndGlyphs">&#946;4</text>
<text transform="translate(374.3,847.9) rotate(90)" font-size="4.4" font-family='"Liberation Sans", sans-serif' font-weight="bold" fill="#111" text-anchor="middle" textLength="4" lengthAdjust="spacingAndGlyphs">&#946;4</text>
<text transform="translate(365.65,870.35) rotate(90)" font-size="4.4" font-family='"Liberation Sans", sans-serif' font-weight="bold" fill="#111" text-anchor="middle" textLength="4" lengthAdjust="spacingAndGlyphs">&#946;4</text>
<polygon points="338.6,825.8 346.6,833.8 338.6,841.8 330.6,833.8" fill="#c000c0" stroke="#222" stroke-width="0.9"/>
<polygon points="373.7,825.8 381.7,833.8 373.7,841.8 365.7,833.8" fill="#c000c0" stroke="#222" stroke-width="0.9"/>
<circle cx="338.6" cy="859" r="2.6" fill="#ffff00" stroke="#666" stroke-width="0.5"/>
<circle cx="373.7" cy="859" r="2.6" fill="#ffff00" stroke="#666" stroke-width="0.5"/>
<rect x="354.5" y="876.8" width="3.8" height="3.8" fill="#0000ff"/>
<line x1="361.1" y1="760.9" x2="361.1" y2="788.2" stroke="#3a3a3a" stroke-width="0.85"/>
<line x1="361.1" y1="788.2" x2="379.3" y2="808.4" stroke="#3a3a3a" stroke-width="0.85"/>
<line x1="396.5" y1="782.7" x2="379.3" y2="808.4" stroke="#3a3a3a" stroke-width="0.85"/>
<text transform="translate(361.7,776.05) rotate(90)" font-size="4.4" font-family='"Liberation Sans", sans-serif' font-weight="bold" fill="#111" text-anchor="middle" textLength="4" lengthAdjust="spacingAndGlyphs">&#946;4</text>
<text transform="translate(370.8,799.8) rotate(90)" font-size="4.4" font-family='"Liberation Sans", sans-serif' font-weight="bold" fill="#111" text-anchor="middle" textLength="4" lengthAdjust="spacingAndGlyphs">&#946;4</text>
<text transform="translate(388.5,797.05) rotate(90)" font-size="4.4" font-family='"Liberation Sans", sans-serif' font-weight="bold" fill="#111" text-anchor="middle" textLength="4" lengthAdjust="spacingAndGlyphs">&#946;4</text>
<polygon points="361.1,752.9 369.1,760.9 361.1,768.9 353.1,760.9" fill="#c000c0" stroke="#222" stroke-width="0.9"/>
<polygon points="396.5,774.7 404.5,782.7 396.5,790.7 388.5,782.7" fill="#c000c0" stroke="#222" stroke-width="0.9"/>
<circle cx="361.1" cy="788.2" r="2.6" fill="#ffff00" stroke="#666" stroke-width="0.5"/>
<rect x="377.3" y="806.4" width="4" height="4" fill="#ffff00" stroke="#555" stroke-width="0.5"/>
<line x1="443.9" y1="702.6" x2="442.9" y2="726.8" stroke="#3a3a3a" stroke-width="0.85"/>
<line x1="442.9" y1="726.8" x2="442.5" y2="746.7" stroke="#3a3a3a" stroke-width="0.85"/>
<text transform="translate(444,716.2) rotate(90)" font-size="4.4" font-family='"Liberation Sans", sans-serif' font-weight="bold" fill="#111" text-anchor="middle" textLength="4" lengthAdjust="spacingAndGlyphs">&#946;4</text>
<text transform="translate(443.3,738.25) rotate(90)" font-size="4.4" font-family='"Liberation Sans", sans-serif' font-weight="bold" fill="#111" text-anchor="middle" textLength="4" lengthAdjust="spacingAndGlyphs">&#946;4</text>
<polygon points="443.9,694.6 451.9,702.6 443.9,710.6 435.9,702.6" fill="#c000c0" stroke="#222" stroke-width="0.9"/>
<circle cx="442.9" cy="726.8" r="2.6" fill="#ffff00" stroke="#666" stroke-width="0.5"/>
<rect x="440.6" y="744.8" width="3.8" height="3.8" fill="#0000ff"/>
<polygon points="445,746.5 448,745 448,748" fill="#ff0000"/>
<line x1="475.3" y1="751.8" x2="475.3" y2="778.5" stroke="#3a3a3a" stroke-width="0.85"/>
<line x1="475.3" y1="778.5" x2="475.3" y2="799.3" stroke="#3a3a3a" stroke-width="0.85"/>
<text transform="translate(475.9,766.65) rotate(90)" font-size="4.4" font-family='"Liberation Sans", sans-serif' font-weight="bold" fill="#111" text-anchor="middle" textLength="4" lengthAdjust="spacingAndGlyphs">&#946;4</text>
<text transform="translate(475.9,790.4) rotate(90)" font-size="4.4" font-family='"Liberation Sans", sans-serif' font-weight="bold" fill="#111" text-anchor="middle" textLength="4" lengthAdjust="spacingAndGlyphs">&#946;4</text>
<polygon points="475.3,743.8 483.3,751.8 475.3,759.8 467.3,751.8" fill="#c000c0" stroke="#222" stroke-width="0.9"/>
<circle cx="475.3" cy="778.5" r="2.6" fill="#ffff00" stroke="#666" stroke-width="0.5"/>
<rect x="473.4" y="797.4" width="3.8" height="3.8" fill="#0000ff"/>
<line x1="522.7" y1="725.3" x2="522.7" y2="748.2" stroke="#3a3a3a" stroke-width="0.85"/>
<line x1="522.7" y1="748.2" x2="522.7" y2="768" stroke="#3a3a3a" stroke-width="0.85"/>
<line x1="522.7" y1="768" x2="522.7" y2="787.2" stroke="#3a3a3a" stroke-width="0.85"/>
<line x1="557.8" y1="725.3" x2="557.8" y2="748.2" stroke="#3a3a3a" stroke-width="0.85"/>
<line x1="557.8" y1="748.2" x2="557.8" y2="768" stroke="#3a3a3a" stroke-width="0.85"/>
<line x1="557.8" y1="768" x2="557.8" y2="787.2" stroke="#3a3a3a" stroke-width="0.85"/>
<line x1="539.7" y1="806.5" x2="539.7" y2="825.8" stroke="#3a3a3a" stroke-width="0.85"/>
<line x1="539.7" y1="825.8" x2="539.7" y2="845.3" stroke="#3a3a3a" stroke-width="0.85"/>
<line x1="522.7" y1="787.2" x2="539.7" y2="806.5" stroke="#3a3a3a" stroke-width="0.85"/>
<line x1="557.8" y1="787.2" x2="539.7" y2="806.5" stroke="#3a3a3a" stroke-width="0.85"/>
<text transform="translate(523.3,738.25) rotate(90)" font-size="4.4" font-family='"Liberation Sans", sans-serif' font-weight="bold" fill="#111" text-anchor="middle" textLength="4" lengthAdjust="spacingAndGlyphs">&#946;4</text>
<text transform="translate(523.3,759.6) rotate(90)" font-size="4.4" font-family='"Liberation Sans", sans-serif' font-weight="bold" fill="#111" text-anchor="middle" textLength="4" lengthAdjust="spacingAndGlyphs">&#946;4</text>
<text transform="translate(523.3,779.1) rotate(90)" font-size="4.4" font-family='"Liberation Sans", sans-serif' font-weight="bold" fill="#111" text-anchor="middle" textLength="4" lengthAdjust="spacingAndGlyphs">&#946;4</text>
<text transform="translate(558.4,738.25) rotate(90)" font-size="4.4" font-family='"Liberation Sans", sans-serif' font-weight="bold" fill="#111" text-anchor="middle" textLength="4" lengthAdjust="spacingAndGlyphs">&#946;4</text>
<text transform="translate(558.4,759.6) rotate(90)" font-size="4.4" font-family='"Liberation Sans", sans-serif' font-weight="bold" fill="#111" text-anchor="middle" textLength="4" lengthAdjust="spacingAndGlyphs">&#946;4</text>
<text transform="translate(558.4,779.1) rotate(90)" font-size="4.4" font-family='"Liberation Sans", sans-serif' font-weight="bold" fill="#111" text-anchor="middle" textLength="4" lengthAdjust="spacingAndGlyphs">&#946;4</text>
<text transform="translate(540.3,817.65) rotate(90)" font-size="4.4" font-family='"Liberation Sans", sans-serif' font-weight="bold" fill="#111" text-anchor="middle" textLength="4" lengthAdjust="spacingAndGlyphs">&#946;4</text>
<text transform="translate(540.3,837.05) rotate(90)" font-size="4.4" font-family='"Liberation Sans", sans-serif' font-weight="bold" fill="#111" text-anchor="middle" textLength="4" lengthAdjust="spacingAndGlyphs">&#946;4</text>
<text transform="translate(531.8,798.35) rotate(90)" font-size="4.4" font-family='"Liberation Sans", sans-serif' font-weight="bold" fill="#111" text-anchor="middle" textLength="4" lengthAdjust="spacingAndGlyphs">&#946;4</text>
<text transform="translate(549.35,798.35) rotate(90)" font-size="4.4" font-family='"Liberation Sans", sans-serif' font-weight="bold" fill="#111" text-anchor="middle" textLength="4" lengthAdjust="spacingAndGlyphs">&#946;4</text>
<polygon points="522.7,717.3 530.7,725.3 522.7,733.3 514.7,725.3" fill="#c000c0" stroke="#222" stroke-width="0.9"/>
<circle cx="522.7" cy="748.2" r="2.6" fill="#ffff00" stroke="#666" stroke-width="0.5"/>
<rect x="520.8" y="766.1" width="3.8" height="3.8" fill="#0000ff"/>
<circle cx="522.7" cy="787.2" r="2.4" fill="#00ee00" stroke="#3a3" stroke-width="0.4"/>
<polygon points="557.8,717.3 565.8,725.3 557.8,733.3 549.8,725.3" fill="#c000c0" stroke="#222" stroke-width="0.9"/>
<circle cx="557.8" cy="748.2" r="2.6" fill="#ffff00" stroke="#666" stroke-width="0.5"/>
<rect x="555.9" y="766.1" width="3.8" height="3.8" fill="#0000ff"/>
<circle cx="557.8" cy="787.2" r="2.4" fill="#00ee00" stroke="#3a3" stroke-width="0.4"/>
<circle cx="539.7" cy="806.5" r="2.4" fill="#00ee00" stroke="#3a3" stroke-width="0.4"/>
<rect x="537.8" y="823.9" width="3.8" height="3.8" fill="#0000ff"/>
<rect x="537.8" y="843.4" width="3.8" height="3.8" fill="#0000ff"/>
<line x1="606.4" y1="666.6" x2="606.4" y2="692" stroke="#3a3a3a" stroke-width="0.85"/>
<line x1="606.4" y1="692" x2="606.4" y2="711" stroke="#3a3a3a" stroke-width="0.85"/>
<line x1="606.4" y1="711" x2="606.4" y2="729.9" stroke="#3a3a3a" stroke-width="0.85"/>
<line x1="641.1" y1="666.6" x2="641.1" y2="692" stroke="#3a3a3a" stroke-width="0.85"/>
<line x1="641.1" y1="692" x2="641.1" y2="711" stroke="#3a3a3a" stroke-width="0.85"/>
<line x1="641.1" y1="711" x2="641.1" y2="729.9" stroke="#3a3a3a" stroke-width="0.85"/>
<line x1="623.8" y1="748.6" x2="623.8" y2="767.5" stroke="#3a3a3a" stroke-width="0.85"/>
<line x1="623.8" y1="767.5" x2="623.8" y2="786.8" stroke="#3a3a3a" stroke-width="0.85"/>
<line x1="606.4" y1="729.9" x2="623.8" y2="748.6" stroke="#3a3a3a" stroke-width="0.85"/>
<line x1="641.1" y1="729.9" x2="623.8" y2="748.6" stroke="#3a3a3a" stroke-width="0.85"/>
<line x1="623.8" y1="729.9" x2="623.8" y2="748.6" stroke="#3a3a3a" stroke-width="0.85"/>
<text transform="translate(607,680.8) rotate(90)" font-size="4.4" font-family='"Liberation Sans", sans-serif' font-weight="bold" fill="#111" text-anchor="middle" textLength="4" lengthAdjust="spacingAndGlyphs">&#946;4</text>
<text transform="translate(607,703) rotate(90)" font-size="4.4" font-family='"Liberation Sans", sans-serif' font-weight="bold" fill="#111" text-anchor="middle" textLength="4" lengthAdjust="spacingAndGlyphs">&#946;4</text>
<text transform="translate(607,721.95) rotate(90)" font-size="4.4" font-family='"Liberation Sans", sans-serif' font-weight="bold" fill="#111" text-anchor="middle" textLength="4" lengthAdjust="spacingAndGlyphs">&#946;4</text>
<text transform="translate(641.7,680.8) rotate(90)" font-size="4.4" font-family='"Liberation Sans", sans-serif' font-weight="bold" fill="#111" text-anchor="middle" textLength="4" lengthAdjust="spacingAndGlyphs">&#946;4</text>
<text transform="translate(641.7,703) rotate(90)" font-size="4.4" font-family='"Liberation Sans", sans-serif' font-weight="bold" fill="#111" text-anchor="middle" textLength="4" lengthAdjust="spacingAndGlyphs">&#946;4</text>
<text transform="translate(641.7,721.95) rotate(90)" font-size="4.4" font-family='"Liberation Sans", sans-serif' font-weight="bold" fill="#111" text-anchor="middle" textLength="4" lengthAdjust="spacingAndGlyphs">&#946;4</text>
<text transform="translate(624.4,759.55) rotate(90)" font-size="4.4" font-family='"Liberation Sans", sans-serif' font-weight="bold" fill="#111" text-anchor="middle" textLength="4" lengthAdjust="spacingAndGlyphs">&#946;4</text>
<text transform="translate(624.4,778.65) rotate(90)" font-size="4.4" font-family='"Liberation Sans", sans-serif' font-weight="bold" fill="#111" text-anchor="middle" textLength="4" lengthAdjust="spacingAndGlyphs">&#946;4</text>
<text transform="translate(615.7,740.75) rotate(90)" font-size="4.4" font-family='"Liberation Sans", sans-serif' font-weight="bold" fill="#111" text-anchor="middle" textLength="4" lengthAdjust="spacingAndGlyphs">&#946;4</text>
<text transform="translate(633.05,740.75) rotate(90)" font-size="4.4" font-family='"Liberation Sans", sans-serif' font-weight="bold" fill="#111" text-anchor="middle" textLength="4" lengthAdjust="spacingAndGlyphs">&#946;4</text>
<text transform="translate(624.4,740.75) rotate(90)" font-size="4.4" font-family='"Liberation Sans", sans-serif' font-weight="bold" fill="#111" text-anchor="middle" textLength="4" lengthAdjust="spacingAndGlyphs">&#946;4</text>
<polygon points="606.4,658.6 614.4,666.6 606.4,674.6 598.4,666.6" fill="#c000c0" stroke="#222" stroke-width="0.9"/>
<circle cx="606.4" cy="692" r="2.6" fill="#ffff00" stroke="#666" stroke-width="0.5"/>
<rect x="604.5" y="709.1" width="3.8" height="3.8" fill="#0000ff"/>
<circle cx="606.4" cy="729.9" r="2.4" fill="#00ee00" stroke="#3a3" stroke-width="0.4"/>
<polygon points="641.1,658.6 649.1,666.6 641.1,674.6 633.1,666.6" fill="#c000c0" stroke="#222" stroke-width="0.9"/>
<circle cx="641.1" cy="692" r="2.6" fill="#ffff00" stroke="#666" stroke-width="0.5"/>
<rect x="639.2" y="709.1" width="3.8" height="3.8" fill="#0000ff"/>
<circle cx="641.1" cy="729.9" r="2.4" fill="#00ee00" stroke="#3a3" stroke-width="0.4"/>
<rect x="621.9" y="728" width="3.8" height="3.8" fill="#0000ff"/>
<circle cx="623.8" cy="748.6" r="2.4" fill="#00ee00" stroke="#3a3" stroke-width="0.4"/>
<rect x="621.9" y="765.6" width="3.8" height="3.8" fill="#0000ff"/>
<rect x="621.9" y="784.9" width="3.8" height="3.8" fill="#0000ff"/>
<line x1="667" y1="617.4" x2="667" y2="644" stroke="#3a3a3a" stroke-width="0.85"/>
<line x1="667" y1="644" x2="667" y2="663.7" stroke="#3a3a3a" stroke-width="0.85"/>
<line x1="667" y1="663.7" x2="667" y2="684.3" stroke="#3a3a3a" stroke-width="0.85"/>
<line x1="685.5" y1="617.4" x2="685.5" y2="644" stroke="#3a3a3a" stroke-width="0.85"/>
<line x1="685.5" y1="644" x2="685.5" y2="663.7" stroke="#3a3a3a" stroke-width="0.85"/>
<line x1="722.4" y1="618" x2="722.4" y2="644.4" stroke="#3a3a3a" stroke-width="0.85"/>
<line x1="722.4" y1="644.4" x2="722.4" y2="664.3" stroke="#3a3a3a" stroke-width="0.85"/>
<line x1="685" y1="704.6" x2="685" y2="724.9" stroke="#3a3a3a" stroke-width="0.85"/>
<line x1="685" y1="724.9" x2="685" y2="744.7" stroke="#3a3a3a" stroke-width="0.85"/>
<line x1="685.5" y1="663.7" x2="703.5" y2="684.3" stroke="#3a3a3a" stroke-width="0.85"/>
<line x1="722.4" y1="664.3" x2="703.5" y2="684.3" stroke="#3a3a3a" stroke-width="0.85"/>
<line x1="667" y1="684.3" x2="685" y2="704.6" stroke="#3a3a3a" stroke-width="0.85"/>
<line x1="703.5" y1="684.3" x2="685" y2="704.6" stroke="#3a3a3a" stroke-width="0.85"/>
<line x1="685" y1="684.3" x2="685" y2="704.6" stroke="#3a3a3a" stroke-width="0.85"/>
<text transform="translate(667.6,632.2) rotate(90)" font-size="4.4" font-family='"Liberation Sans", sans-serif' font-weight="bold" fill="#111" text-anchor="middle" textLength="4" lengthAdjust="spacingAndGlyphs">&#946;4</text>
<text transform="translate(667.6,655.35) rotate(90)" font-size="4.4" font-family='"Liberation Sans", sans-serif' font-weight="bold" fill="#111" text-anchor="middle" textLength="4" lengthAdjust="spacingAndGlyphs">&#946;4</text>
<text transform="translate(667.6,675.5) rotate(90)" font-size="4.4" font-family='"Liberation Sans", sans-serif' font-weight="bold" fill="#111" text-anchor="middle" textLength="4" lengthAdjust="spacingAndGlyphs">&#946;4</text>
<text transform="translate(686.1,632.2) rotate(90)" font-size="4.4" font-family='"Liberation Sans", sans-serif' font-weight="bold" fill="#111" text-anchor="middle" textLength="4" lengthAdjust="spacingAndGlyphs">&#946;4</text>
<text transform="translate(686.1,655.35) rotate(90)" font-size="4.4" font-family='"Liberation Sans", sans-serif' font-weight="bold" fill="#111" text-anchor="middle" textLength="4" lengthAdjust="spacingAndGlyphs">&#946;4</text>
<text transform="translate(723,632.7) rotate(90)" font-size="4.4" font-family='"Liberation Sans", sans-serif' font-weight="bold" fill="#111" text-anchor="middle" textLength="4" lengthAdjust="spacingAndGlyphs">&#946;4</text>
<text transform="translate(723,655.85) rotate(90)" font-size="4.4" font-family='"Liberation Sans", sans-serif' font-weight="bold" fill="#111" text-anchor="middle" textLength="4" lengthAdjust="spacingAndGlyphs">&#946;4</text>
<text transform="translate(685.6,716.25) rotate(90)" font-size="4.4" font-family='"Liberation Sans", sans-serif' font-weight="bold" fill="#111" text-anchor="middle" textLength="4" lengthAdjust="spacingAndGlyphs">&#946;4</text>
<text transform="translate(685.6,736.3) rotate(90)" font-size="4.4" font-family='"Liberation Sans", sans-serif' font-weight="bold" fill="#111" text-anchor="middle" textLength="4" lengthAdjust="spacingAndGlyphs">&#946;4</text>
<text transform="translate(695.1,675.5) rotate(90)" font-size="4.4" font-family='"Liberation Sans", sans-serif' font-weight="bold" fill="#111" text-anchor="middle" textLength="4" lengthAdjust="spacingAndGlyphs">&#946;4</text>
<text transform="translate(713.55,675.8) rotate(90)" font-size="4.4" font-family='"Liberation Sans", sans-serif' font-weight="bold" fill="#111" text-anchor="middle" textLength="4" lengthAdjust="spacingAndGlyphs">&#946;4</text>
<text transform="translate(676.6,695.95) rotate(90)" font-size="4.4" font-family='"Liberation Sans", sans-serif' font-weight="bold" fill="#111" text-anchor="middle" textLength="4" lengthAdjust="spacingAndGlyphs">&#946;4</text>
<text transform="translate(694.85,695.95) rotate(90)" font-size="4.4" font-family='"Liberation Sans", sans-serif' font-weight="bold" fill="#111" text-anchor="middle" textLength="4" lengthAdjust="spacingAndGlyphs">&#946;4</text>
<text transform="translate(685.6,695.95) rotate(90)" font-size="4.4" font-family='"Liberation Sans", sans-serif' font-weight="bold" fill="#111" text-anchor="middle" textLength="4" lengthAdjust="spacingAndGlyphs">&#946;4</text>
<polygon points="667,609.4 675,617.4 667,625.4 659,617.4" fill="#c000c0" stroke="#222" stroke-width="0.9"/>
<circle cx="667" cy="644" r="2.6" fill="#ffff00" stroke="#666" stroke-width="0.5"/>
<rect x="665.1" y="661.8" width="3.8" height="3.8" fill="#0000ff"/>
<circle cx="667" cy="684.3" r="2.4" fill="#00ee00" stroke="#3a3" stroke-width="0.4"/>
<polygon points="685.5,609.4 693.5,617.4 685.5,625.4 677.5,617.4" fill="#c000c0" stroke="#222" stroke-width="0.9"/>
<circle cx="685.5" cy="644" r="2.6" fill="#ffff00" stroke="#666" stroke-width="0.5"/>
<rect x="683.6" y="661.8" width="3.8" height="3.8" fill="#0000ff"/>
<polygon points="722.4,610 730.4,618 722.4,626 714.4,618" fill="#c000c0" stroke="#222" stroke-width="0.9"/>
<circle cx="722.4" cy="644.4" r="2.6" fill="#ffff00" stroke="#666" stroke-width="0.5"/>
<rect x="720.5" y="662.4" width="3.8" height="3.8" fill="#0000ff"/>
<circle cx="703.5" cy="684.3" r="2.4" fill="#00ee00" stroke="#3a3" stroke-width="0.4"/>
<rect x="683.1" y="682.4" width="3.8" height="3.8" fill="#0000ff"/>
<circle cx="685" cy="704.6" r="2.4" fill="#00ee00" stroke="#3a3" stroke-width="0.4"/>
<rect x="683.1" y="723" width="3.8" height="3.8" fill="#0000ff"/>
<rect x="683.1" y="742.8" width="3.8" height="3.8" fill="#0000ff"/>
<line x1="581.7" y1="821" x2="581.7" y2="846.3" stroke="#3a3a3a" stroke-width="0.85"/>
<line x1="581.7" y1="846.3" x2="581.7" y2="865.5" stroke="#3a3a3a" stroke-width="0.85"/>
<line x1="615.7" y1="821" x2="615.7" y2="846.3" stroke="#3a3a3a" stroke-width="0.85"/>
<line x1="615.7" y1="846.3" x2="615.7" y2="865.5" stroke="#3a3a3a" stroke-width="0.85"/>
<line x1="632.5" y1="821.7" x2="632.5" y2="846.3" stroke="#3a3a3a" stroke-width="0.85"/>
<line x1="632.5" y1="846.3" x2="632.5" y2="865.5" stroke="#3a3a3a" stroke-width="0.85"/>
<line x1="632.5" y1="865.5" x2="632.5" y2="884.3" stroke="#3a3a3a" stroke-width="0.85"/>
<line x1="615.7" y1="903.1" x2="615.7" y2="921.7" stroke="#3a3a3a" stroke-width="0.85"/>
<line x1="615.7" y1="921.7" x2="615.7" y2="940.5" stroke="#3a3a3a" stroke-width="0.85"/>
<line x1="581.7" y1="865.5" x2="598.3" y2="884.3" stroke="#3a3a3a" stroke-width="0.85"/>
<line x1="615.7" y1="865.5" x2="598.3" y2="884.3" stroke="#3a3a3a" stroke-width="0.85"/>
<line x1="598.3" y1="884.3" x2="615.7" y2="903.1" stroke="#3a3a3a" stroke-width="0.85"/>
<line x1="632.5" y1="884.3" x2="615.7" y2="903.1" stroke="#3a3a3a" stroke-width="0.85"/>
<line x1="615.7" y1="884.3" x2="615.7" y2="903.1" stroke="#3a3a3a" stroke-width="0.85"/>
<text transform="translate(582.3,835.15) rotate(90)" font-size="4.4" font-family='"Liberation Sans", sans-serif' font-weight="bold" fill="#111" text-anchor="middle" textLength="4" lengthAdjust="spacingAndGlyphs">&#946;4</text>
<text transform="translate(582.3,857.4) rotate(90)" font-size="4.4" font-family='"Liberation Sans", sans-serif' font-weight="bold" fill="#111" text-anchor="middle" textLength="4" lengthAdjust="spacingAndGlyphs">&#946;4</text>
<text transform="translate(616.3,835.15) rotate(90)" font-size="4.4" font-family='"Liberation Sans", sans-serif' font-weight="bold" fill="#111" text-anchor="middle" textLength="4" lengthAdjust="spacingAndGlyphs">&#946;4</text>
<text transform="translate(616.3,857.4) rotate(90)" font-size="4.4" font-family='"Liberation Sans", sans-serif' font-weight="bold" fill="#111" text-anchor="middle" textLength="4" lengthAdjust="spacingAndGlyphs">&#946;4</text>
<text transform="translate(633.1,835.5) rotate(90)" font-size="4.4" font-family='"Liberation Sans", sans-serif' font-weight="bold" fill="#111" text-anchor="middle" textLength="4" lengthAdjust="spacingAndGlyphs">&#946;4</text>
<text transform="translate(633.1,857.4) rotate(90)" font-size="4.4" font-family='"Liberation Sans", sans-serif' font-weight="bold" fill="#111" text-anchor="middle" textLength="4" lengthAdjust="spacingAndGlyphs">&#946;4</text>
<text transform="translate(633.1,876.4) rotate(90)" font-size="4.4" font-family='"Liberation Sans", sans-serif' font-weight="bold" fill="#111" text-anchor="middle" textLength="4" lengthAdjust="spacingAndGlyphs">&#946;4</text>
<text transform="translate(616.3,913.9) rotate(90)" font-size="4.4" font-family='"Liberation Sans", sans-serif' font-weight="bold" fill="#111" text-anchor="middle" textLength="4" lengthAdjust="spacingAndGlyphs">&#946;4</text>
<text transform="translate(616.3,932.6) rotate(90)" font-size="4.4" font-family='"Liberation Sans", sans-serif' font-weight="bold" fill="#111" text-anchor="middle" textLength="4" lengthAdjust="spacingAndGlyphs">&#946;4</text>
<text transform="translate(590.6,876.4) rotate(90)" font-size="4.4" font-family='"Liberation Sans", sans-serif' font-weight="bold" fill="#111" text-anchor="middle" textLength="4" lengthAdjust="spacingAndGlyphs">&#946;4</text>
<text transform="translate(607.6,876.4) rotate(90)" font-size="4.4" font-family='"Liberation Sans", sans-serif' font-weight="bold" fill="#111" text-anchor="middle" textLength="4" lengthAdjust="spacingAndGlyphs">&#946;4</text>
<text transform="translate(607.6,895.2) rotate(90)" font-size="4.4" font-family='"Liberation Sans", sans-serif' font-weight="bold" fill="#111" text-anchor="middle" textLength="4" lengthAdjust="spacingAndGlyphs">&#946;4</text>
<text transform="translate(624.7,895.2) rotate(90)" font-size="4.4" font-family='"Liberation Sans", sans-serif' font-weight="bold" fill="#111" text-anchor="middle" textLength="4" lengthAdjust="spacingAndGlyphs">&#946;4</text>
<text transform="translate(616.3,895.2) rotate(90)" font-size="4.4" font-family='"Liberation Sans", sans-serif' font-weight="bold" fill="#111" text-anchor="middle" textLength="4" lengthAdjust="spacingAndGlyphs">&#946;4</text>
<polygon points="581.7,813 589.7,821 581.7,829 573.7,821" fill="#c000c0" stroke="#222" stroke-width="0.9"/>
<circle cx="581.7" cy="846.3" r="2.6" fill="#ffff00" stroke="#666" stroke-width="0.5"/>
<rect x="579.8" y="863.6" width="3.8" height="3.8" fill="#0000ff"/>
<polygon points="615.7,813 623.7,821 615.7,829 607.7,821" fill="#c000c0" stroke="#222" stroke-width="0.9"/>
<circle cx="615.7" cy="846.3" r="2.6" fill="#ffff00" stroke="#666" stroke-width="0.5"/>
<rect x="613.8" y="863.6" width="3.8" height="3.8" fill="#0000ff"/>
<polygon points="632.5,813.7 640.5,821.7 632.5,829.7 624.5,821.7" fill="#c000c0" stroke="#222" stroke-width="0.9"/>
<circle cx="632.5" cy="846.3" r="2.6" fill="#ffff00" stroke="#666" stroke-width="0.5"/>
<rect x="630.6" y="863.6" width="3.8" height="3.8" fill="#0000ff"/>
<circle cx="632.5" cy="884.3" r="2.4" fill="#00ee00" stroke="#3a3" stroke-width="0.4"/>
<circle cx="598.3" cy="884.3" r="2.4" fill="#00ee00" stroke="#3a3" stroke-width="0.4"/>
<rect x="613.8" y="882.4" width="3.8" height="3.8" fill="#0000ff"/>
<circle cx="615.7" cy="903.1" r="2.4" fill="#00ee00" stroke="#3a3" stroke-width="0.4"/>
<rect x="613.8" y="919.8" width="3.8" height="3.8" fill="#0000ff"/>
<rect x="613.8" y="938.6" width="3.8" height="3.8" fill="#0000ff"/>
<line x1="719.6" y1="720.2" x2="719.6" y2="744.7" stroke="#3a3a3a" stroke-width="0.85"/>
<line x1="719.6" y1="744.7" x2="719.6" y2="764" stroke="#3a3a3a" stroke-width="0.85"/>
<line x1="753.4" y1="720.2" x2="753.4" y2="744.7" stroke="#3a3a3a" stroke-width="0.85"/>
<line x1="753.4" y1="744.7" x2="753.4" y2="764" stroke="#3a3a3a" stroke-width="0.85"/>
<line x1="771.2" y1="720.2" x2="771.2" y2="744.7" stroke="#3a3a3a" stroke-width="0.85"/>
<line x1="771.2" y1="744.7" x2="771.2" y2="764" stroke="#3a3a3a" stroke-width="0.85"/>
<line x1="771.2" y1="764" x2="771.2" y2="782.9" stroke="#3a3a3a" stroke-width="0.85"/>
<line x1="754.1" y1="801.7" x2="754.1" y2="821" stroke="#3a3a3a" stroke-width="0.85"/>
<line x1="754.1" y1="821" x2="754.1" y2="840" stroke="#3a3a3a" stroke-width="0.85"/>
<line x1="719.6" y1="764" x2="736.9" y2="782.9" stroke="#3a3a3a" stroke-width="0.85"/>
<line x1="753.4" y1="764" x2="736.9" y2="782.9" stroke="#3a3a3a" stroke-width="0.85"/>
<line x1="736.9" y1="782.9" x2="754.1" y2="801.7" stroke="#3a3a3a" stroke-width="0.85"/>
<line x1="771.2" y1="782.9" x2="754.1" y2="801.7" stroke="#3a3a3a" stroke-width="0.85"/>
<line x1="753.9" y1="782.9" x2="754.1" y2="801.7" stroke="#3a3a3a" stroke-width="0.85"/>
<text transform="translate(720.2,733.95) rotate(90)" font-size="4.4" font-family='"Liberation Sans", sans-serif' font-weight="bold" fill="#111" text-anchor="middle" textLength="4" lengthAdjust="spacingAndGlyphs">&#946;4</text>
<text transform="translate(720.2,755.85) rotate(90)" font-size="4.4" font-family='"Liberation Sans", sans-serif' font-weight="bold" fill="#111" text-anchor="middle" textLength="4" lengthAdjust="spacingAndGlyphs">&#946;4</text>
<text transform="translate(754,733.95) rotate(90)" font-size="4.4" font-family='"Liberation Sans", sans-serif' font-weight="bold" fill="#111" text-anchor="middle" textLength="4" lengthAdjust="spacingAndGlyphs">&#946;4</text>
<text transform="translate(754,755.85) rotate(90)" font-size="4.4" font-family='"Liberation Sans", sans-serif' font-weight="bold" fill="#111" text-anchor="middle" textLength="4" lengthAdjust="spacingAndGlyphs">&#946;4</text>
<text transform="translate(771.8,733.95) rotate(90)" font-size="4.4" font-family='"Liberation Sans", sans-serif' font-weight="bold" fill="#111" text-anchor="middle" textLength="4" lengthAdjust="spacingAndGlyphs">&#946;4</text>
<text transform="translate(771.8,755.85) rotate(90)" font-size="4.4" font-family='"Liberation Sans", sans-serif' font-weight="bold" fill="#111" text-anchor="middle" textLength="4" lengthAdjust="spacingAndGlyphs">&#946;4</text>
<text transform="translate(771.8,774.95) rotate(90)" font-size="4.4" font-family='"Liberation Sans", sans-serif' font-weight="bold" fill="#111" text-anchor="middle" textLength="4" lengthAdjust="spacingAndGlyphs">&#946;4</text>
<text transform="translate(754.7,812.85) rotate(90)" font-size="4.4" font-family='"Liberation Sans", sans-serif' font-weight="bold" fill="#111" text-anchor="middle" textLength="4" lengthAdjust="spacingAndGlyphs">&#946;4</text>
<text transform="translate(754.7,832) rotate(90)" font-size="4.4" font-family='"Liberation Sans", sans-serif' font-weight="bold" fill="#111" text-anchor="middle" textLength="4" lengthAdjust="spacingAndGlyphs">&#946;4</text>
<text transform="translate(728.85,774.95) rotate(90)" font-size="4.4" font-family='"Liberation Sans", sans-serif' font-weight="bold" fill="#111" text-anchor="middle" textLength="4" lengthAdjust="spacingAndGlyphs">&#946;4</text>
<text transform="translate(745.75,774.95) rotate(90)" font-size="4.4" font-family='"Liberation Sans", sans-serif' font-weight="bold" fill="#111" text-anchor="middle" textLength="4" lengthAdjust="spacingAndGlyphs">&#946;4</text>
<text transform="translate(746.1,793.8) rotate(90)" font-size="4.4" font-family='"Liberation Sans", sans-serif' font-weight="bold" fill="#111" text-anchor="middle" textLength="4" lengthAdjust="spacingAndGlyphs">&#946;4</text>
<text transform="translate(763.25,793.8) rotate(90)" font-size="4.4" font-family='"Liberation Sans", sans-serif' font-weight="bold" fill="#111" text-anchor="middle" textLength="4" lengthAdjust="spacingAndGlyphs">&#946;4</text>
<text transform="translate(754.6,793.8) rotate(90)" font-size="4.4" font-family='"Liberation Sans", sans-serif' font-weight="bold" fill="#111" text-anchor="middle" textLength="4" lengthAdjust="spacingAndGlyphs">&#946;4</text>
<polygon points="719.6,712.2 727.6,720.2 719.6,728.2 711.6,720.2" fill="#c000c0" stroke="#222" stroke-width="0.9"/>
<circle cx="719.6" cy="744.7" r="2.6" fill="#ffff00" stroke="#666" stroke-width="0.5"/>
<rect x="717.7" y="762.1" width="3.8" height="3.8" fill="#0000ff"/>
<polygon points="753.4,712.2 761.4,720.2 753.4,728.2 745.4,720.2" fill="#c000c0" stroke="#222" stroke-width="0.9"/>
<circle cx="753.4" cy="744.7" r="2.6" fill="#ffff00" stroke="#666" stroke-width="0.5"/>
<rect x="751.5" y="762.1" width="3.8" height="3.8" fill="#0000ff"/>
<polygon points="771.2,712.2 779.2,720.2 771.2,728.2 763.2,720.2" fill="#c000c0" stroke="#222" stroke-width="0.9"/>
<circle cx="771.2" cy="744.7" r="2.6" fill="#ffff00" stroke="#666" stroke-width="0.5"/>
<rect x="769.3" y="762.1" width="3.8" height="3.8" fill="#0000ff"/>
<circle cx="771.2" cy="782.9" r="2.4" fill="#00ee00" stroke="#3a3" stroke-width="0.4"/>
<circle cx="736.9" cy="782.9" r="2.4" fill="#00ee00" stroke="#3a3" stroke-width="0.4"/>
<rect x="752" y="781" width="3.8" height="3.8" fill="#0000ff"/>
<circle cx="754.1" cy="801.7" r="2.4" fill="#00ee00" stroke="#3a3" stroke-width="0.4"/>
<rect x="752.2" y="819.1" width="3.8" height="3.8" fill="#0000ff"/>
<rect x="752.2" y="838.1" width="3.8" height="3.8" fill="#0000ff"/>
<line x1="805.3" y1="692" x2="805.3" y2="717.1" stroke="#3a3a3a" stroke-width="0.85"/>
<line x1="805.3" y1="717.1" x2="805.3" y2="737.2" stroke="#3a3a3a" stroke-width="0.85"/>
<line x1="841.2" y1="692" x2="841.2" y2="717.1" stroke="#3a3a3a" stroke-width="0.85"/>
<line x1="841.2" y1="717.1" x2="841.2" y2="737.2" stroke="#3a3a3a" stroke-width="0.85"/>
<line x1="877.3" y1="692" x2="877.3" y2="717.1" stroke="#3a3a3a" stroke-width="0.85"/>
<line x1="877.3" y1="717.1" x2="877.3" y2="737.2" stroke="#3a3a3a" stroke-width="0.85"/>
<line x1="913.7" y1="692" x2="913.7" y2="717.1" stroke="#3a3a3a" stroke-width="0.85"/>
<line x1="913.7" y1="717.1" x2="913.7" y2="737.2" stroke="#3a3a3a" stroke-width="0.85"/>
<line x1="859.2" y1="777.3" x2="859.2" y2="797.9" stroke="#3a3a3a" stroke-width="0.85"/>
<line x1="859.2" y1="797.9" x2="859.2" y2="818" stroke="#3a3a3a" stroke-width="0.85"/>
<line x1="805.3" y1="737.2" x2="822.9" y2="757.3" stroke="#3a3a3a" stroke-width="0.85"/>
<line x1="841.2" y1="737.2" x2="822.9" y2="757.3" stroke="#3a3a3a" stroke-width="0.85"/>
<line x1="877.3" y1="737.2" x2="895.6" y2="757.3" stroke="#3a3a3a" stroke-width="0.85"/>
<line x1="913.7" y1="737.2" x2="895.6" y2="757.3" stroke="#3a3a3a" stroke-width="0.85"/>
<line x1="822.9" y1="757.3" x2="859.2" y2="777.3" stroke="#3a3a3a" stroke-width="0.85"/>
<line x1="895.6" y1="757.3" x2="859.2" y2="777.3" stroke="#3a3a3a" stroke-width="0.85"/>
<line x1="859.2" y1="757.3" x2="859.2" y2="777.3" stroke="#3a3a3a" stroke-width="0.85"/>
<text transform="translate(805.9,706.05) rotate(90)" font-size="4.4" font-family='"Liberation Sans", sans-serif' font-weight="bold" fill="#111" text-anchor="middle" textLength="4" lengthAdjust="spacingAndGlyphs">&#946;4</text>
<text transform="translate(805.9,728.65) rotate(90)" font-size="4.4" font-family='"Liberation Sans", sans-serif' font-weight="bold" fill="#111" text-anchor="middle" textLength="4" lengthAdjust="spacingAndGlyphs">&#946;4</text>
<text transform="translate(841.8,706.05) rotate(90)" font-size="4.4" font-family='"Liberation Sans", sans-serif' font-weight="bold" fill="#111" text-anchor="middle" textLength="4" lengthAdjust="spacingAndGlyphs">&#946;4</text>
<text transform="translate(841.8,728.65) rotate(90)" font-size="4.4" font-family='"Liberation Sans", sans-serif' font-weight="bold" fill="#111" text-anchor="middle" textLength="4" lengthAdjust="spacingAndGlyphs">&#946;4</text>
<text transform="translate(877.9,706.05) rotate(90)" font-size="4.4" font-family='"Liberation Sans", sans-serif' font-weight="bold" fill="#111" text-anchor="middle" textLength="4" lengthAdjust="spacingAndGlyphs">&#946;4</text>
<text transform="translate(877.9,728.65) rotate(90)" font-size="4.4" font-family='"Liberation Sans", sans-serif' font-weight="bold" fill="#111" text-anchor="middle" textLength="4" lengthAdjust="spacingAndGlyphs">&#946;4</text>
<text transform="translate(914.3,706.05) rotate(90)" font-size="4.4" font-family='"Liberation Sans", sans-serif' font-weight="bold" fill="#111" text-anchor="middle" textLength="4" lengthAdjust="spacingAndGlyphs">&#946;4</text>
<text transform="translate(914.3,728.65) rotate(90)" font-size="4.4" font-family='"Liberation Sans", sans-serif' font-weight="bold" fill="#111" text-anchor="middle" textLength="4" lengthAdjust="spacingAndGlyphs">&#946;4</text>
<text transform="translate(859.8,789.1) rotate(90)" font-size="4.4" font-family='"Liberation Sans", sans-serif' font-weight="bold" fill="#111" text-anchor="middle" textLength="4" lengthAdjust="spacingAndGlyphs">&#946;4</text>
<text transform="translate(859.8,809.45) rotate(90)" font-size="4.4" font-family='"Liberation Sans", sans-serif' font-weight="bold" fill="#111" text-anchor="middle" textLength="4" lengthAdjust="spacingAndGlyphs">&#946;4</text>
<text transform="translate(814.7,748.75) rotate(90)" font-size="4.4" font-family='"Liberation Sans", sans-serif' font-weight="bold" fill="#111" text-anchor="middle" textLength="4" lengthAdjust="spacingAndGlyphs">&#946;4</text>
<text transform="translate(832.65,748.75) rotate(90)" font-size="4.4" font-family='"Liberation Sans", sans-serif' font-weight="bold" fill="#111" text-anchor="middle" textLength="4" lengthAdjust="spacingAndGlyphs">&#946;4</text>
<text transform="translate(887.05,748.75) rotate(90)" font-size="4.4" font-family='"Liberation Sans", sans-serif' font-weight="bold" fill="#111" text-anchor="middle" textLength="4" lengthAdjust="spacingAndGlyphs">&#946;4</text>
<text transform="translate(905.25,748.75) rotate(90)" font-size="4.4" font-family='"Liberation Sans", sans-serif' font-weight="bold" fill="#111" text-anchor="middle" textLength="4" lengthAdjust="spacingAndGlyphs">&#946;4</text>
<text transform="translate(841.65,768.8) rotate(90)" font-size="4.4" font-family='"Liberation Sans", sans-serif' font-weight="bold" fill="#111" text-anchor="middle" textLength="4" lengthAdjust="spacingAndGlyphs">&#946;4</text>
<text transform="translate(878,768.8) rotate(90)" font-size="4.4" font-family='"Liberation Sans", sans-serif' font-weight="bold" fill="#111" text-anchor="middle" textLength="4" lengthAdjust="spacingAndGlyphs">&#946;4</text>
<text transform="translate(859.8,768.8) rotate(90)" font-size="4.4" font-family='"Liberation Sans", sans-serif' font-weight="bold" fill="#111" text-anchor="middle" textLength="4" lengthAdjust="spacingAndGlyphs">&#946;4</text>
<polygon points="805.3,684 813.3,692 805.3,700 797.3,692" fill="#c000c0" stroke="#222" stroke-width="0.9"/>
<circle cx="805.3" cy="717.1" r="2.6" fill="#ffff00" stroke="#666" stroke-width="0.5"/>
<rect x="803.4" y="735.3" width="3.8" height="3.8" fill="#0000ff"/>
<polygon points="841.2,684 849.2,692 841.2,700 833.2,692" fill="#c000c0" stroke="#222" stroke-width="0.9"/>
<circle cx="841.2" cy="717.1" r="2.6" fill="#ffff00" stroke="#666" stroke-width="0.5"/>
<rect x="839.3" y="735.3" width="3.8" height="3.8" fill="#0000ff"/>
<polygon points="877.3,684 885.3,692 877.3,700 869.3,692" fill="#c000c0" stroke="#222" stroke-width="0.9"/>
<circle cx="877.3" cy="717.1" r="2.6" fill="#ffff00" stroke="#666" stroke-width="0.5"/>
<rect x="875.4" y="735.3" width="3.8" height="3.8" fill="#0000ff"/>
<polygon points="913.7,684 921.7,692 913.7,700 905.7,692" fill="#c000c0" stroke="#222" stroke-width="0.9"/>
<circle cx="913.7" cy="717.1" r="2.6" fill="#ffff00" stroke="#666" stroke-width="0.5"/>
<rect x="911.8" y="735.3" width="3.8" height="3.8" fill="#0000ff"/>
<circle cx="822.9" cy="757.3" r="2.4" fill="#00ee00" stroke="#3a3" stroke-width="0.4"/>
<circle cx="895.6" cy="757.3" r="2.4" fill="#00ee00" stroke="#3a3" stroke-width="0.4"/>
<rect x="857.3" y="755.4" width="3.8" height="3.8" fill="#0000ff"/>
<circle cx="859.2" cy="777.3" r="2.4" fill="#00ee00" stroke="#3a3" stroke-width="0.4"/>
<rect x="857.3" y="796" width="3.8" height="3.8" fill="#0000ff"/>
<rect x="857.3" y="816.1" width="3.8" height="3.8" fill="#0000ff"/>
<text transform="translate(430.2,747.2) rotate(90)" font-size="4.4" font-family='"Liberation Sans", sans-serif' font-weight="bold" fill="#222" text-anchor="middle" textLength="8" lengthAdjust="spacingAndGlyphs">&#945;&#945;&#945;&#945;</text>
<text transform="translate(465,801.8) rotate(90)" font-size="4.4" font-family='"Liberation Sans", sans-serif' font-weight="bold" fill="#222" text-anchor="middle" textLength="8" lengthAdjust="spacingAndGlyphs">&#945;&#945;&#945;&#945;</text>
<text x="399" y="888.8" font-size="16.5" font-family='"Liberation Serif", serif' font-weight="bold" text-anchor="start" fill="#000" textLength="21.6" lengthAdjust="spacingAndGlyphs" stroke="#000" stroke-width="0.35">241</text>
<text x="411.1" y="866.1" font-size="16.5" font-family='"Liberation Serif", serif' font-weight="bold" text-anchor="start" fill="#000" textLength="23.3" lengthAdjust="spacingAndGlyphs" stroke="#000" stroke-width="0.35">243</text>
<text x="431" y="768" font-size="16.5" font-family='"Liberation Serif", serif' font-weight="bold" text-anchor="start" fill="#000" textLength="22.6" lengthAdjust="spacingAndGlyphs" stroke="#000" stroke-width="0.35">252</text>
<text x="448.6" y="831.1" font-size="16.5" font-family='"Liberation Serif", serif' font-weight="bold" text-anchor="start" fill="#000" textLength="22.2" lengthAdjust="spacingAndGlyphs" stroke="#000" stroke-width="0.35">251</text>
<text x="527.2" y="863.9" font-size="16.5" font-family='"Liberation Serif", serif' font-weight="bold" text-anchor="start" fill="#000" textLength="23.4" lengthAdjust="spacingAndGlyphs" stroke="#000" stroke-width="0.35">325</text>
<text x="690.3" y="884.2" font-size="16.5" font-family='"Liberation Serif", serif' font-weight="bold" text-anchor="start" fill="#000" textLength="22.5" lengthAdjust="spacingAndGlyphs" stroke="#000" stroke-width="0.35">459</text>
<text x="690.3" y="908.8" font-size="16.5" font-family='"Liberation Serif", serif' font-weight="bold" text-anchor="start" fill="#000" textLength="22.5" lengthAdjust="spacingAndGlyphs" stroke="#000" stroke-width="0.35">460</text>
<text x="707.9" y="860.4" font-size="16.5" font-family='"Liberation Serif", serif' font-weight="bold" text-anchor="start" fill="#000" textLength="22" lengthAdjust="spacingAndGlyphs" stroke="#000" stroke-width="0.35">461</text>
<text x="727.6" y="881.5" font-size="16.5" font-family='"Liberation Serif", serif' font-weight="bold" text-anchor="start" fill="#000" textLength="22.5" lengthAdjust="spacingAndGlyphs" stroke="#000" stroke-width="0.35">464</text>
<text x="727.6" y="902" font-size="16.5" font-family='"Liberation Serif", serif' font-weight="bold" text-anchor="start" fill="#000" textLength="22.5" lengthAdjust="spacingAndGlyphs" stroke="#000" stroke-width="0.35">466</text>
<line x1="372.2" y1="873.2" x2="396.9" y2="882.3" stroke="#000" stroke-width="1.6"/>
<line x1="388.8" y1="811.5" x2="414.6" y2="850" stroke="#000" stroke-width="1.6"/>
<line x1="473.3" y1="805.4" x2="461.7" y2="819" stroke="#000" stroke-width="1.6"/>
<line x1="632.5" y1="782.4" x2="700.5" y2="870.1" stroke="#000" stroke-width="1.6"/>
<line x1="631.4" y1="895.1" x2="689.4" y2="902.6" stroke="#000" stroke-width="1.6"/>
<line x1="685.9" y1="750.5" x2="713.5" y2="846.4" stroke="#000" stroke-width="1.6"/>
<line x1="752.2" y1="846.4" x2="736.4" y2="869.2" stroke="#000" stroke-width="1.6"/>
<line x1="844.2" y1="779.1" x2="749.2" y2="887.7" stroke="#000" stroke-width="1.6"/>
</svg>
</body></html>
